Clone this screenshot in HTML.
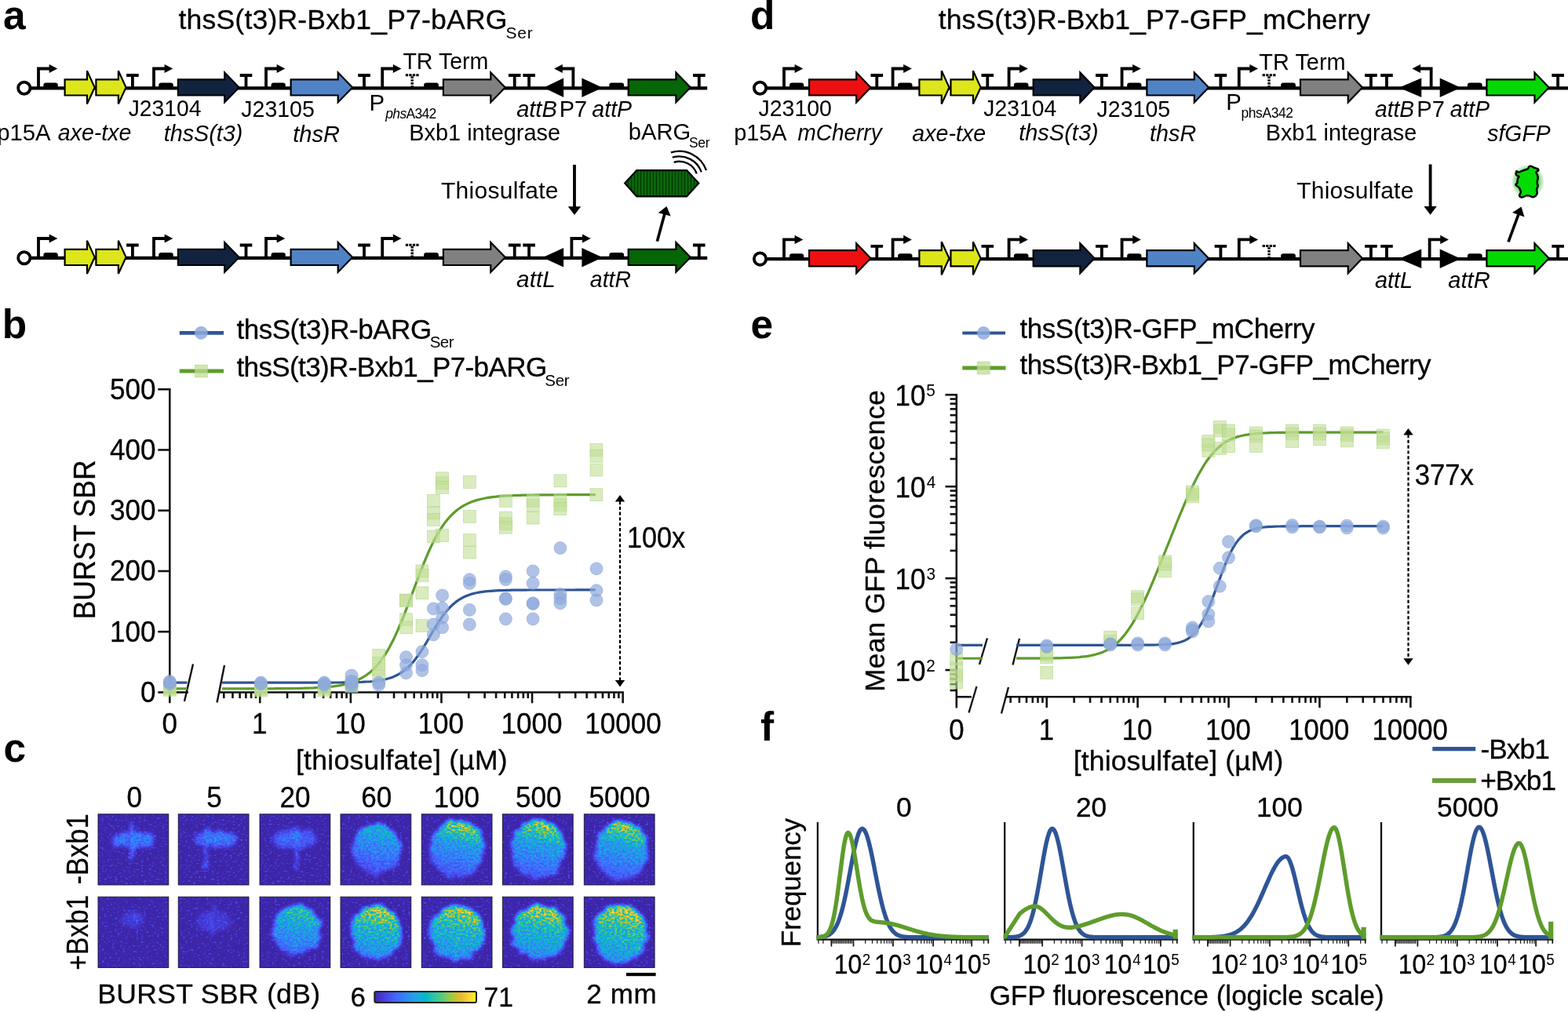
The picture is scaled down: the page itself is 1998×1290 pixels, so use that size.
<!DOCTYPE html>
<html lang="en"><head><meta charset="utf-8"><title>Figure</title>
<style>
html,body{margin:0;padding:0;background:#fff;}
body{width:1998px;height:1290px;overflow:hidden;}
svg{display:block;font-family:'Liberation Sans', sans-serif;fill:#000;}
svg text{fill:#000;}
.bd{stroke:#000;stroke-width:0.3px;stroke-linejoin:round;}
</style></head><body>
<svg width="1998" height="1290" viewBox="0 0 1998 1290">
<rect x="0" y="0" width="1998" height="1290" fill="#fff"/>
<line x1="38" y1="112.3" x2="901.2" y2="112.3" stroke="#000" stroke-width="4.2"/>
<circle cx="30.8" cy="112.2" r="7.65" fill="#fff" stroke="#000" stroke-width="3.8"/>
<path d="M49.0,112.3 V87.50 H63.5" fill="none" stroke="#000" stroke-width="3.8" stroke-linejoin="miter"/>
<path d="M62.6,81.90 L73.3,87.50 L62.6,93.10 Z" fill="#000"/>
<path d="M55.39999999999999,113.8 V108.60 Q55.39999999999999,105.40 58.599999999999994,105.40 H70.6 Q73.8,105.40 73.8,108.60 V113.8 Z" fill="#000"/>
<path d="M82.60,101.30 H110.94 V90.30 L120.64,111.40 L110.94,132.50 V121.50 H82.60 Z" fill="#dde61a" stroke="#000" stroke-width="2.2" stroke-linejoin="miter" stroke-miterlimit="2.5"/>
<path d="M122.40,101.30 H150.84 V90.30 L160.54,111.40 L150.84,132.50 V121.50 H122.40 Z" fill="#dde61a" stroke="#000" stroke-width="2.2" stroke-linejoin="miter" stroke-miterlimit="2.5"/>
<path d="M168.9,112.3 V96.00 M161.1,96.00 H176.70000000000002" fill="none" stroke="#000" stroke-width="3.8"/>
<path d="M196.0,112.3 V87.50 H210.5" fill="none" stroke="#000" stroke-width="3.8" stroke-linejoin="miter"/>
<path d="M209.6,81.90 L220.3,87.50 L209.6,93.10 Z" fill="#000"/>
<path d="M202.2,113.8 V108.60 Q202.2,105.40 205.39999999999998,105.40 H217.60000000000002 Q220.8,105.40 220.8,108.60 V113.8 Z" fill="#000"/>
<path d="M226.90,101.30 H286.20 V92.40 L304.64,111.40 L286.20,130.40 V121.50 H226.90 Z" fill="#12233f" stroke="#000" stroke-width="2.2" stroke-linejoin="miter" stroke-miterlimit="8"/>
<path d="M313.5,112.3 V96.00 M305.7,96.00 H321.3" fill="none" stroke="#000" stroke-width="3.8"/>
<path d="M339.0,112.3 V87.50 H353.5" fill="none" stroke="#000" stroke-width="3.8" stroke-linejoin="miter"/>
<path d="M352.6,81.90 L363.3,87.50 L352.6,93.10 Z" fill="#000"/>
<path d="M345.5,113.8 V108.60 Q345.5,105.40 348.7,105.40 H360.59999999999997 Q363.79999999999995,105.40 363.79999999999995,108.60 V113.8 Z" fill="#000"/>
<path d="M370.60,101.30 H430.70 V92.40 L449.14,111.40 L430.70,130.40 V121.50 H370.60 Z" fill="#5083c6" stroke="#000" stroke-width="2.2" stroke-linejoin="miter" stroke-miterlimit="8"/>
<path d="M464.0,112.3 V96.00 M456.2,96.00 H471.8" fill="none" stroke="#000" stroke-width="3.8"/>
<path d="M487.2,112.3 V87.50 H501.7" fill="none" stroke="#000" stroke-width="3.8" stroke-linejoin="miter"/>
<path d="M500.8,81.90 L511.5,87.50 L500.8,93.10 Z" fill="#000"/>
<path d="M516.8000000000001,95.70 H533.6" fill="none" stroke="#000" stroke-width="3" stroke-dasharray="3.3 1.2"/>
<path d="M525.2,97.30 V110.80" fill="none" stroke="#000" stroke-width="3.4" stroke-dasharray="2.6 1.3"/>
<path d="M540.1,113.8 V108.60 Q540.1,105.40 543.3000000000001,105.40 H555.6999999999999 Q558.9,105.40 558.9,108.60 V113.8 Z" fill="#000"/>
<path d="M564.90,101.30 H625.30 V92.40 L643.74,111.40 L625.30,130.40 V121.50 H564.90 Z" fill="#808080" stroke="#000" stroke-width="2.2" stroke-linejoin="miter" stroke-miterlimit="8"/>
<path d="M655.7,112.3 V96.00 M647.9000000000001,96.00 H663.5" fill="none" stroke="#000" stroke-width="3.8"/>
<path d="M674.1,112.3 V96.00 M666.3000000000001,96.00 H681.9" fill="none" stroke="#000" stroke-width="3.8"/>
<path d="M718.1,99.6 L692.7,111.8 L718.1,124.0 Z" fill="#000"/>
<path d="M730.4,112.3 V87.50 H715.9" fill="none" stroke="#000" stroke-width="3.8" stroke-linejoin="miter"/>
<path d="M716.8,81.90 L706.1,87.50 L716.8,93.10 Z" fill="#000"/>
<path d="M741.4,99.6 L767.8,111.8 L741.4,124.0 Z" fill="#000"/>
<path d="M776.3,113.8 V108.60 Q776.3,105.40 779.5,105.40 H791.9000000000001 Q795.1000000000001,105.40 795.1000000000001,108.60 V113.8 Z" fill="#000"/>
<path d="M800.70,101.30 H861.40 V92.40 L879.84,111.40 L861.40,130.40 V121.50 H800.70 Z" fill="#046604" stroke="#000" stroke-width="2.2" stroke-linejoin="miter" stroke-miterlimit="8"/>
<path d="M890.8,112.3 V96.00 M883.0,96.00 H898.5999999999999" fill="none" stroke="#000" stroke-width="3.8"/>
<line x1="38" y1="328.8" x2="901.2" y2="328.8" stroke="#000" stroke-width="4.2"/>
<circle cx="30.8" cy="328.7" r="7.65" fill="#fff" stroke="#000" stroke-width="3.8"/>
<path d="M49.0,328.8 V304.00 H63.5" fill="none" stroke="#000" stroke-width="3.8" stroke-linejoin="miter"/>
<path d="M62.6,298.40 L73.3,304.00 L62.6,309.60 Z" fill="#000"/>
<path d="M55.39999999999999,330.3 V325.10 Q55.39999999999999,321.90 58.599999999999994,321.90 H70.6 Q73.8,321.90 73.8,325.10 V330.3 Z" fill="#000"/>
<path d="M82.60,317.80 H110.94 V306.80 L120.64,327.90 L110.94,349.00 V338.00 H82.60 Z" fill="#dde61a" stroke="#000" stroke-width="2.2" stroke-linejoin="miter" stroke-miterlimit="2.5"/>
<path d="M122.40,317.80 H150.84 V306.80 L160.54,327.90 L150.84,349.00 V338.00 H122.40 Z" fill="#dde61a" stroke="#000" stroke-width="2.2" stroke-linejoin="miter" stroke-miterlimit="2.5"/>
<path d="M168.9,328.8 V312.50 M161.1,312.50 H176.70000000000002" fill="none" stroke="#000" stroke-width="3.8"/>
<path d="M196.0,328.8 V304.00 H210.5" fill="none" stroke="#000" stroke-width="3.8" stroke-linejoin="miter"/>
<path d="M209.6,298.40 L220.3,304.00 L209.6,309.60 Z" fill="#000"/>
<path d="M202.2,330.3 V325.10 Q202.2,321.90 205.39999999999998,321.90 H217.60000000000002 Q220.8,321.90 220.8,325.10 V330.3 Z" fill="#000"/>
<path d="M226.90,317.80 H286.20 V308.90 L304.64,327.90 L286.20,346.90 V338.00 H226.90 Z" fill="#12233f" stroke="#000" stroke-width="2.2" stroke-linejoin="miter" stroke-miterlimit="8"/>
<path d="M313.5,328.8 V312.50 M305.7,312.50 H321.3" fill="none" stroke="#000" stroke-width="3.8"/>
<path d="M339.0,328.8 V304.00 H353.5" fill="none" stroke="#000" stroke-width="3.8" stroke-linejoin="miter"/>
<path d="M352.6,298.40 L363.3,304.00 L352.6,309.60 Z" fill="#000"/>
<path d="M345.5,330.3 V325.10 Q345.5,321.90 348.7,321.90 H360.59999999999997 Q363.79999999999995,321.90 363.79999999999995,325.10 V330.3 Z" fill="#000"/>
<path d="M370.60,317.80 H430.70 V308.90 L449.14,327.90 L430.70,346.90 V338.00 H370.60 Z" fill="#5083c6" stroke="#000" stroke-width="2.2" stroke-linejoin="miter" stroke-miterlimit="8"/>
<path d="M464.0,328.8 V312.50 M456.2,312.50 H471.8" fill="none" stroke="#000" stroke-width="3.8"/>
<path d="M487.2,328.8 V304.00 H501.7" fill="none" stroke="#000" stroke-width="3.8" stroke-linejoin="miter"/>
<path d="M500.8,298.40 L511.5,304.00 L500.8,309.60 Z" fill="#000"/>
<path d="M516.8000000000001,312.20 H533.6" fill="none" stroke="#000" stroke-width="3" stroke-dasharray="3.3 1.2"/>
<path d="M525.2,313.80 V327.30" fill="none" stroke="#000" stroke-width="3.4" stroke-dasharray="2.6 1.3"/>
<path d="M540.1,330.3 V325.10 Q540.1,321.90 543.3000000000001,321.90 H555.6999999999999 Q558.9,321.90 558.9,325.10 V330.3 Z" fill="#000"/>
<path d="M564.90,317.80 H625.30 V308.90 L643.74,327.90 L625.30,346.90 V338.00 H564.90 Z" fill="#808080" stroke="#000" stroke-width="2.2" stroke-linejoin="miter" stroke-miterlimit="8"/>
<path d="M655.7,328.8 V312.50 M647.9000000000001,312.50 H663.5" fill="none" stroke="#000" stroke-width="3.8"/>
<path d="M674.1,328.8 V312.50 M666.3000000000001,312.50 H681.9" fill="none" stroke="#000" stroke-width="3.8"/>
<path d="M718.1,316.1 L691.4,328.3 L718.1,340.5 Z" fill="#000"/>
<path d="M728.4,328.8 V304.00 H742.9" fill="none" stroke="#000" stroke-width="3.8" stroke-linejoin="miter"/>
<path d="M742.0,298.40 L752.6999999999999,304.00 L742.0,309.60 Z" fill="#000"/>
<path d="M741.4,316.1 L767.8,328.3 L741.4,340.5 Z" fill="#000"/>
<path d="M776.3,330.3 V325.10 Q776.3,321.90 779.5,321.90 H791.9000000000001 Q795.1000000000001,321.90 795.1000000000001,325.10 V330.3 Z" fill="#000"/>
<path d="M800.70,317.80 H861.40 V308.90 L879.84,327.90 L861.40,346.90 V338.00 H800.70 Z" fill="#046604" stroke="#000" stroke-width="2.2" stroke-linejoin="miter" stroke-miterlimit="8"/>
<path d="M890.8,328.8 V312.50 M883.0,312.50 H898.5999999999999" fill="none" stroke="#000" stroke-width="3.8"/>
<line x1="976" y1="112.3" x2="1998" y2="112.3" stroke="#000" stroke-width="4.2"/>
<circle cx="968.5" cy="112.2" r="7.65" fill="#fff" stroke="#000" stroke-width="3.8"/>
<path d="M999.0,112.3 V87.50 H1013.5" fill="none" stroke="#000" stroke-width="3.8" stroke-linejoin="miter"/>
<path d="M1012.6,81.90 L1023.3,87.50 L1012.6,93.10 Z" fill="#000"/>
<path d="M1006.0,113.8 V108.60 Q1006.0,105.40 1009.2,105.40 H1021.0 Q1024.2,105.40 1024.2,108.60 V113.8 Z" fill="#000"/>
<path d="M1031.10,101.30 H1091.20 V92.40 L1109.44,111.40 L1091.20,130.40 V121.50 H1031.10 Z" fill="#ee1010" stroke="#000" stroke-width="2.2" stroke-linejoin="miter" stroke-miterlimit="8"/>
<path d="M1117.3,112.3 V96.00 M1109.5,96.00 H1125.1" fill="none" stroke="#000" stroke-width="3.8"/>
<path d="M1137.6,112.3 V87.50 H1152.1" fill="none" stroke="#000" stroke-width="3.8" stroke-linejoin="miter"/>
<path d="M1151.1999999999998,81.90 L1161.8999999999999,87.50 L1151.1999999999998,93.10 Z" fill="#000"/>
<path d="M1144.1060799999998,113.8 V108.60 Q1144.1060799999998,105.40 1147.3060799999998,105.40 H1159.3060799999998 Q1162.5060799999999,105.40 1162.5060799999999,108.60 V113.8 Z" fill="#000"/>
<path d="M1171.42,101.30 H1199.79 V90.30 L1209.49,111.40 L1199.79,132.50 V121.50 H1171.42 Z" fill="#dde61a" stroke="#000" stroke-width="2.2" stroke-linejoin="miter" stroke-miterlimit="2.5"/>
<path d="M1211.49,101.30 H1239.96 V90.30 L1249.66,111.40 L1239.96,132.50 V121.50 H1211.49 Z" fill="#dde61a" stroke="#000" stroke-width="2.2" stroke-linejoin="miter" stroke-miterlimit="2.5"/>
<path d="M1258.31532,112.3 V96.00 M1250.51532,96.00 H1266.1153199999999" fill="none" stroke="#000" stroke-width="3.8"/>
<path d="M1285.5996,112.3 V87.50 H1300.0996" fill="none" stroke="#000" stroke-width="3.8" stroke-linejoin="miter"/>
<path d="M1299.1996,81.90 L1309.8996,87.50 L1299.1996,93.10 Z" fill="#000"/>
<path d="M1291.905,113.8 V108.60 Q1291.905,105.40 1295.105,105.40 H1307.3049999999998 Q1310.5049999999999,105.40 1310.5049999999999,108.60 V113.8 Z" fill="#000"/>
<path d="M1316.70,101.30 H1376.35 V92.40 L1394.59,111.40 L1376.35,130.40 V121.50 H1316.70 Z" fill="#12233f" stroke="#000" stroke-width="2.2" stroke-linejoin="miter" stroke-miterlimit="8"/>
<path d="M1403.8986,112.3 V96.00 M1396.0986,96.00 H1411.6986" fill="none" stroke="#000" stroke-width="3.8"/>
<path d="M1429.572,112.3 V87.50 H1444.072" fill="none" stroke="#000" stroke-width="3.8" stroke-linejoin="miter"/>
<path d="M1443.1719999999998,81.90 L1453.8719999999998,87.50 L1443.1719999999998,93.10 Z" fill="#000"/>
<path d="M1436.1784199999997,113.8 V108.60 Q1436.1784199999997,105.40 1439.3784199999998,105.40 H1451.2784199999999 Q1454.47842,105.40 1454.47842,108.60 V113.8 Z" fill="#000"/>
<path d="M1461.38,101.30 H1521.83 V92.40 L1540.07,111.40 L1521.83,130.40 V121.50 H1461.38 Z" fill="#5083c6" stroke="#000" stroke-width="2.2" stroke-linejoin="miter" stroke-miterlimit="8"/>
<path d="M1555.4219999999998,112.3 V96.00 M1547.6219999999998,96.00 H1563.2219999999998" fill="none" stroke="#000" stroke-width="3.8"/>
<path d="M1578.77976,112.3 V87.50 H1593.27976" fill="none" stroke="#000" stroke-width="3.8" stroke-linejoin="miter"/>
<path d="M1592.3797599999998,81.90 L1603.0797599999999,87.50 L1592.3797599999998,93.10 Z" fill="#000"/>
<path d="M1608.6381599999997,95.70 H1625.43816" fill="none" stroke="#000" stroke-width="3" stroke-dasharray="3.3 1.2"/>
<path d="M1617.0381599999998,97.30 V110.80" fill="none" stroke="#000" stroke-width="3.4" stroke-dasharray="2.6 1.3"/>
<path d="M1632.1034,113.8 V108.60 Q1632.1034,105.40 1635.3034,105.40 H1647.7033999999996 Q1650.9033999999997,105.40 1650.9033999999997,108.60 V113.8 Z" fill="#000"/>
<path d="M1657.00,101.30 H1717.75 V92.40 L1735.99,111.40 L1717.75,130.40 V121.50 H1657.00 Z" fill="#808080" stroke="#000" stroke-width="2.2" stroke-linejoin="miter" stroke-miterlimit="8"/>
<path d="M1746.92556,112.3 V96.00 M1739.12556,96.00 H1754.7255599999999" fill="none" stroke="#000" stroke-width="3.8"/>
<path d="M1766.95068,112.3 V96.00 M1759.15068,96.00 H1774.7506799999999" fill="none" stroke="#000" stroke-width="3.8"/>
<path d="M1811.2498799999998,99.6 L1782.5791999999997,111.8 L1811.2498799999998,124.0 Z" fill="#000"/>
<path d="M1823.6335199999999,112.3 V87.50 H1809.1335199999999" fill="none" stroke="#000" stroke-width="3.8" stroke-linejoin="miter"/>
<path d="M1810.03352,81.90 L1799.33352,87.50 L1810.03352,93.10 Z" fill="#000"/>
<path d="M1834.7083199999997,99.6 L1861.28784,111.8 L1834.7083199999997,124.0 Z" fill="#000"/>
<path d="M1869.9095599999998,113.8 V108.60 Q1869.9095599999998,105.40 1873.1095599999999,105.40 H1885.50956 Q1888.70956,105.40 1888.70956,108.60 V113.8 Z" fill="#000"/>
<path d="M1894.40,101.30 H1955.46 V92.40 L1973.70,111.40 L1955.46,130.40 V121.50 H1894.40 Z" fill="#04d804" stroke="#000" stroke-width="2.2" stroke-linejoin="miter" stroke-miterlimit="8"/>
<path d="M1985.1242399999996,112.3 V96.00 M1977.3242399999997,96.00 H1992.9242399999996" fill="none" stroke="#000" stroke-width="3.8"/>
<line x1="976" y1="330.2" x2="1998" y2="330.2" stroke="#000" stroke-width="4.2"/>
<circle cx="968.5" cy="330.09999999999997" r="7.65" fill="#fff" stroke="#000" stroke-width="3.8"/>
<path d="M999.0,330.2 V305.40 H1013.5" fill="none" stroke="#000" stroke-width="3.8" stroke-linejoin="miter"/>
<path d="M1012.6,299.80 L1023.3,305.40 L1012.6,311.00 Z" fill="#000"/>
<path d="M1006.0,331.7 V326.50 Q1006.0,323.30 1009.2,323.30 H1021.0 Q1024.2,323.30 1024.2,326.50 V331.7 Z" fill="#000"/>
<path d="M1031.10,319.20 H1091.20 V310.30 L1109.44,329.30 L1091.20,348.30 V339.40 H1031.10 Z" fill="#ee1010" stroke="#000" stroke-width="2.2" stroke-linejoin="miter" stroke-miterlimit="8"/>
<path d="M1117.3,330.2 V313.90 M1109.5,313.90 H1125.1" fill="none" stroke="#000" stroke-width="3.8"/>
<path d="M1137.6,330.2 V305.40 H1152.1" fill="none" stroke="#000" stroke-width="3.8" stroke-linejoin="miter"/>
<path d="M1151.1999999999998,299.80 L1161.8999999999999,305.40 L1151.1999999999998,311.00 Z" fill="#000"/>
<path d="M1144.1060799999998,331.7 V326.50 Q1144.1060799999998,323.30 1147.3060799999998,323.30 H1159.3060799999998 Q1162.5060799999999,323.30 1162.5060799999999,326.50 V331.7 Z" fill="#000"/>
<path d="M1171.42,319.20 H1199.79 V308.20 L1209.49,329.30 L1199.79,350.40 V339.40 H1171.42 Z" fill="#dde61a" stroke="#000" stroke-width="2.2" stroke-linejoin="miter" stroke-miterlimit="2.5"/>
<path d="M1211.49,319.20 H1239.96 V308.20 L1249.66,329.30 L1239.96,350.40 V339.40 H1211.49 Z" fill="#dde61a" stroke="#000" stroke-width="2.2" stroke-linejoin="miter" stroke-miterlimit="2.5"/>
<path d="M1258.31532,330.2 V313.90 M1250.51532,313.90 H1266.1153199999999" fill="none" stroke="#000" stroke-width="3.8"/>
<path d="M1285.5996,330.2 V305.40 H1300.0996" fill="none" stroke="#000" stroke-width="3.8" stroke-linejoin="miter"/>
<path d="M1299.1996,299.80 L1309.8996,305.40 L1299.1996,311.00 Z" fill="#000"/>
<path d="M1291.905,331.7 V326.50 Q1291.905,323.30 1295.105,323.30 H1307.3049999999998 Q1310.5049999999999,323.30 1310.5049999999999,326.50 V331.7 Z" fill="#000"/>
<path d="M1316.70,319.20 H1376.35 V310.30 L1394.59,329.30 L1376.35,348.30 V339.40 H1316.70 Z" fill="#12233f" stroke="#000" stroke-width="2.2" stroke-linejoin="miter" stroke-miterlimit="8"/>
<path d="M1403.8986,330.2 V313.90 M1396.0986,313.90 H1411.6986" fill="none" stroke="#000" stroke-width="3.8"/>
<path d="M1429.572,330.2 V305.40 H1444.072" fill="none" stroke="#000" stroke-width="3.8" stroke-linejoin="miter"/>
<path d="M1443.1719999999998,299.80 L1453.8719999999998,305.40 L1443.1719999999998,311.00 Z" fill="#000"/>
<path d="M1436.1784199999997,331.7 V326.50 Q1436.1784199999997,323.30 1439.3784199999998,323.30 H1451.2784199999999 Q1454.47842,323.30 1454.47842,326.50 V331.7 Z" fill="#000"/>
<path d="M1461.38,319.20 H1521.83 V310.30 L1540.07,329.30 L1521.83,348.30 V339.40 H1461.38 Z" fill="#5083c6" stroke="#000" stroke-width="2.2" stroke-linejoin="miter" stroke-miterlimit="8"/>
<path d="M1555.4219999999998,330.2 V313.90 M1547.6219999999998,313.90 H1563.2219999999998" fill="none" stroke="#000" stroke-width="3.8"/>
<path d="M1578.77976,330.2 V305.40 H1593.27976" fill="none" stroke="#000" stroke-width="3.8" stroke-linejoin="miter"/>
<path d="M1592.3797599999998,299.80 L1603.0797599999999,305.40 L1592.3797599999998,311.00 Z" fill="#000"/>
<path d="M1608.6381599999997,313.60 H1625.43816" fill="none" stroke="#000" stroke-width="3" stroke-dasharray="3.3 1.2"/>
<path d="M1617.0381599999998,315.20 V328.70" fill="none" stroke="#000" stroke-width="3.4" stroke-dasharray="2.6 1.3"/>
<path d="M1632.1034,331.7 V326.50 Q1632.1034,323.30 1635.3034,323.30 H1647.7033999999996 Q1650.9033999999997,323.30 1650.9033999999997,326.50 V331.7 Z" fill="#000"/>
<path d="M1657.00,319.20 H1717.75 V310.30 L1735.99,329.30 L1717.75,348.30 V339.40 H1657.00 Z" fill="#808080" stroke="#000" stroke-width="2.2" stroke-linejoin="miter" stroke-miterlimit="8"/>
<path d="M1746.92556,330.2 V313.90 M1739.12556,313.90 H1754.7255599999999" fill="none" stroke="#000" stroke-width="3.8"/>
<path d="M1766.95068,330.2 V313.90 M1759.15068,313.90 H1774.7506799999999" fill="none" stroke="#000" stroke-width="3.8"/>
<path d="M1811.2498799999998,317.5 L1782.5791999999997,329.7 L1811.2498799999998,341.9 Z" fill="#000"/>
<path d="M1821.6199199999999,330.2 V305.40 H1836.1199199999999" fill="none" stroke="#000" stroke-width="3.8" stroke-linejoin="miter"/>
<path d="M1835.2199199999998,299.80 L1845.9199199999998,305.40 L1835.2199199999998,311.00 Z" fill="#000"/>
<path d="M1834.7083199999997,317.5 L1861.28784,329.7 L1834.7083199999997,341.9 Z" fill="#000"/>
<path d="M1869.9095599999998,331.7 V326.50 Q1869.9095599999998,323.30 1873.1095599999999,323.30 H1885.50956 Q1888.70956,323.30 1888.70956,326.50 V331.7 Z" fill="#000"/>
<path d="M1894.40,319.20 H1955.46 V310.30 L1973.70,329.30 L1955.46,348.30 V339.40 H1894.40 Z" fill="#04d804" stroke="#000" stroke-width="2.2" stroke-linejoin="miter" stroke-miterlimit="8"/>
<path d="M1985.1242399999996,330.2 V313.90 M1977.3242399999997,313.90 H1992.9242399999996" fill="none" stroke="#000" stroke-width="3.8"/>
<text x="4.09" y="37.00" font-size="51.4" font-weight="bold">a</text>
<text x="227.46" y="37.00" font-size="35.6" textLength="419.00" lengthAdjust="spacing" class="bd">thsS(t3)R-Bxb1_P7-bARG</text>
<text x="644.55" y="48.80" font-size="21" textLength="34.10" lengthAdjust="spacing">Ser</text>
<text x="163.76" y="148.30" font-size="29.3" textLength="92.67" lengthAdjust="spacingAndGlyphs">J23104</text>
<text x="307.35" y="148.50" font-size="29.3" textLength="93.44" lengthAdjust="spacingAndGlyphs">J23105</text>
<text x="-3.89" y="179.10" font-size="29.3" textLength="68.45" lengthAdjust="spacingAndGlyphs">p15A</text>
<text x="73.86" y="179.10" font-size="29.3" textLength="93.50" lengthAdjust="spacingAndGlyphs" font-style="italic">axe-txe</text>
<text x="208.69" y="179.70" font-size="29.3" textLength="100.62" lengthAdjust="spacingAndGlyphs" font-style="italic">thsS(t3)</text>
<text x="373.18" y="180.70" font-size="29.3" textLength="59.71" lengthAdjust="spacingAndGlyphs" font-style="italic">thsR</text>
<text x="470.60" y="140.50" font-size="29.3">P</text>
<text x="491.3" y="150.5" font-size="17.5" textLength="65" lengthAdjust="spacing"><tspan font-style="italic">phs</tspan>A342</text>
<text x="513.38" y="87.60" font-size="29.3" textLength="109.04" lengthAdjust="spacingAndGlyphs">TR Term</text>
<text x="521.23" y="179.30" font-size="29.3" textLength="192.86" lengthAdjust="spacingAndGlyphs">Bxb1 integrase</text>
<text x="658.15" y="149.30" font-size="29.3" textLength="51.64" lengthAdjust="spacingAndGlyphs" font-style="italic">attB</text>
<text x="712.63" y="149.30" font-size="29.3" textLength="35.32" lengthAdjust="spacingAndGlyphs">P7</text>
<text x="754.36" y="149.30" font-size="29.3" textLength="50.82" lengthAdjust="spacingAndGlyphs" font-style="italic">attP</text>
<text x="800.72" y="177.70" font-size="29.3" textLength="79.46" lengthAdjust="spacingAndGlyphs">bARG</text>
<text x="878.01" y="187.90" font-size="17.5" textLength="26.49" lengthAdjust="spacing">Ser</text>
<text x="561.93" y="253.20" font-size="30" textLength="149.61" lengthAdjust="spacing">Thiosulfate</text>
<text x="658.13" y="366.30" font-size="29.3" textLength="49.54" lengthAdjust="spacingAndGlyphs" font-style="italic">attL</text>
<text x="751.86" y="366.30" font-size="29.3" textLength="52.01" lengthAdjust="spacingAndGlyphs" font-style="italic">attR</text>
<line x1="732" y1="210" x2="732" y2="265" stroke="#000" stroke-width="3.8"/>
<path d="M723.8,263.2 L740.2,263.2 L732,274 Z" fill="#000"/>
<line x1="1822.6" y1="209.5" x2="1822.6" y2="264.8" stroke="#000" stroke-width="3.8"/>
<path d="M1814.3999999999999,263.0 L1830.8,263.0 L1822.6,273.8 Z" fill="#000"/>
<line x1="837.40" y1="307.60" x2="847.20" y2="271.49" stroke="#000" stroke-width="3.6"/>
<path d="M854.59,275.57 L849.50,263.00 L838.76,271.28 Z" fill="#000"/>
<line x1="1922.00" y1="308.30" x2="1935.45" y2="271.86" stroke="#000" stroke-width="3.6"/>
<path d="M1942.45,276.57 L1938.50,263.60 L1927.07,270.89 Z" fill="#000"/>
<defs><pattern id="stripes" x="811.6" y="0" width="4.0" height="10" patternUnits="userSpaceOnUse"><rect x="0" y="0" width="4.0" height="10" fill="#0b700b"/><rect x="0" y="0" width="1.7" height="10" fill="#033803"/></pattern></defs>
<path d="M796.2,233.6 L811.3,217.2 H875.1 L890.3,233.6 L875.1,250.3 H811.3 Z" fill="url(#stripes)" stroke="#000" stroke-width="2.2" stroke-linejoin="miter"/>
<path d="M858.73,206.83 A23.5,23.5 0 0 1 887.75,221.46" fill="none" stroke="#000" stroke-width="2.3"/>
<path d="M856.86,200.71 A29.9,29.9 0 0 1 893.78,219.32" fill="none" stroke="#000" stroke-width="2.3"/>
<path d="M854.93,194.39 A36.5,36.5 0 0 1 900.01,217.12" fill="none" stroke="#000" stroke-width="2.3"/>
<text x="955.99" y="37.00" font-size="51.4" font-weight="bold">d</text>
<text x="1195.76" y="37.00" font-size="35.6" textLength="550.11" lengthAdjust="spacing" class="bd">thsS(t3)R-Bxb1_P7-GFP_mCherry</text>
<text x="966.56" y="148.00" font-size="29.3" textLength="93.36" lengthAdjust="spacingAndGlyphs">J23100</text>
<text x="935.14" y="178.50" font-size="29.3" textLength="67.42" lengthAdjust="spacingAndGlyphs">p15A</text>
<text x="1016.54" y="178.50" font-size="29.3" textLength="107.06" lengthAdjust="spacingAndGlyphs" font-style="italic">mCherry</text>
<text x="1162.36" y="180.00" font-size="29.3" textLength="93.70" lengthAdjust="spacingAndGlyphs" font-style="italic">axe-txe</text>
<text x="1253.36" y="148.00" font-size="29.3" textLength="92.77" lengthAdjust="spacingAndGlyphs">J23104</text>
<text x="1298.18" y="178.50" font-size="29.3" textLength="101.54" lengthAdjust="spacingAndGlyphs" font-style="italic">thsS(t3)</text>
<text x="1397.55" y="149.10" font-size="29.3" textLength="93.64" lengthAdjust="spacingAndGlyphs">J23105</text>
<text x="1465.09" y="180.10" font-size="29.3" textLength="59.19" lengthAdjust="spacingAndGlyphs" font-style="italic">thsR</text>
<text x="1562.20" y="140.30" font-size="29.3">P</text>
<text x="1581.47" y="150.20" font-size="17.5" textLength="66.51" lengthAdjust="spacing">phsA342</text>
<text x="1604.37" y="89.20" font-size="29.3" textLength="110.27" lengthAdjust="spacingAndGlyphs">TR Term</text>
<text x="1612.63" y="178.50" font-size="29.3" textLength="192.65" lengthAdjust="spacingAndGlyphs">Bxb1 integrase</text>
<text x="1751.97" y="149.30" font-size="29.3" textLength="50.10" lengthAdjust="spacingAndGlyphs" font-style="italic">attB</text>
<text x="1805.32" y="149.30" font-size="29.3" textLength="35.55" lengthAdjust="spacingAndGlyphs">P7</text>
<text x="1847.76" y="149.30" font-size="29.3" textLength="50.31" lengthAdjust="spacingAndGlyphs" font-style="italic">attP</text>
<text x="1895.33" y="180.10" font-size="29.3" textLength="80.25" lengthAdjust="spacingAndGlyphs" font-style="italic">sfGFP</text>
<text x="1652.13" y="253.40" font-size="30" textLength="149.21" lengthAdjust="spacing">Thiosulfate</text>
<text x="1751.95" y="367.20" font-size="29.3" textLength="48.16" lengthAdjust="spacingAndGlyphs" font-style="italic">attL</text>
<text x="1845.35" y="367.20" font-size="29.3" textLength="53.35" lengthAdjust="spacingAndGlyphs" font-style="italic">attR</text>
<defs><radialGradient id="glow"><stop offset="0" stop-color="#35c435" stop-opacity="1"/><stop offset="0.62" stop-color="#4ccb4c" stop-opacity="0.85"/><stop offset="0.85" stop-color="#7bd87b" stop-opacity="0.45"/><stop offset="1" stop-color="#b0e8b0" stop-opacity="0"/></radialGradient></defs>
<ellipse cx="1946.8" cy="231.4" rx="21.8" ry="22.6" fill="url(#glow)"/>
<path d="M1932.56,218.26 C1933.53,218.10 1933.33,219.34 1934.88,219.53 C1936.43,219.73 1935.27,219.55 1937.21,218.84 C1939.15,218.12 1938.37,218.26 1940.70,217.38 C1943.02,216.51 1942.09,217.00 1944.19,216.22 C1946.28,215.45 1945.66,216.22 1946.98,215.06 C1948.29,213.90 1947.13,213.80 1948.14,212.73 C1949.15,211.67 1948.60,211.96 1950.00,211.86 C1951.40,211.76 1950.78,211.86 1952.33,212.44 C1953.88,213.02 1952.91,212.87 1954.65,213.60 C1956.40,214.34 1955.81,213.97 1957.56,214.65 C1959.30,215.33 1958.99,214.73 1959.88,215.64 C1960.78,216.55 1960.72,216.47 1960.23,217.38 C1959.75,218.29 1959.42,217.66 1958.43,218.37 C1957.44,219.09 1957.36,218.57 1957.27,219.53 C1957.17,220.50 1957.46,219.77 1958.14,221.28 C1958.82,222.79 1958.80,221.98 1959.30,224.07 C1959.81,226.16 1959.84,225.23 1959.65,227.56 C1959.46,229.88 1958.93,228.72 1958.72,231.05 C1958.51,233.37 1958.72,232.60 1959.01,234.53 C1959.30,236.47 1959.79,234.92 1959.59,236.86 C1959.40,238.80 1958.91,238.22 1958.43,240.35 C1957.95,242.48 1958.04,241.51 1958.14,243.26 C1958.24,245.00 1958.91,243.84 1958.72,245.58 C1958.53,247.33 1958.72,246.84 1957.56,248.49 C1956.40,250.14 1956.98,249.65 1955.23,250.52 C1953.49,251.40 1954.07,251.30 1952.33,251.10 C1950.58,250.91 1951.94,250.52 1950.00,249.94 C1948.06,249.36 1948.84,249.36 1946.51,249.36 C1944.19,249.36 1945.16,249.26 1943.02,249.94 C1940.89,250.62 1941.86,251.01 1940.12,251.40 C1938.37,251.78 1939.15,251.78 1937.79,251.10 C1936.43,250.43 1936.24,250.81 1936.05,249.36 C1935.85,247.91 1936.63,248.39 1937.21,246.74 C1937.79,245.10 1937.98,246.36 1937.79,244.42 C1937.60,242.48 1937.60,242.87 1936.63,240.93 C1935.66,238.99 1936.24,239.96 1934.88,238.60 C1933.53,237.25 1933.72,238.02 1932.56,236.86 C1931.40,235.70 1931.20,236.28 1931.40,235.12 C1931.59,233.95 1932.36,235.12 1933.14,233.37 C1933.91,231.63 1933.33,232.02 1933.72,229.88 C1934.11,227.75 1933.72,228.53 1934.30,226.98 C1934.88,225.43 1935.85,226.30 1935.47,225.23 C1935.08,224.17 1934.40,224.84 1933.14,223.78 C1931.88,222.71 1932.07,223.29 1931.69,222.03 C1931.30,220.78 1931.69,221.26 1931.98,220.00 C1932.27,218.74 1931.59,218.41 1932.56,218.26 Z" fill="#03dc03" stroke="#000" stroke-width="2.5" stroke-linejoin="round"/>
<text x="2.71" y="431.30" font-size="51.4" font-weight="bold">b</text>
<line x1="228.8" y1="424.3" x2="285" y2="424.3" stroke="#2f5597" stroke-width="4.7"/>
<circle cx="256.3" cy="424.3" r="8.1" fill="#8faadc" fill-opacity="0.85" stroke="#7f9fd8" stroke-opacity="0.7" stroke-width="0.7"/>
<line x1="228.8" y1="473" x2="285" y2="473" stroke="#5e9c2c" stroke-width="4.9"/>
<rect x="248.4" y="465.1" width="15.9" height="15.9" fill="#c0dd94" fill-opacity="0.75" stroke="#b2d684" stroke-opacity="0.75" stroke-width="0.7"/>
<text x="301.47" y="431.70" font-size="35" textLength="248.64" lengthAdjust="spacing" class="bd">thsS(t3)R-bARG</text>
<text x="547.67" y="442.60" font-size="20.5" textLength="30.87" lengthAdjust="spacing">Ser</text>
<text x="301.47" y="480.00" font-size="35" textLength="395.64" lengthAdjust="spacing" class="bd">thsS(t3)R-Bxb1_P7-bARG</text>
<text x="694.37" y="491.60" font-size="20.5" textLength="31.27" lengthAdjust="spacing">Ser</text>
<path d="M216.3,494.95 V896.3" stroke="#111" stroke-width="2.6" fill="none"/>
<path d="M201.3,882.50 H216.3" stroke="#111" stroke-width="2.6" fill="none"/>
<text x="179.08" y="894.90" font-size="36.8" textLength="19.48" lengthAdjust="spacingAndGlyphs" class="bd">0</text>
<path d="M201.3,805.25 H216.3" stroke="#111" stroke-width="2.6" fill="none"/>
<text x="140.12" y="817.65" font-size="36.8" textLength="58.45" lengthAdjust="spacingAndGlyphs" class="bd">100</text>
<path d="M201.3,728.00 H216.3" stroke="#111" stroke-width="2.6" fill="none"/>
<text x="140.12" y="740.40" font-size="36.8" textLength="58.45" lengthAdjust="spacingAndGlyphs" class="bd">200</text>
<path d="M201.3,650.75 H216.3" stroke="#111" stroke-width="2.6" fill="none"/>
<text x="140.12" y="663.15" font-size="36.8" textLength="58.45" lengthAdjust="spacingAndGlyphs" class="bd">300</text>
<path d="M201.3,573.50 H216.3" stroke="#111" stroke-width="2.6" fill="none"/>
<text x="140.12" y="585.90" font-size="36.8" textLength="58.45" lengthAdjust="spacingAndGlyphs" class="bd">400</text>
<path d="M201.3,496.25 H216.3" stroke="#111" stroke-width="2.6" fill="none"/>
<text x="140.12" y="508.65" font-size="36.8" textLength="58.45" lengthAdjust="spacingAndGlyphs" class="bd">500</text>
<path d="M216.3,882.5 H240" stroke="#111" stroke-width="2.6" fill="none"/>
<path d="M280,882.5 H794.95" stroke="#111" stroke-width="2.6" fill="none"/>
<path d="M331.25,882.5 v13.8" stroke="#111" stroke-width="2.6" fill="none"/>
<path d="M446.85,882.5 v13.8" stroke="#111" stroke-width="2.6" fill="none"/>
<path d="M562.45,882.5 v13.8" stroke="#111" stroke-width="2.6" fill="none"/>
<path d="M678.05,882.5 v13.8" stroke="#111" stroke-width="2.6" fill="none"/>
<path d="M793.65,882.5 v13.8" stroke="#111" stroke-width="2.6" fill="none"/>
<path d="M285.25,882.5 v7.6" stroke="#111" stroke-width="2.6" fill="none"/>
<path d="M296.45,882.5 v7.6" stroke="#111" stroke-width="2.6" fill="none"/>
<path d="M305.60,882.5 v7.6" stroke="#111" stroke-width="2.6" fill="none"/>
<path d="M313.34,882.5 v7.6" stroke="#111" stroke-width="2.6" fill="none"/>
<path d="M320.05,882.5 v7.6" stroke="#111" stroke-width="2.6" fill="none"/>
<path d="M325.96,882.5 v7.6" stroke="#111" stroke-width="2.6" fill="none"/>
<path d="M366.05,882.5 v7.6" stroke="#111" stroke-width="2.6" fill="none"/>
<path d="M386.41,882.5 v7.6" stroke="#111" stroke-width="2.6" fill="none"/>
<path d="M400.85,882.5 v7.6" stroke="#111" stroke-width="2.6" fill="none"/>
<path d="M412.05,882.5 v7.6" stroke="#111" stroke-width="2.6" fill="none"/>
<path d="M421.20,882.5 v7.6" stroke="#111" stroke-width="2.6" fill="none"/>
<path d="M428.94,882.5 v7.6" stroke="#111" stroke-width="2.6" fill="none"/>
<path d="M435.65,882.5 v7.6" stroke="#111" stroke-width="2.6" fill="none"/>
<path d="M441.56,882.5 v7.6" stroke="#111" stroke-width="2.6" fill="none"/>
<path d="M481.65,882.5 v7.6" stroke="#111" stroke-width="2.6" fill="none"/>
<path d="M502.01,882.5 v7.6" stroke="#111" stroke-width="2.6" fill="none"/>
<path d="M516.45,882.5 v7.6" stroke="#111" stroke-width="2.6" fill="none"/>
<path d="M527.65,882.5 v7.6" stroke="#111" stroke-width="2.6" fill="none"/>
<path d="M536.80,882.5 v7.6" stroke="#111" stroke-width="2.6" fill="none"/>
<path d="M544.54,882.5 v7.6" stroke="#111" stroke-width="2.6" fill="none"/>
<path d="M551.25,882.5 v7.6" stroke="#111" stroke-width="2.6" fill="none"/>
<path d="M557.16,882.5 v7.6" stroke="#111" stroke-width="2.6" fill="none"/>
<path d="M597.25,882.5 v7.6" stroke="#111" stroke-width="2.6" fill="none"/>
<path d="M617.61,882.5 v7.6" stroke="#111" stroke-width="2.6" fill="none"/>
<path d="M632.05,882.5 v7.6" stroke="#111" stroke-width="2.6" fill="none"/>
<path d="M643.25,882.5 v7.6" stroke="#111" stroke-width="2.6" fill="none"/>
<path d="M652.40,882.5 v7.6" stroke="#111" stroke-width="2.6" fill="none"/>
<path d="M660.14,882.5 v7.6" stroke="#111" stroke-width="2.6" fill="none"/>
<path d="M666.85,882.5 v7.6" stroke="#111" stroke-width="2.6" fill="none"/>
<path d="M672.76,882.5 v7.6" stroke="#111" stroke-width="2.6" fill="none"/>
<path d="M712.85,882.5 v7.6" stroke="#111" stroke-width="2.6" fill="none"/>
<path d="M733.21,882.5 v7.6" stroke="#111" stroke-width="2.6" fill="none"/>
<path d="M747.65,882.5 v7.6" stroke="#111" stroke-width="2.6" fill="none"/>
<path d="M758.85,882.5 v7.6" stroke="#111" stroke-width="2.6" fill="none"/>
<path d="M768.00,882.5 v7.6" stroke="#111" stroke-width="2.6" fill="none"/>
<path d="M775.74,882.5 v7.6" stroke="#111" stroke-width="2.6" fill="none"/>
<path d="M782.45,882.5 v7.6" stroke="#111" stroke-width="2.6" fill="none"/>
<path d="M788.36,882.5 v7.6" stroke="#111" stroke-width="2.6" fill="none"/>
<line x1="235" y1="894" x2="246" y2="846.5" stroke="#111" stroke-width="2.4"/>
<line x1="276.5" y1="895.5" x2="286" y2="848" stroke="#111" stroke-width="2.4"/>
<text x="206.56" y="935.20" font-size="36.8" textLength="19.48" lengthAdjust="spacingAndGlyphs" class="bd">0</text>
<text x="321.03" y="935.20" font-size="36.8" textLength="19.48" lengthAdjust="spacingAndGlyphs" class="bd">1</text>
<text x="426.72" y="935.20" font-size="36.8" textLength="38.97" lengthAdjust="spacingAndGlyphs" class="bd">10</text>
<text x="532.57" y="935.20" font-size="36.8" textLength="58.45" lengthAdjust="spacingAndGlyphs" class="bd">100</text>
<text x="638.43" y="935.20" font-size="36.8" textLength="77.94" lengthAdjust="spacingAndGlyphs" class="bd">1000</text>
<text x="745.29" y="935.20" font-size="36.8" textLength="97.42" lengthAdjust="spacingAndGlyphs" class="bd">10000</text>
<text x="376.97" y="981.30" font-size="35.5" textLength="269.73" lengthAdjust="spacing" class="bd">[thiosulfate] (µM)</text>
<text transform="translate(120.60 786.50) rotate(-90)" x="-2.91" y="0" font-size="38.4" textLength="203.06" lengthAdjust="spacingAndGlyphs" class="bd">BURST SBR</text>
<path d="M216.3,877.87 H238.5" stroke="#5e9c2c" stroke-width="3.2" fill="none"/>
<polyline points="283.0,877.9 286.4,877.9 289.8,877.9 293.3,877.9 296.7,877.9 300.1,877.9 303.5,877.8 307.0,877.8 310.4,877.8 313.8,877.8 317.2,877.8 320.7,877.8 324.1,877.8 327.5,877.8 330.9,877.8 334.4,877.8 337.8,877.8 341.2,877.8 344.6,877.8 348.0,877.8 351.5,877.7 354.9,877.7 358.3,877.7 361.7,877.7 365.2,877.6 368.6,877.6 372.0,877.6 375.4,877.5 378.9,877.5 382.3,877.4 385.7,877.3 389.1,877.2 392.5,877.1 396.0,877.0 399.4,876.9 402.8,876.7 406.2,876.5 409.7,876.3 413.1,876.1 416.5,875.8 419.9,875.5 423.4,875.1 426.8,874.7 430.2,874.2 433.6,873.6 437.1,872.9 440.5,872.1 443.9,871.2 447.3,870.2 450.7,869.0 454.2,867.6 457.6,866.0 461.0,864.2 464.4,862.2 467.9,859.8 471.3,857.2 474.7,854.1 478.1,850.7 481.6,846.9 485.0,842.6 488.4,837.9 491.8,832.6 495.3,826.8 498.7,820.5 502.1,813.7 505.5,806.3 508.9,798.5 512.4,790.3 515.8,781.7 519.2,772.7 522.6,763.6 526.1,754.4 529.5,745.2 532.9,736.1 536.3,727.2 539.8,718.6 543.2,710.3 546.6,702.5 550.0,695.1 553.4,688.2 556.9,681.9 560.3,676.1 563.7,670.8 567.1,666.1 570.6,661.8 574.0,657.9 577.4,654.5 580.8,651.5 584.3,648.8 587.7,646.4 591.1,644.4 594.5,642.6 598.0,641.0 601.4,639.6 604.8,638.4 608.2,637.4 611.6,636.5 615.1,635.7 618.5,635.0 621.9,634.4 625.3,633.9 628.8,633.4 632.2,633.1 635.6,632.7 639.0,632.4 642.5,632.2 645.9,632.0 649.3,631.8 652.7,631.6 656.1,631.5 659.6,631.4 663.0,631.3 666.4,631.2 669.8,631.1 673.3,631.1 676.7,631.0 680.1,631.0 683.5,630.9 687.0,630.9 690.4,630.9 693.8,630.8 697.2,630.8 700.7,630.8 704.1,630.8 707.5,630.8 710.9,630.7 714.3,630.7 717.8,630.7 721.2,630.7 724.6,630.7 728.0,630.7 731.5,630.7 734.9,630.7 738.3,630.7 741.7,630.7 745.2,630.7 748.6,630.7 752.0,630.7 755.4,630.7 758.9,630.7" stroke="#5e9c2c" stroke-width="3.2" fill="none" stroke-linejoin="round"/>
<path d="M216.3,870.14 H238.5" stroke="#2f5597" stroke-width="3.2" fill="none"/>
<polyline points="283.0,870.1 286.4,870.1 289.8,870.1 293.3,870.1 296.7,870.1 300.1,870.1 303.5,870.1 307.0,870.1 310.4,870.1 313.8,870.1 317.2,870.1 320.7,870.1 324.1,870.1 327.5,870.1 330.9,870.1 334.4,870.1 337.8,870.1 341.2,870.1 344.6,870.1 348.0,870.1 351.5,870.1 354.9,870.1 358.3,870.1 361.7,870.1 365.2,870.1 368.6,870.1 372.0,870.1 375.4,870.1 378.9,870.1 382.3,870.1 385.7,870.1 389.1,870.1 392.5,870.1 396.0,870.1 399.4,870.1 402.8,870.1 406.2,870.1 409.7,870.1 413.1,870.1 416.5,870.1 419.9,870.1 423.4,870.1 426.8,870.0 430.2,870.0 433.6,870.0 437.1,869.9 440.5,869.9 443.9,869.9 447.3,869.8 450.7,869.7 454.2,869.6 457.6,869.5 461.0,869.4 464.4,869.2 467.9,869.0 471.3,868.8 474.7,868.5 478.1,868.1 481.6,867.6 485.0,867.1 488.4,866.5 491.8,865.7 495.3,864.8 498.7,863.7 502.1,862.4 505.5,860.8 508.9,858.9 512.4,856.8 515.8,854.2 519.2,851.3 522.6,848.0 526.1,844.2 529.5,840.0 532.9,835.3 536.3,830.3 539.8,824.9 543.2,819.2 546.6,813.4 550.0,807.6 553.4,801.8 556.9,796.2 560.3,790.9 563.7,785.9 567.1,781.3 570.6,777.2 574.0,773.5 577.4,770.2 580.8,767.4 584.3,764.9 587.7,762.8 591.1,761.0 594.5,759.5 598.0,758.2 601.4,757.1 604.8,756.2 608.2,755.5 611.6,754.9 615.1,754.4 618.5,753.9 621.9,753.6 625.3,753.3 628.8,753.1 632.2,752.9 635.6,752.7 639.0,752.6 642.5,752.5 645.9,752.4 649.3,752.3 652.7,752.2 656.1,752.2 659.6,752.1 663.0,752.1 666.4,752.1 669.8,752.1 673.3,752.0 676.7,752.0 680.1,752.0 683.5,752.0 687.0,752.0 690.4,752.0 693.8,752.0 697.2,752.0 700.7,752.0 704.1,752.0 707.5,752.0 710.9,752.0 714.3,752.0 717.8,752.0 721.2,752.0 724.6,752.0 728.0,752.0 731.5,752.0 734.9,751.9 738.3,751.9 741.7,751.9 745.2,751.9 748.6,751.9 752.0,751.9 755.4,751.9 758.9,751.9" stroke="#2f5597" stroke-width="3.2" fill="none" stroke-linejoin="round"/>
<rect x="208.4" y="868.4" width="15.9" height="15.9" fill="#c0dd94" fill-opacity="0.6" stroke="#b2d684" stroke-opacity="0.75" stroke-width="0.7"/>
<rect x="208.4" y="871.5" width="15.9" height="15.9" fill="#c0dd94" fill-opacity="0.6" stroke="#b2d684" stroke-opacity="0.75" stroke-width="0.7"/>
<rect x="208.4" y="869.9" width="15.9" height="15.9" fill="#c0dd94" fill-opacity="0.6" stroke="#b2d684" stroke-opacity="0.75" stroke-width="0.7"/>
<rect x="324.4" y="868.4" width="15.9" height="15.9" fill="#c0dd94" fill-opacity="0.6" stroke="#b2d684" stroke-opacity="0.75" stroke-width="0.7"/>
<rect x="324.4" y="870.7" width="15.9" height="15.9" fill="#c0dd94" fill-opacity="0.6" stroke="#b2d684" stroke-opacity="0.75" stroke-width="0.7"/>
<rect x="324.4" y="872.2" width="15.9" height="15.9" fill="#c0dd94" fill-opacity="0.6" stroke="#b2d684" stroke-opacity="0.75" stroke-width="0.7"/>
<rect x="405.2" y="867.6" width="15.9" height="15.9" fill="#c0dd94" fill-opacity="0.6" stroke="#b2d684" stroke-opacity="0.75" stroke-width="0.7"/>
<rect x="405.2" y="869.9" width="15.9" height="15.9" fill="#c0dd94" fill-opacity="0.6" stroke="#b2d684" stroke-opacity="0.75" stroke-width="0.7"/>
<rect x="405.2" y="871.5" width="15.9" height="15.9" fill="#c0dd94" fill-opacity="0.6" stroke="#b2d684" stroke-opacity="0.75" stroke-width="0.7"/>
<rect x="440.0" y="862.2" width="15.9" height="15.9" fill="#c0dd94" fill-opacity="0.6" stroke="#b2d684" stroke-opacity="0.75" stroke-width="0.7"/>
<rect x="440.0" y="866.8" width="15.9" height="15.9" fill="#c0dd94" fill-opacity="0.6" stroke="#b2d684" stroke-opacity="0.75" stroke-width="0.7"/>
<rect x="440.0" y="865.3" width="15.9" height="15.9" fill="#c0dd94" fill-opacity="0.6" stroke="#b2d684" stroke-opacity="0.75" stroke-width="0.7"/>
<rect x="474.8" y="827.4" width="15.9" height="15.9" fill="#c0dd94" fill-opacity="0.6" stroke="#b2d684" stroke-opacity="0.75" stroke-width="0.7"/>
<rect x="474.8" y="837.5" width="15.9" height="15.9" fill="#c0dd94" fill-opacity="0.6" stroke="#b2d684" stroke-opacity="0.75" stroke-width="0.7"/>
<rect x="474.8" y="845.2" width="15.9" height="15.9" fill="#c0dd94" fill-opacity="0.6" stroke="#b2d684" stroke-opacity="0.75" stroke-width="0.7"/>
<rect x="474.8" y="854.5" width="15.9" height="15.9" fill="#c0dd94" fill-opacity="0.6" stroke="#b2d684" stroke-opacity="0.75" stroke-width="0.7"/>
<rect x="509.6" y="757.1" width="15.9" height="15.9" fill="#c0dd94" fill-opacity="0.6" stroke="#b2d684" stroke-opacity="0.75" stroke-width="0.7"/>
<rect x="509.6" y="757.9" width="15.9" height="15.9" fill="#c0dd94" fill-opacity="0.6" stroke="#b2d684" stroke-opacity="0.75" stroke-width="0.7"/>
<rect x="509.6" y="781.8" width="15.9" height="15.9" fill="#c0dd94" fill-opacity="0.6" stroke="#b2d684" stroke-opacity="0.75" stroke-width="0.7"/>
<rect x="509.6" y="791.9" width="15.9" height="15.9" fill="#c0dd94" fill-opacity="0.6" stroke="#b2d684" stroke-opacity="0.75" stroke-width="0.7"/>
<rect x="530.0" y="720.0" width="15.9" height="15.9" fill="#c0dd94" fill-opacity="0.6" stroke="#b2d684" stroke-opacity="0.75" stroke-width="0.7"/>
<rect x="530.0" y="725.5" width="15.9" height="15.9" fill="#c0dd94" fill-opacity="0.6" stroke="#b2d684" stroke-opacity="0.75" stroke-width="0.7"/>
<rect x="530.0" y="747.9" width="15.9" height="15.9" fill="#c0dd94" fill-opacity="0.6" stroke="#b2d684" stroke-opacity="0.75" stroke-width="0.7"/>
<rect x="530.0" y="789.6" width="15.9" height="15.9" fill="#c0dd94" fill-opacity="0.6" stroke="#b2d684" stroke-opacity="0.75" stroke-width="0.7"/>
<rect x="544.4" y="630.4" width="15.9" height="15.9" fill="#c0dd94" fill-opacity="0.6" stroke="#b2d684" stroke-opacity="0.75" stroke-width="0.7"/>
<rect x="544.4" y="645.9" width="15.9" height="15.9" fill="#c0dd94" fill-opacity="0.6" stroke="#b2d684" stroke-opacity="0.75" stroke-width="0.7"/>
<rect x="544.4" y="654.4" width="15.9" height="15.9" fill="#c0dd94" fill-opacity="0.6" stroke="#b2d684" stroke-opacity="0.75" stroke-width="0.7"/>
<rect x="544.4" y="676.0" width="15.9" height="15.9" fill="#c0dd94" fill-opacity="0.6" stroke="#b2d684" stroke-opacity="0.75" stroke-width="0.7"/>
<rect x="555.6" y="601.9" width="15.9" height="15.9" fill="#c0dd94" fill-opacity="0.6" stroke="#b2d684" stroke-opacity="0.75" stroke-width="0.7"/>
<rect x="555.6" y="608.0" width="15.9" height="15.9" fill="#c0dd94" fill-opacity="0.6" stroke="#b2d684" stroke-opacity="0.75" stroke-width="0.7"/>
<rect x="555.6" y="613.4" width="15.9" height="15.9" fill="#c0dd94" fill-opacity="0.6" stroke="#b2d684" stroke-opacity="0.75" stroke-width="0.7"/>
<rect x="555.6" y="674.5" width="15.9" height="15.9" fill="#c0dd94" fill-opacity="0.6" stroke="#b2d684" stroke-opacity="0.75" stroke-width="0.7"/>
<rect x="590.4" y="606.5" width="15.9" height="15.9" fill="#c0dd94" fill-opacity="0.6" stroke="#b2d684" stroke-opacity="0.75" stroke-width="0.7"/>
<rect x="590.4" y="650.5" width="15.9" height="15.9" fill="#c0dd94" fill-opacity="0.6" stroke="#b2d684" stroke-opacity="0.75" stroke-width="0.7"/>
<rect x="590.4" y="680.7" width="15.9" height="15.9" fill="#c0dd94" fill-opacity="0.6" stroke="#b2d684" stroke-opacity="0.75" stroke-width="0.7"/>
<rect x="590.4" y="696.1" width="15.9" height="15.9" fill="#c0dd94" fill-opacity="0.6" stroke="#b2d684" stroke-opacity="0.75" stroke-width="0.7"/>
<rect x="636.4" y="630.4" width="15.9" height="15.9" fill="#c0dd94" fill-opacity="0.6" stroke="#b2d684" stroke-opacity="0.75" stroke-width="0.7"/>
<rect x="636.4" y="652.1" width="15.9" height="15.9" fill="#c0dd94" fill-opacity="0.6" stroke="#b2d684" stroke-opacity="0.75" stroke-width="0.7"/>
<rect x="636.4" y="659.8" width="15.9" height="15.9" fill="#c0dd94" fill-opacity="0.6" stroke="#b2d684" stroke-opacity="0.75" stroke-width="0.7"/>
<rect x="636.4" y="664.4" width="15.9" height="15.9" fill="#c0dd94" fill-opacity="0.6" stroke="#b2d684" stroke-opacity="0.75" stroke-width="0.7"/>
<rect x="671.2" y="630.4" width="15.9" height="15.9" fill="#c0dd94" fill-opacity="0.6" stroke="#b2d684" stroke-opacity="0.75" stroke-width="0.7"/>
<rect x="671.2" y="636.6" width="15.9" height="15.9" fill="#c0dd94" fill-opacity="0.6" stroke="#b2d684" stroke-opacity="0.75" stroke-width="0.7"/>
<rect x="671.2" y="652.1" width="15.9" height="15.9" fill="#c0dd94" fill-opacity="0.6" stroke="#b2d684" stroke-opacity="0.75" stroke-width="0.7"/>
<rect x="706.0" y="604.9" width="15.9" height="15.9" fill="#c0dd94" fill-opacity="0.6" stroke="#b2d684" stroke-opacity="0.75" stroke-width="0.7"/>
<rect x="706.0" y="629.7" width="15.9" height="15.9" fill="#c0dd94" fill-opacity="0.6" stroke="#b2d684" stroke-opacity="0.75" stroke-width="0.7"/>
<rect x="706.0" y="635.8" width="15.9" height="15.9" fill="#c0dd94" fill-opacity="0.6" stroke="#b2d684" stroke-opacity="0.75" stroke-width="0.7"/>
<rect x="706.0" y="640.5" width="15.9" height="15.9" fill="#c0dd94" fill-opacity="0.6" stroke="#b2d684" stroke-opacity="0.75" stroke-width="0.7"/>
<rect x="752.0" y="565.5" width="15.9" height="15.9" fill="#c0dd94" fill-opacity="0.6" stroke="#b2d684" stroke-opacity="0.75" stroke-width="0.7"/>
<rect x="752.0" y="573.3" width="15.9" height="15.9" fill="#c0dd94" fill-opacity="0.6" stroke="#b2d684" stroke-opacity="0.75" stroke-width="0.7"/>
<rect x="752.0" y="591.0" width="15.9" height="15.9" fill="#c0dd94" fill-opacity="0.6" stroke="#b2d684" stroke-opacity="0.75" stroke-width="0.7"/>
<rect x="752.0" y="622.7" width="15.9" height="15.9" fill="#c0dd94" fill-opacity="0.6" stroke="#b2d684" stroke-opacity="0.75" stroke-width="0.7"/>
<circle cx="216.3" cy="870.1" r="8.0" fill="#8faadc" fill-opacity="0.7" stroke="#7f9fd8" stroke-opacity="0.7" stroke-width="0.7"/>
<circle cx="216.3" cy="871.7" r="8.0" fill="#8faadc" fill-opacity="0.7" stroke="#7f9fd8" stroke-opacity="0.7" stroke-width="0.7"/>
<circle cx="216.3" cy="868.6" r="8.0" fill="#8faadc" fill-opacity="0.7" stroke="#7f9fd8" stroke-opacity="0.7" stroke-width="0.7"/>
<circle cx="332.4" cy="870.1" r="8.0" fill="#8faadc" fill-opacity="0.7" stroke="#7f9fd8" stroke-opacity="0.7" stroke-width="0.7"/>
<circle cx="332.4" cy="871.7" r="8.0" fill="#8faadc" fill-opacity="0.7" stroke="#7f9fd8" stroke-opacity="0.7" stroke-width="0.7"/>
<circle cx="413.2" cy="871.7" r="8.0" fill="#8faadc" fill-opacity="0.7" stroke="#7f9fd8" stroke-opacity="0.7" stroke-width="0.7"/>
<circle cx="413.2" cy="873.2" r="8.0" fill="#8faadc" fill-opacity="0.7" stroke="#7f9fd8" stroke-opacity="0.7" stroke-width="0.7"/>
<circle cx="413.2" cy="870.1" r="8.0" fill="#8faadc" fill-opacity="0.7" stroke="#7f9fd8" stroke-opacity="0.7" stroke-width="0.7"/>
<circle cx="448.0" cy="860.9" r="8.0" fill="#8faadc" fill-opacity="0.7" stroke="#7f9fd8" stroke-opacity="0.7" stroke-width="0.7"/>
<circle cx="448.0" cy="871.7" r="8.0" fill="#8faadc" fill-opacity="0.7" stroke="#7f9fd8" stroke-opacity="0.7" stroke-width="0.7"/>
<circle cx="448.0" cy="874.8" r="8.0" fill="#8faadc" fill-opacity="0.7" stroke="#7f9fd8" stroke-opacity="0.7" stroke-width="0.7"/>
<circle cx="448.0" cy="868.6" r="8.0" fill="#8faadc" fill-opacity="0.7" stroke="#7f9fd8" stroke-opacity="0.7" stroke-width="0.7"/>
<circle cx="482.7" cy="870.1" r="8.0" fill="#8faadc" fill-opacity="0.7" stroke="#7f9fd8" stroke-opacity="0.7" stroke-width="0.7"/>
<circle cx="482.7" cy="873.2" r="8.0" fill="#8faadc" fill-opacity="0.7" stroke="#7f9fd8" stroke-opacity="0.7" stroke-width="0.7"/>
<circle cx="517.5" cy="837.7" r="8.0" fill="#8faadc" fill-opacity="0.7" stroke="#7f9fd8" stroke-opacity="0.7" stroke-width="0.7"/>
<circle cx="517.5" cy="847.7" r="8.0" fill="#8faadc" fill-opacity="0.7" stroke="#7f9fd8" stroke-opacity="0.7" stroke-width="0.7"/>
<circle cx="517.5" cy="857.8" r="8.0" fill="#8faadc" fill-opacity="0.7" stroke="#7f9fd8" stroke-opacity="0.7" stroke-width="0.7"/>
<circle cx="537.9" cy="830.7" r="8.0" fill="#8faadc" fill-opacity="0.7" stroke="#7f9fd8" stroke-opacity="0.7" stroke-width="0.7"/>
<circle cx="537.9" cy="847.7" r="8.0" fill="#8faadc" fill-opacity="0.7" stroke="#7f9fd8" stroke-opacity="0.7" stroke-width="0.7"/>
<circle cx="537.9" cy="854.7" r="8.0" fill="#8faadc" fill-opacity="0.7" stroke="#7f9fd8" stroke-opacity="0.7" stroke-width="0.7"/>
<circle cx="552.3" cy="775.9" r="8.0" fill="#8faadc" fill-opacity="0.7" stroke="#7f9fd8" stroke-opacity="0.7" stroke-width="0.7"/>
<circle cx="552.3" cy="796.0" r="8.0" fill="#8faadc" fill-opacity="0.7" stroke="#7f9fd8" stroke-opacity="0.7" stroke-width="0.7"/>
<circle cx="552.3" cy="809.1" r="8.0" fill="#8faadc" fill-opacity="0.7" stroke="#7f9fd8" stroke-opacity="0.7" stroke-width="0.7"/>
<circle cx="563.6" cy="758.9" r="8.0" fill="#8faadc" fill-opacity="0.7" stroke="#7f9fd8" stroke-opacity="0.7" stroke-width="0.7"/>
<circle cx="563.6" cy="775.1" r="8.0" fill="#8faadc" fill-opacity="0.7" stroke="#7f9fd8" stroke-opacity="0.7" stroke-width="0.7"/>
<circle cx="563.6" cy="787.5" r="8.0" fill="#8faadc" fill-opacity="0.7" stroke="#7f9fd8" stroke-opacity="0.7" stroke-width="0.7"/>
<circle cx="563.6" cy="799.8" r="8.0" fill="#8faadc" fill-opacity="0.7" stroke="#7f9fd8" stroke-opacity="0.7" stroke-width="0.7"/>
<circle cx="598.3" cy="738.8" r="8.0" fill="#8faadc" fill-opacity="0.7" stroke="#7f9fd8" stroke-opacity="0.7" stroke-width="0.7"/>
<circle cx="598.3" cy="743.5" r="8.0" fill="#8faadc" fill-opacity="0.7" stroke="#7f9fd8" stroke-opacity="0.7" stroke-width="0.7"/>
<circle cx="598.3" cy="777.4" r="8.0" fill="#8faadc" fill-opacity="0.7" stroke="#7f9fd8" stroke-opacity="0.7" stroke-width="0.7"/>
<circle cx="598.3" cy="796.0" r="8.0" fill="#8faadc" fill-opacity="0.7" stroke="#7f9fd8" stroke-opacity="0.7" stroke-width="0.7"/>
<circle cx="644.4" cy="735.0" r="8.0" fill="#8faadc" fill-opacity="0.7" stroke="#7f9fd8" stroke-opacity="0.7" stroke-width="0.7"/>
<circle cx="644.4" cy="738.8" r="8.0" fill="#8faadc" fill-opacity="0.7" stroke="#7f9fd8" stroke-opacity="0.7" stroke-width="0.7"/>
<circle cx="644.4" cy="762.8" r="8.0" fill="#8faadc" fill-opacity="0.7" stroke="#7f9fd8" stroke-opacity="0.7" stroke-width="0.7"/>
<circle cx="644.4" cy="763.5" r="8.0" fill="#8faadc" fill-opacity="0.7" stroke="#7f9fd8" stroke-opacity="0.7" stroke-width="0.7"/>
<circle cx="644.4" cy="789.0" r="8.0" fill="#8faadc" fill-opacity="0.7" stroke="#7f9fd8" stroke-opacity="0.7" stroke-width="0.7"/>
<circle cx="679.1" cy="728.0" r="8.0" fill="#8faadc" fill-opacity="0.7" stroke="#7f9fd8" stroke-opacity="0.7" stroke-width="0.7"/>
<circle cx="679.1" cy="743.5" r="8.0" fill="#8faadc" fill-opacity="0.7" stroke="#7f9fd8" stroke-opacity="0.7" stroke-width="0.7"/>
<circle cx="679.1" cy="768.9" r="8.0" fill="#8faadc" fill-opacity="0.7" stroke="#7f9fd8" stroke-opacity="0.7" stroke-width="0.7"/>
<circle cx="679.1" cy="769.7" r="8.0" fill="#8faadc" fill-opacity="0.7" stroke="#7f9fd8" stroke-opacity="0.7" stroke-width="0.7"/>
<circle cx="679.1" cy="789.0" r="8.0" fill="#8faadc" fill-opacity="0.7" stroke="#7f9fd8" stroke-opacity="0.7" stroke-width="0.7"/>
<circle cx="713.9" cy="698.6" r="8.0" fill="#8faadc" fill-opacity="0.7" stroke="#7f9fd8" stroke-opacity="0.7" stroke-width="0.7"/>
<circle cx="713.9" cy="757.4" r="8.0" fill="#8faadc" fill-opacity="0.7" stroke="#7f9fd8" stroke-opacity="0.7" stroke-width="0.7"/>
<circle cx="713.9" cy="762.8" r="8.0" fill="#8faadc" fill-opacity="0.7" stroke="#7f9fd8" stroke-opacity="0.7" stroke-width="0.7"/>
<circle cx="713.9" cy="768.9" r="8.0" fill="#8faadc" fill-opacity="0.7" stroke="#7f9fd8" stroke-opacity="0.7" stroke-width="0.7"/>
<circle cx="760.0" cy="724.9" r="8.0" fill="#8faadc" fill-opacity="0.7" stroke="#7f9fd8" stroke-opacity="0.7" stroke-width="0.7"/>
<circle cx="760.0" cy="752.7" r="8.0" fill="#8faadc" fill-opacity="0.7" stroke="#7f9fd8" stroke-opacity="0.7" stroke-width="0.7"/>
<circle cx="760.0" cy="765.1" r="8.0" fill="#8faadc" fill-opacity="0.7" stroke="#7f9fd8" stroke-opacity="0.7" stroke-width="0.7"/>
<line x1="790.0" y1="639" x2="790.0" y2="867.5" stroke="#000" stroke-width="2.2" stroke-dasharray="4.2 2.6"/>
<path d="M783.8,639.5 L790.0,631 L796.2,639.5 Z" fill="#000"/>
<path d="M783.8,867.0 L790.0,875.5 L796.2,867.0 Z" fill="#000"/>
<text x="798.89" y="697.60" font-size="36.8" textLength="74.28" lengthAdjust="spacingAndGlyphs" class="bd">100x</text>
<text x="956.59" y="431.30" font-size="51.4" font-weight="bold">e</text>
<line x1="1226.3" y1="424.5" x2="1281" y2="424.5" stroke="#2f5597" stroke-width="4.2"/>
<circle cx="1253.3" cy="424.5" r="8.1" fill="#8faadc" fill-opacity="0.85" stroke="#7f9fd8" stroke-opacity="0.7" stroke-width="0.7"/>
<line x1="1226.3" y1="469" x2="1281.5" y2="469" stroke="#5e9c2c" stroke-width="5.2"/>
<rect x="1245.3" y="461.1" width="15.9" height="15.9" fill="#c0dd94" fill-opacity="0.75" stroke="#b2d684" stroke-opacity="0.75" stroke-width="0.7"/>
<text x="1299.47" y="431.30" font-size="35" textLength="376.10" lengthAdjust="spacing" class="bd">thsS(t3)R-GFP_mCherry</text>
<text x="1299.47" y="477.30" font-size="35" textLength="524.10" lengthAdjust="spacing" class="bd">thsS(t3)R-Bxb1_P7-GFP_mCherry</text>
<path d="M1218.8,501.95 V902.5" stroke="#111" stroke-width="2.6" fill="none"/>
<path d="M1204.5,854.10 H1218.8" stroke="#111" stroke-width="2.6" fill="none"/>
<text x="1140.60" y="867.60" font-size="36.8" textLength="38.97" lengthAdjust="spacingAndGlyphs" class="bd">10</text>
<text x="1180.16" y="856.20" font-size="22.3" textLength="11.53" lengthAdjust="spacingAndGlyphs">2</text>
<path d="M1204.5,737.15 H1218.8" stroke="#111" stroke-width="2.6" fill="none"/>
<text x="1140.60" y="750.65" font-size="36.8" textLength="38.97" lengthAdjust="spacingAndGlyphs" class="bd">10</text>
<text x="1180.41" y="739.25" font-size="22.3" textLength="11.53" lengthAdjust="spacingAndGlyphs">3</text>
<path d="M1204.5,620.20 H1218.8" stroke="#111" stroke-width="2.6" fill="none"/>
<text x="1140.60" y="633.70" font-size="36.8" textLength="38.97" lengthAdjust="spacingAndGlyphs" class="bd">10</text>
<text x="1180.72" y="622.30" font-size="22.3" textLength="11.53" lengthAdjust="spacingAndGlyphs">4</text>
<path d="M1204.5,503.25 H1218.8" stroke="#111" stroke-width="2.6" fill="none"/>
<text x="1140.60" y="516.75" font-size="36.8" textLength="38.97" lengthAdjust="spacingAndGlyphs" class="bd">10</text>
<text x="1180.37" y="505.35" font-size="22.3" textLength="11.53" lengthAdjust="spacingAndGlyphs">5</text>
<path d="M1210.6,880.05 H1218.8" stroke="#111" stroke-width="2.6" fill="none"/>
<path d="M1210.6,872.22 H1218.8" stroke="#111" stroke-width="2.6" fill="none"/>
<path d="M1210.6,865.43 H1218.8" stroke="#111" stroke-width="2.6" fill="none"/>
<path d="M1210.6,859.45 H1218.8" stroke="#111" stroke-width="2.6" fill="none"/>
<path d="M1210.6,818.89 H1218.8" stroke="#111" stroke-width="2.6" fill="none"/>
<path d="M1210.6,798.30 H1218.8" stroke="#111" stroke-width="2.6" fill="none"/>
<path d="M1210.6,783.69 H1218.8" stroke="#111" stroke-width="2.6" fill="none"/>
<path d="M1210.6,772.36 H1218.8" stroke="#111" stroke-width="2.6" fill="none"/>
<path d="M1210.6,763.10 H1218.8" stroke="#111" stroke-width="2.6" fill="none"/>
<path d="M1210.6,755.27 H1218.8" stroke="#111" stroke-width="2.6" fill="none"/>
<path d="M1210.6,748.48 H1218.8" stroke="#111" stroke-width="2.6" fill="none"/>
<path d="M1210.6,742.50 H1218.8" stroke="#111" stroke-width="2.6" fill="none"/>
<path d="M1210.6,701.94 H1218.8" stroke="#111" stroke-width="2.6" fill="none"/>
<path d="M1210.6,681.35 H1218.8" stroke="#111" stroke-width="2.6" fill="none"/>
<path d="M1210.6,666.74 H1218.8" stroke="#111" stroke-width="2.6" fill="none"/>
<path d="M1210.6,655.41 H1218.8" stroke="#111" stroke-width="2.6" fill="none"/>
<path d="M1210.6,646.15 H1218.8" stroke="#111" stroke-width="2.6" fill="none"/>
<path d="M1210.6,638.32 H1218.8" stroke="#111" stroke-width="2.6" fill="none"/>
<path d="M1210.6,631.53 H1218.8" stroke="#111" stroke-width="2.6" fill="none"/>
<path d="M1210.6,625.55 H1218.8" stroke="#111" stroke-width="2.6" fill="none"/>
<path d="M1210.6,584.99 H1218.8" stroke="#111" stroke-width="2.6" fill="none"/>
<path d="M1210.6,564.40 H1218.8" stroke="#111" stroke-width="2.6" fill="none"/>
<path d="M1210.6,549.79 H1218.8" stroke="#111" stroke-width="2.6" fill="none"/>
<path d="M1210.6,538.46 H1218.8" stroke="#111" stroke-width="2.6" fill="none"/>
<path d="M1210.6,529.20 H1218.8" stroke="#111" stroke-width="2.6" fill="none"/>
<path d="M1210.6,521.37 H1218.8" stroke="#111" stroke-width="2.6" fill="none"/>
<path d="M1210.6,514.58 H1218.8" stroke="#111" stroke-width="2.6" fill="none"/>
<path d="M1210.6,508.60 H1218.8" stroke="#111" stroke-width="2.6" fill="none"/>
<path d="M1218.8,888.3 H1238" stroke="#111" stroke-width="2.6" fill="none"/>
<path d="M1281,888.3 H1798.65" stroke="#111" stroke-width="2.6" fill="none"/>
<path d="M1333.75,888.3 v13.8" stroke="#111" stroke-width="2.6" fill="none"/>
<path d="M1449.65,888.3 v13.8" stroke="#111" stroke-width="2.6" fill="none"/>
<path d="M1565.55,888.3 v13.8" stroke="#111" stroke-width="2.6" fill="none"/>
<path d="M1681.45,888.3 v13.8" stroke="#111" stroke-width="2.6" fill="none"/>
<path d="M1797.35,888.3 v13.8" stroke="#111" stroke-width="2.6" fill="none"/>
<path d="M1287.63,888.3 v7.6" stroke="#111" stroke-width="2.6" fill="none"/>
<path d="M1298.86,888.3 v7.6" stroke="#111" stroke-width="2.6" fill="none"/>
<path d="M1308.04,888.3 v7.6" stroke="#111" stroke-width="2.6" fill="none"/>
<path d="M1315.80,888.3 v7.6" stroke="#111" stroke-width="2.6" fill="none"/>
<path d="M1322.52,888.3 v7.6" stroke="#111" stroke-width="2.6" fill="none"/>
<path d="M1328.45,888.3 v7.6" stroke="#111" stroke-width="2.6" fill="none"/>
<path d="M1368.64,888.3 v7.6" stroke="#111" stroke-width="2.6" fill="none"/>
<path d="M1389.05,888.3 v7.6" stroke="#111" stroke-width="2.6" fill="none"/>
<path d="M1403.53,888.3 v7.6" stroke="#111" stroke-width="2.6" fill="none"/>
<path d="M1414.76,888.3 v7.6" stroke="#111" stroke-width="2.6" fill="none"/>
<path d="M1423.94,888.3 v7.6" stroke="#111" stroke-width="2.6" fill="none"/>
<path d="M1431.70,888.3 v7.6" stroke="#111" stroke-width="2.6" fill="none"/>
<path d="M1438.42,888.3 v7.6" stroke="#111" stroke-width="2.6" fill="none"/>
<path d="M1444.35,888.3 v7.6" stroke="#111" stroke-width="2.6" fill="none"/>
<path d="M1484.54,888.3 v7.6" stroke="#111" stroke-width="2.6" fill="none"/>
<path d="M1504.95,888.3 v7.6" stroke="#111" stroke-width="2.6" fill="none"/>
<path d="M1519.43,888.3 v7.6" stroke="#111" stroke-width="2.6" fill="none"/>
<path d="M1530.66,888.3 v7.6" stroke="#111" stroke-width="2.6" fill="none"/>
<path d="M1539.84,888.3 v7.6" stroke="#111" stroke-width="2.6" fill="none"/>
<path d="M1547.60,888.3 v7.6" stroke="#111" stroke-width="2.6" fill="none"/>
<path d="M1554.32,888.3 v7.6" stroke="#111" stroke-width="2.6" fill="none"/>
<path d="M1560.25,888.3 v7.6" stroke="#111" stroke-width="2.6" fill="none"/>
<path d="M1600.44,888.3 v7.6" stroke="#111" stroke-width="2.6" fill="none"/>
<path d="M1620.85,888.3 v7.6" stroke="#111" stroke-width="2.6" fill="none"/>
<path d="M1635.33,888.3 v7.6" stroke="#111" stroke-width="2.6" fill="none"/>
<path d="M1646.56,888.3 v7.6" stroke="#111" stroke-width="2.6" fill="none"/>
<path d="M1655.74,888.3 v7.6" stroke="#111" stroke-width="2.6" fill="none"/>
<path d="M1663.50,888.3 v7.6" stroke="#111" stroke-width="2.6" fill="none"/>
<path d="M1670.22,888.3 v7.6" stroke="#111" stroke-width="2.6" fill="none"/>
<path d="M1676.15,888.3 v7.6" stroke="#111" stroke-width="2.6" fill="none"/>
<path d="M1716.34,888.3 v7.6" stroke="#111" stroke-width="2.6" fill="none"/>
<path d="M1736.75,888.3 v7.6" stroke="#111" stroke-width="2.6" fill="none"/>
<path d="M1751.23,888.3 v7.6" stroke="#111" stroke-width="2.6" fill="none"/>
<path d="M1762.46,888.3 v7.6" stroke="#111" stroke-width="2.6" fill="none"/>
<path d="M1771.64,888.3 v7.6" stroke="#111" stroke-width="2.6" fill="none"/>
<path d="M1779.40,888.3 v7.6" stroke="#111" stroke-width="2.6" fill="none"/>
<path d="M1786.12,888.3 v7.6" stroke="#111" stroke-width="2.6" fill="none"/>
<path d="M1792.05,888.3 v7.6" stroke="#111" stroke-width="2.6" fill="none"/>
<line x1="1234.5" y1="908.5" x2="1244.5" y2="875" stroke="#111" stroke-width="2.4"/>
<line x1="1276" y1="909.5" x2="1285" y2="876" stroke="#111" stroke-width="2.4"/>
<line x1="1248" y1="847" x2="1258" y2="813.5" stroke="#111" stroke-width="2.4"/>
<line x1="1290.5" y1="847.5" x2="1299" y2="814" stroke="#111" stroke-width="2.4"/>
<text x="1209.16" y="942.50" font-size="36.8" textLength="19.28" lengthAdjust="spacingAndGlyphs" class="bd">0</text>
<text x="1323.64" y="942.50" font-size="36.8" textLength="19.28" lengthAdjust="spacingAndGlyphs" class="bd">1</text>
<text x="1429.73" y="942.50" font-size="36.8" textLength="38.56" lengthAdjust="spacingAndGlyphs" class="bd">10</text>
<text x="1535.99" y="942.50" font-size="36.8" textLength="57.84" lengthAdjust="spacingAndGlyphs" class="bd">100</text>
<text x="1642.25" y="942.50" font-size="36.8" textLength="77.12" lengthAdjust="spacingAndGlyphs" class="bd">1000</text>
<text x="1748.51" y="942.50" font-size="36.8" textLength="96.40" lengthAdjust="spacingAndGlyphs" class="bd">10000</text>
<text x="1367.77" y="982.00" font-size="35.5" textLength="267.53" lengthAdjust="spacing" class="bd">[thiosulfate] (µM)</text>
<text transform="translate(1127.00 878.80) rotate(-90)" x="-2.87" y="0" font-size="35" textLength="384.43" lengthAdjust="spacing" class="bd">Mean GFP fluorescence</text>
<path d="M1218.8,839.24 H1252" stroke="#5e9c2c" stroke-width="3.2" fill="none"/>
<polyline points="1295.0,839.2 1298.4,839.2 1301.7,839.2 1305.1,839.2 1308.5,839.2 1311.8,839.2 1315.2,839.2 1318.5,839.2 1321.9,839.2 1325.3,839.1 1328.6,839.1 1332.0,839.1 1335.4,839.1 1338.7,839.0 1342.1,839.0 1345.4,838.9 1348.8,838.9 1352.2,838.8 1355.5,838.7 1358.9,838.6 1362.3,838.4 1365.6,838.3 1369.0,838.1 1372.3,837.9 1375.7,837.6 1379.1,837.2 1382.4,836.8 1385.8,836.4 1389.2,835.8 1392.5,835.1 1395.9,834.3 1399.3,833.3 1402.6,832.2 1406.0,830.9 1409.3,829.3 1412.7,827.5 1416.1,825.4 1419.4,822.9 1422.8,820.2 1426.2,817.0 1429.5,813.4 1432.9,809.4 1436.2,805.0 1439.6,800.2 1443.0,794.9 1446.3,789.1 1449.7,783.0 1453.1,776.5 1456.4,769.7 1459.8,762.5 1463.2,755.1 1466.5,747.4 1469.9,739.5 1473.2,731.4 1476.6,723.2 1480.0,714.8 1483.3,706.4 1486.7,698.0 1490.1,689.6 1493.4,681.1 1496.8,672.8 1500.1,664.5 1503.5,656.3 1506.9,648.3 1510.2,640.4 1513.6,632.8 1517.0,625.4 1520.3,618.4 1523.7,611.6 1527.0,605.3 1530.4,599.3 1533.8,593.7 1537.1,588.5 1540.5,583.8 1543.9,579.5 1547.2,575.7 1550.6,572.2 1554.0,569.2 1557.3,566.5 1560.7,564.2 1564.0,562.2 1567.4,560.5 1570.8,559.0 1574.1,557.7 1577.5,556.6 1580.9,555.7 1584.2,555.0 1587.6,554.3 1590.9,553.8 1594.3,553.3 1597.7,553.0 1601.0,552.6 1604.4,552.4 1607.8,552.2 1611.1,552.0 1614.5,551.8 1617.9,551.7 1621.2,551.6 1624.6,551.5 1627.9,551.4 1631.3,551.4 1634.7,551.3 1638.0,551.3 1641.4,551.2 1644.8,551.2 1648.1,551.2 1651.5,551.2 1654.8,551.2 1658.2,551.1 1661.6,551.1 1664.9,551.1 1668.3,551.1 1671.7,551.1 1675.0,551.1 1678.4,551.1 1681.7,551.1 1685.1,551.1 1688.5,551.1 1691.8,551.1 1695.2,551.1 1698.6,551.1 1701.9,551.1 1705.3,551.1 1708.7,551.1 1712.0,551.1 1715.4,551.1 1718.7,551.1 1722.1,551.1 1725.5,551.1 1728.8,551.1 1732.2,551.1 1735.6,551.1 1738.9,551.1 1742.3,551.1 1745.6,551.1 1749.0,551.1 1752.4,551.1 1755.7,551.1 1759.1,551.1 1762.5,551.1" stroke="#5e9c2c" stroke-width="3.2" fill="none" stroke-linejoin="round"/>
<path d="M1218.8,822.31 H1252" stroke="#2f5597" stroke-width="3.2" fill="none"/>
<polyline points="1295.0,822.3 1298.4,822.3 1301.7,822.3 1305.1,822.3 1308.5,822.3 1311.8,822.3 1315.2,822.3 1318.5,822.3 1321.9,822.3 1325.3,822.3 1328.6,822.3 1332.0,822.3 1335.4,822.3 1338.7,822.3 1342.1,822.3 1345.4,822.3 1348.8,822.3 1352.2,822.3 1355.5,822.3 1358.9,822.3 1362.3,822.3 1365.6,822.3 1369.0,822.3 1372.3,822.3 1375.7,822.3 1379.1,822.3 1382.4,822.3 1385.8,822.3 1389.2,822.3 1392.5,822.3 1395.9,822.3 1399.3,822.3 1402.6,822.3 1406.0,822.3 1409.3,822.3 1412.7,822.3 1416.1,822.3 1419.4,822.3 1422.8,822.3 1426.2,822.3 1429.5,822.3 1432.9,822.3 1436.2,822.3 1439.6,822.3 1443.0,822.3 1446.3,822.3 1449.7,822.3 1453.1,822.3 1456.4,822.2 1459.8,822.2 1463.2,822.2 1466.5,822.2 1469.9,822.1 1473.2,822.0 1476.6,821.9 1480.0,821.8 1483.3,821.7 1486.7,821.4 1490.1,821.1 1493.4,820.8 1496.8,820.3 1500.1,819.6 1503.5,818.7 1506.9,817.6 1510.2,816.2 1513.6,814.3 1517.0,811.9 1520.3,808.9 1523.7,805.2 1527.0,800.7 1530.4,795.4 1533.8,789.2 1537.1,782.1 1540.5,774.3 1543.9,765.8 1547.2,756.9 1550.6,747.7 1554.0,738.5 1557.3,729.5 1560.7,720.9 1564.0,712.9 1567.4,705.6 1570.8,699.1 1574.1,693.6 1577.5,688.9 1580.9,685.0 1584.2,681.8 1587.6,679.3 1590.9,677.3 1594.3,675.7 1597.7,674.5 1601.0,673.6 1604.4,672.9 1607.8,672.4 1611.1,672.0 1614.5,671.7 1617.9,671.4 1621.2,671.3 1624.6,671.1 1627.9,671.0 1631.3,671.0 1634.7,670.9 1638.0,670.9 1641.4,670.8 1644.8,670.8 1648.1,670.8 1651.5,670.8 1654.8,670.8 1658.2,670.7 1661.6,670.7 1664.9,670.7 1668.3,670.7 1671.7,670.7 1675.0,670.7 1678.4,670.7 1681.7,670.7 1685.1,670.7 1688.5,670.7 1691.8,670.7 1695.2,670.7 1698.6,670.7 1701.9,670.7 1705.3,670.7 1708.7,670.7 1712.0,670.7 1715.4,670.7 1718.7,670.7 1722.1,670.7 1725.5,670.7 1728.8,670.7 1732.2,670.7 1735.6,670.7 1738.9,670.7 1742.3,670.7 1745.6,670.7 1749.0,670.7 1752.4,670.7 1755.7,670.7 1759.1,670.7 1762.5,670.7" stroke="#2f5597" stroke-width="3.2" fill="none" stroke-linejoin="round"/>
<rect x="1210.8" y="832.0" width="15.9" height="15.9" fill="#c0dd94" fill-opacity="0.6" stroke="#b2d684" stroke-opacity="0.75" stroke-width="0.7"/>
<rect x="1210.8" y="844.5" width="15.9" height="15.9" fill="#c0dd94" fill-opacity="0.6" stroke="#b2d684" stroke-opacity="0.75" stroke-width="0.7"/>
<rect x="1210.8" y="853.0" width="15.9" height="15.9" fill="#c0dd94" fill-opacity="0.6" stroke="#b2d684" stroke-opacity="0.75" stroke-width="0.7"/>
<rect x="1210.8" y="862.0" width="15.9" height="15.9" fill="#c0dd94" fill-opacity="0.6" stroke="#b2d684" stroke-opacity="0.75" stroke-width="0.7"/>
<rect x="1325.8" y="827.0" width="15.9" height="15.9" fill="#c0dd94" fill-opacity="0.6" stroke="#b2d684" stroke-opacity="0.75" stroke-width="0.7"/>
<rect x="1325.8" y="830.0" width="15.9" height="15.9" fill="#c0dd94" fill-opacity="0.6" stroke="#b2d684" stroke-opacity="0.75" stroke-width="0.7"/>
<rect x="1325.8" y="849.5" width="15.9" height="15.9" fill="#c0dd94" fill-opacity="0.6" stroke="#b2d684" stroke-opacity="0.75" stroke-width="0.7"/>
<rect x="1406.8" y="804.5" width="15.9" height="15.9" fill="#c0dd94" fill-opacity="0.6" stroke="#b2d684" stroke-opacity="0.75" stroke-width="0.7"/>
<rect x="1406.8" y="809.8" width="15.9" height="15.9" fill="#c0dd94" fill-opacity="0.6" stroke="#b2d684" stroke-opacity="0.75" stroke-width="0.7"/>
<rect x="1441.7" y="752.8" width="15.9" height="15.9" fill="#c0dd94" fill-opacity="0.6" stroke="#b2d684" stroke-opacity="0.75" stroke-width="0.7"/>
<rect x="1441.7" y="773.8" width="15.9" height="15.9" fill="#c0dd94" fill-opacity="0.6" stroke="#b2d684" stroke-opacity="0.75" stroke-width="0.7"/>
<rect x="1441.7" y="756.0" width="15.9" height="15.9" fill="#c0dd94" fill-opacity="0.6" stroke="#b2d684" stroke-opacity="0.75" stroke-width="0.7"/>
<rect x="1476.6" y="708.0" width="15.9" height="15.9" fill="#c0dd94" fill-opacity="0.6" stroke="#b2d684" stroke-opacity="0.75" stroke-width="0.7"/>
<rect x="1476.6" y="720.0" width="15.9" height="15.9" fill="#c0dd94" fill-opacity="0.6" stroke="#b2d684" stroke-opacity="0.75" stroke-width="0.7"/>
<rect x="1476.6" y="711.0" width="15.9" height="15.9" fill="#c0dd94" fill-opacity="0.6" stroke="#b2d684" stroke-opacity="0.75" stroke-width="0.7"/>
<rect x="1511.5" y="619.0" width="15.9" height="15.9" fill="#c0dd94" fill-opacity="0.6" stroke="#b2d684" stroke-opacity="0.75" stroke-width="0.7"/>
<rect x="1511.5" y="625.0" width="15.9" height="15.9" fill="#c0dd94" fill-opacity="0.6" stroke="#b2d684" stroke-opacity="0.75" stroke-width="0.7"/>
<rect x="1511.5" y="622.0" width="15.9" height="15.9" fill="#c0dd94" fill-opacity="0.6" stroke="#b2d684" stroke-opacity="0.75" stroke-width="0.7"/>
<rect x="1531.9" y="554.6" width="15.9" height="15.9" fill="#c0dd94" fill-opacity="0.6" stroke="#b2d684" stroke-opacity="0.75" stroke-width="0.7"/>
<rect x="1531.9" y="566.5" width="15.9" height="15.9" fill="#c0dd94" fill-opacity="0.6" stroke="#b2d684" stroke-opacity="0.75" stroke-width="0.7"/>
<rect x="1531.9" y="559.0" width="15.9" height="15.9" fill="#c0dd94" fill-opacity="0.6" stroke="#b2d684" stroke-opacity="0.75" stroke-width="0.7"/>
<rect x="1546.4" y="536.6" width="15.9" height="15.9" fill="#c0dd94" fill-opacity="0.6" stroke="#b2d684" stroke-opacity="0.75" stroke-width="0.7"/>
<rect x="1546.4" y="541.0" width="15.9" height="15.9" fill="#c0dd94" fill-opacity="0.6" stroke="#b2d684" stroke-opacity="0.75" stroke-width="0.7"/>
<rect x="1546.4" y="563.6" width="15.9" height="15.9" fill="#c0dd94" fill-opacity="0.6" stroke="#b2d684" stroke-opacity="0.75" stroke-width="0.7"/>
<rect x="1557.6" y="541.0" width="15.9" height="15.9" fill="#c0dd94" fill-opacity="0.6" stroke="#b2d684" stroke-opacity="0.75" stroke-width="0.7"/>
<rect x="1557.6" y="546.0" width="15.9" height="15.9" fill="#c0dd94" fill-opacity="0.6" stroke="#b2d684" stroke-opacity="0.75" stroke-width="0.7"/>
<rect x="1557.6" y="561.0" width="15.9" height="15.9" fill="#c0dd94" fill-opacity="0.6" stroke="#b2d684" stroke-opacity="0.75" stroke-width="0.7"/>
<rect x="1592.5" y="544.0" width="15.9" height="15.9" fill="#c0dd94" fill-opacity="0.6" stroke="#b2d684" stroke-opacity="0.75" stroke-width="0.7"/>
<rect x="1592.5" y="548.0" width="15.9" height="15.9" fill="#c0dd94" fill-opacity="0.6" stroke="#b2d684" stroke-opacity="0.75" stroke-width="0.7"/>
<rect x="1592.5" y="560.6" width="15.9" height="15.9" fill="#c0dd94" fill-opacity="0.6" stroke="#b2d684" stroke-opacity="0.75" stroke-width="0.7"/>
<rect x="1638.6" y="541.0" width="15.9" height="15.9" fill="#c0dd94" fill-opacity="0.6" stroke="#b2d684" stroke-opacity="0.75" stroke-width="0.7"/>
<rect x="1638.6" y="545.0" width="15.9" height="15.9" fill="#c0dd94" fill-opacity="0.6" stroke="#b2d684" stroke-opacity="0.75" stroke-width="0.7"/>
<rect x="1638.6" y="554.6" width="15.9" height="15.9" fill="#c0dd94" fill-opacity="0.6" stroke="#b2d684" stroke-opacity="0.75" stroke-width="0.7"/>
<rect x="1673.5" y="541.0" width="15.9" height="15.9" fill="#c0dd94" fill-opacity="0.6" stroke="#b2d684" stroke-opacity="0.75" stroke-width="0.7"/>
<rect x="1673.5" y="545.0" width="15.9" height="15.9" fill="#c0dd94" fill-opacity="0.6" stroke="#b2d684" stroke-opacity="0.75" stroke-width="0.7"/>
<rect x="1673.5" y="552.0" width="15.9" height="15.9" fill="#c0dd94" fill-opacity="0.6" stroke="#b2d684" stroke-opacity="0.75" stroke-width="0.7"/>
<rect x="1708.4" y="544.0" width="15.9" height="15.9" fill="#c0dd94" fill-opacity="0.6" stroke="#b2d684" stroke-opacity="0.75" stroke-width="0.7"/>
<rect x="1708.4" y="547.0" width="15.9" height="15.9" fill="#c0dd94" fill-opacity="0.6" stroke="#b2d684" stroke-opacity="0.75" stroke-width="0.7"/>
<rect x="1708.4" y="554.0" width="15.9" height="15.9" fill="#c0dd94" fill-opacity="0.6" stroke="#b2d684" stroke-opacity="0.75" stroke-width="0.7"/>
<rect x="1754.5" y="547.0" width="15.9" height="15.9" fill="#c0dd94" fill-opacity="0.6" stroke="#b2d684" stroke-opacity="0.75" stroke-width="0.7"/>
<rect x="1754.5" y="551.0" width="15.9" height="15.9" fill="#c0dd94" fill-opacity="0.6" stroke="#b2d684" stroke-opacity="0.75" stroke-width="0.7"/>
<rect x="1754.5" y="556.0" width="15.9" height="15.9" fill="#c0dd94" fill-opacity="0.6" stroke="#b2d684" stroke-opacity="0.75" stroke-width="0.7"/>
<circle cx="1218.8" cy="827.5" r="8.0" fill="#8faadc" fill-opacity="0.7" stroke="#7f9fd8" stroke-opacity="0.7" stroke-width="0.7"/>
<circle cx="1333.8" cy="824.5" r="8.0" fill="#8faadc" fill-opacity="0.7" stroke="#7f9fd8" stroke-opacity="0.7" stroke-width="0.7"/>
<circle cx="1333.8" cy="823.0" r="8.0" fill="#8faadc" fill-opacity="0.7" stroke="#7f9fd8" stroke-opacity="0.7" stroke-width="0.7"/>
<circle cx="1414.8" cy="820.7" r="8.0" fill="#8faadc" fill-opacity="0.7" stroke="#7f9fd8" stroke-opacity="0.7" stroke-width="0.7"/>
<circle cx="1414.8" cy="822.0" r="8.0" fill="#8faadc" fill-opacity="0.7" stroke="#7f9fd8" stroke-opacity="0.7" stroke-width="0.7"/>
<circle cx="1449.7" cy="820.0" r="8.0" fill="#8faadc" fill-opacity="0.7" stroke="#7f9fd8" stroke-opacity="0.7" stroke-width="0.7"/>
<circle cx="1449.7" cy="822.0" r="8.0" fill="#8faadc" fill-opacity="0.7" stroke="#7f9fd8" stroke-opacity="0.7" stroke-width="0.7"/>
<circle cx="1484.5" cy="820.0" r="8.0" fill="#8faadc" fill-opacity="0.7" stroke="#7f9fd8" stroke-opacity="0.7" stroke-width="0.7"/>
<circle cx="1484.5" cy="822.0" r="8.0" fill="#8faadc" fill-opacity="0.7" stroke="#7f9fd8" stroke-opacity="0.7" stroke-width="0.7"/>
<circle cx="1519.4" cy="802.7" r="8.0" fill="#8faadc" fill-opacity="0.7" stroke="#7f9fd8" stroke-opacity="0.7" stroke-width="0.7"/>
<circle cx="1519.4" cy="800.0" r="8.0" fill="#8faadc" fill-opacity="0.7" stroke="#7f9fd8" stroke-opacity="0.7" stroke-width="0.7"/>
<circle cx="1519.4" cy="805.0" r="8.0" fill="#8faadc" fill-opacity="0.7" stroke="#7f9fd8" stroke-opacity="0.7" stroke-width="0.7"/>
<circle cx="1539.8" cy="766.8" r="8.0" fill="#8faadc" fill-opacity="0.7" stroke="#7f9fd8" stroke-opacity="0.7" stroke-width="0.7"/>
<circle cx="1539.8" cy="783.0" r="8.0" fill="#8faadc" fill-opacity="0.7" stroke="#7f9fd8" stroke-opacity="0.7" stroke-width="0.7"/>
<circle cx="1539.8" cy="792.0" r="8.0" fill="#8faadc" fill-opacity="0.7" stroke="#7f9fd8" stroke-opacity="0.7" stroke-width="0.7"/>
<circle cx="1554.3" cy="724.3" r="8.0" fill="#8faadc" fill-opacity="0.7" stroke="#7f9fd8" stroke-opacity="0.7" stroke-width="0.7"/>
<circle cx="1554.3" cy="747.3" r="8.0" fill="#8faadc" fill-opacity="0.7" stroke="#7f9fd8" stroke-opacity="0.7" stroke-width="0.7"/>
<circle cx="1565.5" cy="690.5" r="8.0" fill="#8faadc" fill-opacity="0.7" stroke="#7f9fd8" stroke-opacity="0.7" stroke-width="0.7"/>
<circle cx="1565.5" cy="710.8" r="8.0" fill="#8faadc" fill-opacity="0.7" stroke="#7f9fd8" stroke-opacity="0.7" stroke-width="0.7"/>
<circle cx="1600.4" cy="669.7" r="8.0" fill="#8faadc" fill-opacity="0.7" stroke="#7f9fd8" stroke-opacity="0.7" stroke-width="0.7"/>
<circle cx="1600.4" cy="671.0" r="8.0" fill="#8faadc" fill-opacity="0.7" stroke="#7f9fd8" stroke-opacity="0.7" stroke-width="0.7"/>
<circle cx="1646.6" cy="669.5" r="8.0" fill="#8faadc" fill-opacity="0.7" stroke="#7f9fd8" stroke-opacity="0.7" stroke-width="0.7"/>
<circle cx="1646.6" cy="672.0" r="8.0" fill="#8faadc" fill-opacity="0.7" stroke="#7f9fd8" stroke-opacity="0.7" stroke-width="0.7"/>
<circle cx="1681.5" cy="671.0" r="8.0" fill="#8faadc" fill-opacity="0.7" stroke="#7f9fd8" stroke-opacity="0.7" stroke-width="0.7"/>
<circle cx="1681.5" cy="672.0" r="8.0" fill="#8faadc" fill-opacity="0.7" stroke="#7f9fd8" stroke-opacity="0.7" stroke-width="0.7"/>
<circle cx="1716.3" cy="670.0" r="8.0" fill="#8faadc" fill-opacity="0.7" stroke="#7f9fd8" stroke-opacity="0.7" stroke-width="0.7"/>
<circle cx="1716.3" cy="673.0" r="8.0" fill="#8faadc" fill-opacity="0.7" stroke="#7f9fd8" stroke-opacity="0.7" stroke-width="0.7"/>
<circle cx="1762.5" cy="671.0" r="8.0" fill="#8faadc" fill-opacity="0.7" stroke="#7f9fd8" stroke-opacity="0.7" stroke-width="0.7"/>
<circle cx="1762.5" cy="673.0" r="8.0" fill="#8faadc" fill-opacity="0.7" stroke="#7f9fd8" stroke-opacity="0.7" stroke-width="0.7"/>
<line x1="1794.5" y1="554" x2="1794.5" y2="839.8" stroke="#000" stroke-width="2.2" stroke-dasharray="4.2 2.6"/>
<path d="M1788.3,554.5 L1794.5,546 L1800.7,554.5 Z" fill="#000"/>
<path d="M1788.3,839.3 L1794.5,847.8 L1800.7,839.3 Z" fill="#000"/>
<text x="1802.68" y="618.10" font-size="36.8" textLength="75.19" lengthAdjust="spacingAndGlyphs" class="bd">377x</text>
<text x="969.02" y="943.80" font-size="51.4" font-weight="bold">f</text>
<line x1="1825.3" y1="954.6" x2="1880.2" y2="954.6" stroke="#2f5597" stroke-width="5.4"/>
<line x1="1825.0" y1="995" x2="1880.9" y2="995" stroke="#689d38" stroke-width="5.8"/>
<text x="1886.43" y="966.90" font-size="35.3" textLength="88.49" lengthAdjust="spacing" class="bd">-Bxb1</text>
<text x="1886.28" y="1007.30" font-size="35.3" textLength="96.75" lengthAdjust="spacing" class="bd">+Bxb1</text>
<text transform="translate(1020.30 1204.30) rotate(-90)" x="-2.87" y="0" font-size="35" textLength="164.24" lengthAdjust="spacing" class="bd">Frequency</text>
<text x="1260.64" y="1281.00" font-size="35" textLength="502.93" lengthAdjust="spacing" class="bd">GFP fluorescence (logicle scale)</text>
<path d="M1041.9,1048 V1197.6 H1260.3" stroke="#111" stroke-width="2.3" fill="none"/>
<text x="1141.99" y="1041.00" font-size="35.8" textLength="19.61" lengthAdjust="spacingAndGlyphs" class="bd">0</text>
<path d="M1102.7,1197.6 v5.2 M1111.5,1197.6 v5.2 M1117.8,1197.6 v5.2 M1122.7,1197.6 v5.2 M1126.7,1197.6 v5.2 M1130.1,1197.6 v5.2 M1133.0,1197.6 v5.2 M1135.6,1197.6 v5.2 M1153.3,1197.6 v5.2 M1162.3,1197.6 v5.2 M1168.7,1197.6 v5.2 M1173.7,1197.6 v5.2 M1177.7,1197.6 v5.2 M1181.2,1197.6 v5.2 M1184.1,1197.6 v5.2 M1186.8,1197.6 v5.2 M1203.9,1197.6 v5.2 M1212.5,1197.6 v5.2 M1218.7,1197.6 v5.2 M1223.4,1197.6 v5.2 M1227.3,1197.6 v5.2 M1230.6,1197.6 v5.2 M1233.4,1197.6 v5.2 M1236.0,1197.6 v5.2 M1253.6,1197.6 v5.2 M1059.4,1197.6 v5.2 M1061.2,1197.6 v5.2 M1063.1,1197.6 v5.2 M1065.0,1197.6 v5.2 M1066.8,1197.6 v5.2 M1068.7,1197.6 v5.2 M1070.5,1197.6 v5.2 M1072.4,1197.6 v5.2 M1074.2,1197.6 v5.2 M1076.1,1197.6 v5.2 M1077.9,1197.6 v5.2 M1079.8,1197.6 v5.2 M1081.6,1197.6 v5.2 M1083.5,1197.6 v5.2 M1085.3,1197.6 v5.2 M1042.9,1197.6 v5.2 M1048.9,1197.6 v5.2" stroke="#111" stroke-width="1.2" fill="none"/>
<path d="M1087.5,1197.6 v9 M1137.9,1197.6 v9 M1189.1,1197.6 v9 M1238.2,1197.6 v9 M1059.4,1197.6 v9 M1259.3,1197.6 v5.2" stroke="#111" stroke-width="1.7" fill="none"/>
<text x="1062.77" y="1240.80" font-size="34.5" textLength="35.48" lengthAdjust="spacingAndGlyphs" class="bd">10</text>
<text x="1098.65" y="1229.60" font-size="20.5" textLength="10.49" lengthAdjust="spacingAndGlyphs">2</text>
<text x="1114.07" y="1240.80" font-size="34.5" textLength="35.48" lengthAdjust="spacingAndGlyphs" class="bd">10</text>
<text x="1150.18" y="1229.60" font-size="20.5" textLength="10.49" lengthAdjust="spacingAndGlyphs">3</text>
<text x="1166.07" y="1240.80" font-size="34.5" textLength="35.48" lengthAdjust="spacingAndGlyphs" class="bd">10</text>
<text x="1202.47" y="1229.60" font-size="20.5" textLength="10.49" lengthAdjust="spacingAndGlyphs">4</text>
<text x="1215.37" y="1240.80" font-size="34.5" textLength="35.48" lengthAdjust="spacingAndGlyphs" class="bd">10</text>
<text x="1251.44" y="1229.60" font-size="20.5" textLength="10.49" lengthAdjust="spacingAndGlyphs">5</text>
<path d="M1280.2,1048 V1197.6 H1500.8" stroke="#111" stroke-width="2.3" fill="none"/>
<text x="1370.89" y="1041.00" font-size="35.8" textLength="39.22" lengthAdjust="spacingAndGlyphs" class="bd">20</text>
<path d="M1343.4,1197.6 v5.2 M1352.2,1197.6 v5.2 M1358.5,1197.6 v5.2 M1363.4,1197.6 v5.2 M1367.4,1197.6 v5.2 M1370.8,1197.6 v5.2 M1373.7,1197.6 v5.2 M1376.3,1197.6 v5.2 M1394.0,1197.6 v5.2 M1403.0,1197.6 v5.2 M1409.4,1197.6 v5.2 M1414.4,1197.6 v5.2 M1418.4,1197.6 v5.2 M1421.9,1197.6 v5.2 M1424.8,1197.6 v5.2 M1427.5,1197.6 v5.2 M1444.6,1197.6 v5.2 M1453.2,1197.6 v5.2 M1459.4,1197.6 v5.2 M1464.1,1197.6 v5.2 M1468.0,1197.6 v5.2 M1471.3,1197.6 v5.2 M1474.1,1197.6 v5.2 M1476.7,1197.6 v5.2 M1494.3,1197.6 v5.2 M1298.9,1197.6 v5.2 M1300.8,1197.6 v5.2 M1302.6,1197.6 v5.2 M1304.5,1197.6 v5.2 M1306.3,1197.6 v5.2 M1308.2,1197.6 v5.2 M1310.0,1197.6 v5.2 M1311.9,1197.6 v5.2 M1313.7,1197.6 v5.2 M1315.5,1197.6 v5.2 M1317.4,1197.6 v5.2 M1319.2,1197.6 v5.2 M1321.1,1197.6 v5.2 M1323.0,1197.6 v5.2 M1324.8,1197.6 v5.2 M1326.7,1197.6 v5.2 M1281.2,1197.6 v5.2 M1287.9,1197.6 v5.2" stroke="#111" stroke-width="1.2" fill="none"/>
<path d="M1328.2,1197.6 v9 M1378.6,1197.6 v9 M1429.8,1197.6 v9 M1478.9,1197.6 v9 M1298.9,1197.6 v9 M1499.8,1197.6 v5.2" stroke="#111" stroke-width="1.7" fill="none"/>
<text x="1303.47" y="1240.80" font-size="34.5" textLength="35.48" lengthAdjust="spacingAndGlyphs" class="bd">10</text>
<text x="1339.35" y="1229.60" font-size="20.5" textLength="10.49" lengthAdjust="spacingAndGlyphs">2</text>
<text x="1354.77" y="1240.80" font-size="34.5" textLength="35.48" lengthAdjust="spacingAndGlyphs" class="bd">10</text>
<text x="1390.88" y="1229.60" font-size="20.5" textLength="10.49" lengthAdjust="spacingAndGlyphs">3</text>
<text x="1406.77" y="1240.80" font-size="34.5" textLength="35.48" lengthAdjust="spacingAndGlyphs" class="bd">10</text>
<text x="1443.17" y="1229.60" font-size="20.5" textLength="10.49" lengthAdjust="spacingAndGlyphs">4</text>
<text x="1456.07" y="1240.80" font-size="34.5" textLength="35.48" lengthAdjust="spacingAndGlyphs" class="bd">10</text>
<text x="1492.14" y="1229.60" font-size="20.5" textLength="10.49" lengthAdjust="spacingAndGlyphs">5</text>
<path d="M1520.8,1048 V1197.6 H1740.6999999999998" stroke="#111" stroke-width="2.3" fill="none"/>
<text x="1600.93" y="1041.00" font-size="35.8" textLength="58.83" lengthAdjust="spacingAndGlyphs" class="bd">100</text>
<path d="M1582.8,1197.6 v5.2 M1591.6,1197.6 v5.2 M1597.9,1197.6 v5.2 M1602.8,1197.6 v5.2 M1606.8,1197.6 v5.2 M1610.2,1197.6 v5.2 M1613.1,1197.6 v5.2 M1615.7,1197.6 v5.2 M1633.4,1197.6 v5.2 M1642.4,1197.6 v5.2 M1648.8,1197.6 v5.2 M1653.8,1197.6 v5.2 M1657.8,1197.6 v5.2 M1661.3,1197.6 v5.2 M1664.2,1197.6 v5.2 M1666.9,1197.6 v5.2 M1684.0,1197.6 v5.2 M1692.6,1197.6 v5.2 M1698.8,1197.6 v5.2 M1703.5,1197.6 v5.2 M1707.4,1197.6 v5.2 M1710.7,1197.6 v5.2 M1713.5,1197.6 v5.2 M1716.1,1197.6 v5.2 M1733.7,1197.6 v5.2 M1538.9,1197.6 v5.2 M1540.8,1197.6 v5.2 M1542.6,1197.6 v5.2 M1544.5,1197.6 v5.2 M1546.3,1197.6 v5.2 M1548.1,1197.6 v5.2 M1550.0,1197.6 v5.2 M1551.8,1197.6 v5.2 M1553.7,1197.6 v5.2 M1555.5,1197.6 v5.2 M1557.4,1197.6 v5.2 M1559.2,1197.6 v5.2 M1561.1,1197.6 v5.2 M1563.0,1197.6 v5.2 M1564.8,1197.6 v5.2 M1521.8,1197.6 v5.2 M1528.2,1197.6 v5.2" stroke="#111" stroke-width="1.2" fill="none"/>
<path d="M1567.6,1197.6 v9 M1618.0,1197.6 v9 M1669.2,1197.6 v9 M1718.3,1197.6 v9 M1538.9,1197.6 v9 M1739.7,1197.6 v5.2" stroke="#111" stroke-width="1.7" fill="none"/>
<text x="1542.87" y="1240.80" font-size="34.5" textLength="35.48" lengthAdjust="spacingAndGlyphs" class="bd">10</text>
<text x="1578.75" y="1229.60" font-size="20.5" textLength="10.49" lengthAdjust="spacingAndGlyphs">2</text>
<text x="1594.17" y="1240.80" font-size="34.5" textLength="35.48" lengthAdjust="spacingAndGlyphs" class="bd">10</text>
<text x="1630.28" y="1229.60" font-size="20.5" textLength="10.49" lengthAdjust="spacingAndGlyphs">3</text>
<text x="1646.17" y="1240.80" font-size="34.5" textLength="35.48" lengthAdjust="spacingAndGlyphs" class="bd">10</text>
<text x="1682.57" y="1229.60" font-size="20.5" textLength="10.49" lengthAdjust="spacingAndGlyphs">4</text>
<text x="1695.47" y="1240.80" font-size="34.5" textLength="35.48" lengthAdjust="spacingAndGlyphs" class="bd">10</text>
<text x="1731.54" y="1229.60" font-size="20.5" textLength="10.49" lengthAdjust="spacingAndGlyphs">5</text>
<path d="M1760.0,1048 V1197.6 H1979.3" stroke="#111" stroke-width="2.3" fill="none"/>
<text x="1831.06" y="1041.00" font-size="35.8" textLength="78.45" lengthAdjust="spacingAndGlyphs" class="bd">5000</text>
<path d="M1821.6,1197.6 v5.2 M1830.4,1197.6 v5.2 M1836.7,1197.6 v5.2 M1841.6,1197.6 v5.2 M1845.6,1197.6 v5.2 M1849.0,1197.6 v5.2 M1851.9,1197.6 v5.2 M1854.5,1197.6 v5.2 M1872.2,1197.6 v5.2 M1881.2,1197.6 v5.2 M1887.6,1197.6 v5.2 M1892.6,1197.6 v5.2 M1896.6,1197.6 v5.2 M1900.1,1197.6 v5.2 M1903.0,1197.6 v5.2 M1905.7,1197.6 v5.2 M1922.8,1197.6 v5.2 M1931.4,1197.6 v5.2 M1937.6,1197.6 v5.2 M1942.3,1197.6 v5.2 M1946.2,1197.6 v5.2 M1949.5,1197.6 v5.2 M1952.3,1197.6 v5.2 M1954.9,1197.6 v5.2 M1972.5,1197.6 v5.2 M1777.9,1197.6 v5.2 M1779.8,1197.6 v5.2 M1781.6,1197.6 v5.2 M1783.5,1197.6 v5.2 M1785.3,1197.6 v5.2 M1787.2,1197.6 v5.2 M1789.0,1197.6 v5.2 M1790.8,1197.6 v5.2 M1792.7,1197.6 v5.2 M1794.5,1197.6 v5.2 M1796.4,1197.6 v5.2 M1798.2,1197.6 v5.2 M1800.1,1197.6 v5.2 M1802.0,1197.6 v5.2 M1803.8,1197.6 v5.2 M1761.0,1197.6 v5.2 M1767.2,1197.6 v5.2" stroke="#111" stroke-width="1.2" fill="none"/>
<path d="M1806.4,1197.6 v9 M1856.8,1197.6 v9 M1908.0,1197.6 v9 M1957.1,1197.6 v9 M1777.9,1197.6 v9 M1978.3,1197.6 v5.2" stroke="#111" stroke-width="1.7" fill="none"/>
<text x="1781.67" y="1240.80" font-size="34.5" textLength="35.48" lengthAdjust="spacingAndGlyphs" class="bd">10</text>
<text x="1817.55" y="1229.60" font-size="20.5" textLength="10.49" lengthAdjust="spacingAndGlyphs">2</text>
<text x="1832.97" y="1240.80" font-size="34.5" textLength="35.48" lengthAdjust="spacingAndGlyphs" class="bd">10</text>
<text x="1869.08" y="1229.60" font-size="20.5" textLength="10.49" lengthAdjust="spacingAndGlyphs">3</text>
<text x="1884.97" y="1240.80" font-size="34.5" textLength="35.48" lengthAdjust="spacingAndGlyphs" class="bd">10</text>
<text x="1921.37" y="1229.60" font-size="20.5" textLength="10.49" lengthAdjust="spacingAndGlyphs">4</text>
<text x="1934.27" y="1240.80" font-size="34.5" textLength="35.48" lengthAdjust="spacingAndGlyphs" class="bd">10</text>
<text x="1970.34" y="1229.60" font-size="20.5" textLength="10.49" lengthAdjust="spacingAndGlyphs">5</text>
<polyline points="1040.4,1194.7 1041.4,1194.7 1042.4,1194.6 1043.4,1194.6 1044.4,1194.5 1045.4,1194.4 1046.4,1194.3 1047.4,1194.2 1048.4,1194.1 1049.4,1193.9 1050.4,1193.7 1051.4,1193.5 1052.4,1193.2 1053.4,1192.9 1054.4,1192.5 1055.4,1192.0 1056.4,1191.5 1057.4,1190.8 1058.4,1190.1 1059.4,1189.2 1060.4,1188.3 1061.4,1187.1 1062.4,1185.9 1063.4,1184.4 1064.4,1182.8 1065.4,1181.0 1066.4,1179.0 1067.4,1176.8 1068.4,1174.3 1069.4,1171.6 1070.4,1168.6 1071.4,1165.4 1072.4,1162.0 1073.4,1158.2 1074.4,1154.3 1075.4,1150.1 1076.4,1145.6 1077.4,1140.9 1078.4,1136.1 1079.4,1131.0 1080.4,1125.8 1081.4,1120.5 1082.4,1115.1 1083.4,1109.7 1084.4,1104.3 1085.4,1099.0 1086.4,1093.7 1087.4,1088.6 1088.4,1083.7 1089.4,1079.1 1090.4,1074.8 1091.4,1070.8 1092.4,1067.3 1093.4,1064.2 1094.4,1061.5 1095.4,1059.4 1096.4,1057.8 1097.4,1056.8 1098.4,1056.3 1099.4,1056.4 1100.4,1057.1 1101.4,1058.2 1102.4,1059.8 1103.4,1061.9 1104.4,1064.5 1105.4,1067.5 1106.4,1070.9 1107.4,1074.7 1108.4,1078.8 1109.4,1083.1 1110.4,1087.8 1111.4,1092.6 1112.4,1097.5 1113.4,1102.6 1114.4,1107.7 1115.4,1112.9 1116.4,1118.0 1117.4,1123.1 1118.4,1128.1 1119.4,1133.0 1120.4,1137.7 1121.4,1142.3 1122.4,1146.7 1123.4,1150.9 1124.4,1154.8 1125.4,1158.6 1126.4,1162.1 1127.4,1165.4 1128.4,1168.5 1129.4,1171.3 1130.4,1173.9 1131.4,1176.3 1132.4,1178.5 1133.4,1180.4 1134.4,1182.2 1135.4,1183.8 1136.4,1185.3 1137.4,1186.5 1138.4,1187.7 1139.4,1188.7 1140.4,1189.5 1141.4,1190.3 1142.4,1191.0 1143.4,1191.6 1144.4,1192.1 1145.4,1192.5 1146.4,1192.9 1147.4,1193.2 1148.4,1193.5 1149.4,1193.7 1150.4,1193.9 1151.4,1194.1 1152.4,1194.2 1153.4,1194.3 1154.4,1194.4 1155.4,1194.5 1156.4,1194.5 1157.4,1194.6 1158.4,1194.6 1159.4,1194.7 1160.4,1194.7 1161.4,1194.7 1162.4,1194.7 1163.4,1194.7 1164.4,1194.8 1165.4,1194.8 1166.4,1194.8 1167.4,1194.8 1168.4,1194.8 1169.4,1194.8 1170.4,1194.8 1171.4,1194.8 1172.4,1194.8 1173.4,1194.8 1174.4,1194.8 1175.4,1194.8 1176.4,1194.8 1177.4,1194.8 1178.4,1194.8 1179.4,1194.8 1180.4,1194.8 1181.4,1194.8 1182.4,1194.8 1183.4,1194.8 1184.4,1194.8 1185.4,1194.8 1186.4,1194.8 1187.4,1194.8 1188.4,1194.8 1189.4,1194.8 1190.4,1194.8 1191.4,1194.8 1192.4,1194.8 1193.4,1194.8 1194.4,1194.8 1195.4,1194.8 1196.4,1194.8 1197.4,1194.8 1198.4,1194.8 1199.4,1194.8 1200.4,1194.8 1201.4,1194.8 1202.4,1194.8 1203.4,1194.8 1204.4,1194.8 1205.4,1194.8 1206.4,1194.8 1207.4,1194.8 1208.4,1194.8 1209.4,1194.8 1210.4,1194.8 1211.4,1194.8 1212.4,1194.8 1213.4,1194.8 1214.4,1194.8 1215.4,1194.8 1216.4,1194.8 1217.4,1194.8 1218.4,1194.8 1219.4,1194.8 1220.4,1194.8 1221.4,1194.8 1222.4,1194.8 1223.4,1194.8 1224.4,1194.8 1225.4,1194.8 1226.4,1194.8 1227.4,1194.8 1228.4,1194.8 1229.4,1194.8 1230.4,1194.8 1231.4,1194.8 1232.4,1194.8 1233.4,1194.8 1234.4,1194.8 1235.4,1194.8 1236.4,1194.8 1237.4,1194.8 1238.4,1194.8 1239.4,1194.8 1240.4,1194.8 1241.4,1194.8 1242.4,1194.8 1243.4,1194.8 1244.4,1194.8 1245.4,1194.8 1246.4,1194.8 1247.4,1194.8 1248.4,1194.8 1249.4,1194.8 1250.4,1194.8 1251.4,1194.8 1252.4,1194.8 1253.4,1194.8 1254.4,1194.8 1255.4,1194.8 1256.4,1194.8 1257.4,1194.8 1258.4,1194.8 1259.7,1194.8" stroke="#2f5597" stroke-width="5.4" fill="none" stroke-linejoin="round"/>
<polyline points="1040.4,1194.7 1041.4,1194.7 1042.4,1194.7 1043.4,1194.6 1044.4,1194.5 1045.4,1194.5 1046.4,1194.3 1047.4,1194.2 1048.4,1193.9 1049.4,1193.6 1050.4,1193.2 1051.4,1192.7 1052.4,1192.1 1053.4,1191.2 1054.4,1190.2 1055.4,1188.9 1056.4,1187.2 1057.4,1185.3 1058.4,1182.9 1059.4,1180.1 1060.4,1176.8 1061.4,1172.9 1062.4,1168.5 1063.4,1163.6 1064.4,1158.0 1065.4,1151.9 1066.4,1145.2 1067.4,1138.1 1068.4,1130.5 1069.4,1122.7 1070.4,1114.7 1071.4,1106.8 1072.4,1098.9 1073.4,1091.4 1074.4,1084.4 1075.4,1078.1 1076.4,1072.6 1077.4,1068.1 1078.4,1064.7 1079.4,1062.5 1080.4,1061.5 1081.4,1061.7 1082.4,1062.8 1083.4,1064.8 1084.4,1067.7 1085.4,1071.4 1086.4,1075.8 1087.4,1080.8 1088.4,1086.3 1089.4,1092.2 1090.4,1098.3 1091.4,1104.6 1092.4,1111.0 1093.4,1117.2 1094.4,1123.4 1095.4,1129.3 1096.4,1134.9 1097.4,1140.1 1098.4,1145.0 1099.4,1149.4 1100.4,1153.4 1101.4,1157.0 1102.4,1160.2 1103.4,1162.9 1104.4,1165.3 1105.4,1167.3 1106.4,1169.0 1107.4,1170.4 1108.4,1171.5 1109.4,1172.5 1110.4,1173.2 1111.4,1173.7 1112.4,1174.2 1113.4,1174.5 1114.4,1174.7 1115.4,1174.9 1116.4,1175.1 1117.4,1175.2 1118.4,1175.3 1119.4,1175.4 1120.4,1175.5 1121.4,1175.6 1122.4,1175.7 1123.4,1175.8 1124.4,1175.9 1125.4,1176.0 1126.4,1176.1 1127.4,1176.2 1128.4,1176.3 1129.4,1176.4 1130.4,1176.6 1131.4,1176.7 1132.4,1176.9 1133.4,1177.1 1134.4,1177.3 1135.4,1177.5 1136.4,1177.7 1137.4,1177.9 1138.4,1178.1 1139.4,1178.4 1140.4,1178.6 1141.4,1178.9 1142.4,1179.2 1143.4,1179.4 1144.4,1179.7 1145.4,1180.0 1146.4,1180.3 1147.4,1180.6 1148.4,1180.9 1149.4,1181.2 1150.4,1181.5 1151.4,1181.8 1152.4,1182.2 1153.4,1182.5 1154.4,1182.8 1155.4,1183.1 1156.4,1183.4 1157.4,1183.8 1158.4,1184.1 1159.4,1184.4 1160.4,1184.7 1161.4,1185.0 1162.4,1185.3 1163.4,1185.6 1164.4,1185.9 1165.4,1186.3 1166.4,1186.5 1167.4,1186.8 1168.4,1187.1 1169.4,1187.4 1170.4,1187.7 1171.4,1188.0 1172.4,1188.2 1173.4,1188.5 1174.4,1188.8 1175.4,1189.0 1176.4,1189.3 1177.4,1189.5 1178.4,1189.7 1179.4,1190.0 1180.4,1190.2 1181.4,1190.4 1182.4,1190.6 1183.4,1190.8 1184.4,1191.0 1185.4,1191.2 1186.4,1191.4 1187.4,1191.5 1188.4,1191.7 1189.4,1191.9 1190.4,1192.0 1191.4,1192.2 1192.4,1192.3 1193.4,1192.4 1194.4,1192.6 1195.4,1192.7 1196.4,1192.8 1197.4,1192.9 1198.4,1193.0 1199.4,1193.1 1200.4,1193.2 1201.4,1193.3 1202.4,1193.4 1203.4,1193.5 1204.4,1193.6 1205.4,1193.7 1206.4,1193.7 1207.4,1193.8 1208.4,1193.9 1209.4,1193.9 1210.4,1194.0 1211.4,1194.0 1212.4,1194.1 1213.4,1194.1 1214.4,1194.2 1215.4,1194.2 1216.4,1194.3 1217.4,1194.3 1218.4,1194.4 1219.4,1194.4 1220.4,1194.4 1221.4,1194.4 1222.4,1194.5 1223.4,1194.5 1224.4,1194.5 1225.4,1194.5 1226.4,1194.6 1227.4,1194.6 1228.4,1194.6 1229.4,1194.6 1230.4,1194.6 1231.4,1194.6 1232.4,1194.7 1233.4,1194.7 1234.4,1194.7 1235.4,1194.7 1236.4,1194.7 1237.4,1194.7 1238.4,1194.7 1239.4,1194.7 1240.4,1194.7 1241.4,1194.7 1242.4,1194.7 1243.4,1194.7 1244.4,1194.8 1245.4,1194.8 1246.4,1194.8 1247.4,1194.8 1248.4,1194.8 1249.4,1194.8 1250.4,1194.8 1251.4,1194.8 1252.4,1194.8 1253.4,1194.8 1254.4,1194.8 1255.4,1194.8 1256.4,1194.8 1257.4,1194.8 1258.4,1194.8 1259.7,1194.8" stroke="#5e9c2c" stroke-width="5.4" fill="none" stroke-linejoin="round"/>
<polyline points="1278.7,1194.8 1279.7,1194.8 1280.7,1194.8 1281.7,1194.8 1282.7,1194.8 1283.7,1194.8 1284.7,1194.7 1285.7,1194.7 1286.7,1194.7 1287.7,1194.7 1288.7,1194.6 1289.7,1194.6 1290.7,1194.5 1291.7,1194.4 1292.7,1194.4 1293.7,1194.2 1294.7,1194.1 1295.7,1193.9 1296.7,1193.7 1297.7,1193.4 1298.7,1193.1 1299.7,1192.7 1300.7,1192.2 1301.7,1191.7 1302.7,1191.0 1303.7,1190.2 1304.7,1189.3 1305.7,1188.3 1306.7,1187.1 1307.7,1185.6 1308.7,1184.0 1309.7,1182.2 1310.7,1180.2 1311.7,1177.8 1312.7,1175.3 1313.7,1172.4 1314.7,1169.2 1315.7,1165.8 1316.7,1162.0 1317.7,1157.9 1318.7,1153.5 1319.7,1148.9 1320.7,1143.9 1321.7,1138.7 1322.7,1133.3 1323.7,1127.7 1324.7,1122.0 1325.7,1116.1 1326.7,1110.2 1327.7,1104.3 1328.7,1098.5 1329.7,1092.8 1330.7,1087.3 1331.7,1082.0 1332.7,1077.1 1333.7,1072.6 1334.7,1068.5 1335.7,1065.0 1336.7,1062.0 1337.7,1059.6 1338.7,1057.8 1339.7,1056.7 1340.7,1056.3 1341.7,1056.6 1342.7,1057.4 1343.7,1058.9 1344.7,1061.0 1345.7,1063.7 1346.7,1066.9 1347.7,1070.6 1348.7,1074.7 1349.7,1079.2 1350.7,1084.1 1351.7,1089.2 1352.7,1094.6 1353.7,1100.1 1354.7,1105.7 1355.7,1111.4 1356.7,1117.0 1357.7,1122.6 1358.7,1128.1 1359.7,1133.5 1360.7,1138.7 1361.7,1143.7 1362.7,1148.5 1363.7,1153.0 1364.7,1157.2 1365.7,1161.2 1366.7,1164.8 1367.7,1168.2 1368.7,1171.4 1369.7,1174.2 1370.7,1176.8 1371.7,1179.1 1372.7,1181.2 1373.7,1183.1 1374.7,1184.7 1375.7,1186.2 1376.7,1187.5 1377.7,1188.6 1378.7,1189.6 1379.7,1190.4 1380.7,1191.1 1381.7,1191.8 1382.7,1192.3 1383.7,1192.7 1384.7,1193.1 1385.7,1193.4 1386.7,1193.7 1387.7,1193.9 1388.7,1194.1 1389.7,1194.2 1390.7,1194.3 1391.7,1194.4 1392.7,1194.5 1393.7,1194.6 1394.7,1194.6 1395.7,1194.7 1396.7,1194.7 1397.7,1194.7 1398.7,1194.7 1399.7,1194.7 1400.7,1194.8 1401.7,1194.8 1402.7,1194.8 1403.7,1194.8 1404.7,1194.8 1405.7,1194.8 1406.7,1194.8 1407.7,1194.8 1408.7,1194.8 1409.7,1194.8 1410.7,1194.8 1411.7,1194.8 1412.7,1194.8 1413.7,1194.8 1414.7,1194.8 1415.7,1194.8 1416.7,1194.8 1417.7,1194.8 1418.7,1194.8 1419.7,1194.8 1420.7,1194.8 1421.7,1194.8 1422.7,1194.8 1423.7,1194.8 1424.7,1194.8 1425.7,1194.8 1426.7,1194.8 1427.7,1194.8 1428.7,1194.8 1429.7,1194.8 1430.7,1194.8 1431.7,1194.8 1432.7,1194.8 1433.7,1194.8 1434.7,1194.8 1435.7,1194.8 1436.7,1194.8 1437.7,1194.8 1438.7,1194.8 1439.7,1194.8 1440.7,1194.8 1441.7,1194.8 1442.7,1194.8 1443.7,1194.8 1444.7,1194.8 1445.7,1194.8 1446.7,1194.8 1447.7,1194.8 1448.7,1194.8 1449.7,1194.8 1450.7,1194.8 1451.7,1194.8 1452.7,1194.8 1453.7,1194.8 1454.7,1194.8 1455.7,1194.8 1456.7,1194.8 1457.7,1194.8 1458.7,1194.8 1459.7,1194.8 1460.7,1194.8 1461.7,1194.8 1462.7,1194.8 1463.7,1194.8 1464.7,1194.8 1465.7,1194.8 1466.7,1194.8 1467.7,1194.8 1468.7,1194.8 1469.7,1194.8 1470.7,1194.8 1471.7,1194.8 1472.7,1194.8 1473.7,1194.8 1474.7,1194.8 1475.7,1194.8 1476.7,1194.8 1477.7,1194.8 1478.7,1194.8 1479.7,1194.8 1480.7,1194.8 1481.7,1194.8 1482.7,1194.8 1483.7,1194.8 1484.7,1194.8 1485.7,1194.8 1486.7,1194.8 1487.7,1194.8 1488.7,1194.8 1489.7,1194.8 1490.7,1194.8 1491.7,1194.8 1492.7,1194.8 1493.7,1194.8 1494.7,1194.8 1495.7,1194.8 1496.7,1194.8 1497.7,1194.8 1498.7,1194.8 1499.7,1194.8 1500.2,1194.8" stroke="#2f5597" stroke-width="5.4" fill="none" stroke-linejoin="round"/>
<polyline points="1278.7,1194.3 1279.7,1194.3 1280.7,1193.5 1281.7,1192.0 1282.7,1190.4 1283.7,1188.9 1284.7,1187.3 1285.7,1185.8 1286.7,1184.2 1287.7,1182.7 1288.7,1181.1 1289.7,1179.6 1290.7,1178.0 1291.7,1176.5 1292.7,1174.9 1293.7,1173.4 1294.7,1171.8 1295.7,1170.3 1296.7,1168.7 1297.7,1167.2 1298.7,1165.6 1299.7,1164.4 1300.7,1163.6 1301.7,1162.8 1302.7,1162.0 1303.7,1161.3 1304.7,1160.6 1305.7,1159.9 1306.7,1159.3 1307.7,1158.7 1308.7,1158.1 1309.7,1157.6 1310.7,1157.1 1311.7,1156.7 1312.7,1156.4 1313.7,1156.0 1314.7,1155.8 1315.7,1155.5 1316.7,1155.4 1317.7,1155.3 1318.7,1155.2 1319.7,1155.3 1320.7,1155.5 1321.7,1155.7 1322.7,1156.1 1323.7,1156.5 1324.7,1157.0 1325.7,1157.7 1326.7,1158.3 1327.7,1159.1 1328.7,1159.9 1329.7,1160.8 1330.7,1161.7 1331.7,1162.6 1332.7,1163.6 1333.7,1164.6 1334.7,1165.7 1335.7,1166.7 1336.7,1167.7 1337.7,1168.8 1338.7,1169.8 1339.7,1170.8 1340.7,1171.8 1341.7,1172.7 1342.7,1173.6 1343.7,1174.5 1344.7,1175.3 1345.7,1176.1 1346.7,1176.9 1347.7,1177.6 1348.7,1178.2 1349.7,1178.8 1350.7,1179.4 1351.7,1179.9 1352.7,1180.3 1353.7,1180.7 1354.7,1181.1 1355.7,1181.4 1356.7,1181.6 1357.7,1181.8 1358.7,1182.0 1359.7,1182.1 1360.7,1182.2 1361.7,1182.3 1362.7,1182.3 1363.7,1182.3 1364.7,1182.2 1365.7,1182.2 1366.7,1182.1 1367.7,1181.9 1368.7,1181.8 1369.7,1181.6 1370.7,1181.5 1371.7,1181.2 1372.7,1181.0 1373.7,1180.8 1374.7,1180.6 1375.7,1180.3 1376.7,1180.0 1377.7,1179.8 1378.7,1179.5 1379.7,1179.2 1380.7,1178.9 1381.7,1178.6 1382.7,1178.3 1383.7,1177.9 1384.7,1177.6 1385.7,1177.3 1386.7,1176.9 1387.7,1176.6 1388.7,1176.3 1389.7,1175.9 1390.7,1175.6 1391.7,1175.2 1392.7,1174.9 1393.7,1174.5 1394.7,1174.1 1395.7,1173.8 1396.7,1173.4 1397.7,1173.1 1398.7,1172.7 1399.7,1172.3 1400.7,1172.0 1401.7,1171.6 1402.7,1171.3 1403.7,1170.9 1404.7,1170.6 1405.7,1170.2 1406.7,1169.9 1407.7,1169.6 1408.7,1169.3 1409.7,1168.9 1410.7,1168.6 1411.7,1168.3 1412.7,1168.1 1413.7,1167.8 1414.7,1167.5 1415.7,1167.3 1416.7,1167.0 1417.7,1166.8 1418.7,1166.6 1419.7,1166.4 1420.7,1166.2 1421.7,1166.0 1422.7,1165.9 1423.7,1165.8 1424.7,1165.7 1425.7,1165.6 1426.7,1165.5 1427.7,1165.5 1428.7,1165.4 1429.7,1165.4 1430.7,1165.4 1431.7,1165.5 1432.7,1165.5 1433.7,1165.6 1434.7,1165.7 1435.7,1165.9 1436.7,1166.0 1437.7,1166.2 1438.7,1166.4 1439.7,1166.7 1440.7,1166.9 1441.7,1167.2 1442.7,1167.5 1443.7,1167.9 1444.7,1168.2 1445.7,1168.6 1446.7,1169.0 1447.7,1169.5 1448.7,1169.9 1449.7,1170.4 1450.7,1170.8 1451.7,1171.3 1452.7,1171.8 1453.7,1172.4 1454.7,1172.9 1455.7,1173.4 1456.7,1174.0 1457.7,1174.6 1458.7,1175.1 1459.7,1175.7 1460.7,1176.3 1461.7,1176.8 1462.7,1177.4 1463.7,1178.0 1464.7,1178.6 1465.7,1179.1 1466.7,1179.7 1467.7,1180.3 1468.7,1180.8 1469.7,1181.4 1470.7,1181.9 1471.7,1182.5 1472.7,1183.0 1473.7,1183.5 1474.7,1184.0 1475.7,1184.5 1476.7,1185.0 1477.7,1185.5 1478.7,1185.9 1479.7,1186.4 1480.7,1186.8 1481.7,1187.2 1482.7,1187.6 1483.7,1188.0 1484.7,1188.4 1485.7,1188.7 1486.7,1189.1 1487.7,1189.4 1488.7,1189.7 1489.7,1190.0 1490.7,1190.3 1491.7,1190.6 1492.7,1190.9 1493.7,1191.1 1494.7,1191.4 1495.7,1191.6 1496.7,1191.8 1497.7,1192.0 1498.7,1192.2 1499.7,1192.4 1500.2,1192.5" stroke="#5e9c2c" stroke-width="5.4" fill="none" stroke-linejoin="round"/>
<rect x="1494.6" y="1184.8" width="6.2" height="12.0" fill="#5e9c2c"/>
<polyline points="1519.3,1194.8 1520.3,1194.8 1521.3,1194.8 1522.3,1194.8 1523.3,1194.8 1524.3,1194.8 1525.3,1194.8 1526.3,1194.8 1527.3,1194.8 1528.3,1194.8 1529.3,1194.8 1530.3,1194.8 1531.3,1194.8 1532.3,1194.8 1533.3,1194.7 1534.3,1194.7 1535.3,1194.7 1536.3,1194.7 1537.3,1194.7 1538.3,1194.7 1539.3,1194.7 1540.3,1194.7 1541.3,1194.6 1542.3,1194.6 1543.3,1194.6 1544.3,1194.6 1545.3,1194.5 1546.3,1194.5 1547.3,1194.5 1548.3,1194.4 1549.3,1194.4 1550.3,1194.3 1551.3,1194.2 1552.3,1194.2 1553.3,1194.1 1554.3,1194.0 1555.3,1193.9 1556.3,1193.8 1557.3,1193.7 1558.3,1193.6 1559.3,1193.4 1560.3,1193.3 1561.3,1193.1 1562.3,1192.9 1563.3,1192.7 1564.3,1192.5 1565.3,1192.2 1566.3,1191.9 1567.3,1191.6 1568.3,1191.3 1569.3,1191.0 1570.3,1190.6 1571.3,1190.2 1572.3,1189.7 1573.3,1189.3 1574.3,1188.8 1575.3,1188.2 1576.3,1187.6 1577.3,1187.0 1578.3,1186.3 1579.3,1185.6 1580.3,1184.8 1581.3,1184.0 1582.3,1183.1 1583.3,1182.2 1584.3,1181.2 1585.3,1180.1 1586.3,1179.0 1587.3,1177.9 1588.3,1176.6 1589.3,1175.4 1590.3,1174.0 1591.3,1172.6 1592.3,1171.1 1593.3,1169.6 1594.3,1168.0 1595.3,1166.3 1596.3,1164.6 1597.3,1162.8 1598.3,1161.0 1599.3,1159.1 1600.3,1157.1 1601.3,1155.1 1602.3,1153.1 1603.3,1151.0 1604.3,1148.8 1605.3,1146.7 1606.3,1144.4 1607.3,1142.2 1608.3,1139.9 1609.3,1137.6 1610.3,1135.3 1611.3,1133.0 1612.3,1130.7 1613.3,1128.4 1614.3,1126.1 1615.3,1123.8 1616.3,1121.6 1617.3,1119.3 1618.3,1117.2 1619.3,1115.0 1620.3,1112.9 1621.3,1110.9 1622.3,1109.0 1623.3,1107.1 1624.3,1105.3 1625.3,1103.6 1626.3,1102.0 1627.3,1100.4 1628.3,1099.0 1629.3,1097.7 1630.3,1096.6 1631.3,1095.5 1632.3,1094.6 1633.3,1093.8 1634.3,1093.1 1635.3,1092.6 1636.3,1092.2 1637.3,1091.9 1638.3,1091.8 1639.3,1091.9 1640.3,1092.5 1641.3,1093.6 1642.3,1095.1 1643.3,1097.1 1644.3,1099.5 1645.3,1102.2 1646.3,1105.3 1647.3,1108.8 1648.3,1112.5 1649.3,1116.4 1650.3,1120.4 1651.3,1124.6 1652.3,1128.9 1653.3,1133.2 1654.3,1137.5 1655.3,1141.7 1656.3,1145.9 1657.3,1150.0 1658.3,1153.9 1659.3,1157.6 1660.3,1161.2 1661.3,1164.6 1662.3,1167.7 1663.3,1170.7 1664.3,1173.4 1665.3,1175.9 1666.3,1178.2 1667.3,1180.3 1668.3,1182.2 1669.3,1183.8 1670.3,1185.4 1671.3,1186.7 1672.3,1187.9 1673.3,1188.9 1674.3,1189.8 1675.3,1190.6 1676.3,1191.3 1677.3,1191.9 1678.3,1192.4 1679.3,1192.8 1680.3,1193.2 1681.3,1193.5 1682.3,1193.7 1683.3,1193.9 1684.3,1194.1 1685.3,1194.2 1686.3,1194.3 1687.3,1194.4 1688.3,1194.5 1689.3,1194.6 1690.3,1194.6 1691.3,1194.7 1692.3,1194.7 1693.3,1194.7 1694.3,1194.7 1695.3,1194.8 1696.3,1194.8 1697.3,1194.8 1698.3,1194.8 1699.3,1194.8 1700.3,1194.8 1701.3,1194.8 1702.3,1194.8 1703.3,1194.8 1704.3,1194.8 1705.3,1194.8 1706.3,1194.8 1707.3,1194.8 1708.3,1194.8 1709.3,1194.8 1710.3,1194.8 1711.3,1194.8 1712.3,1194.8 1713.3,1194.8 1714.3,1194.8 1715.3,1194.8 1716.3,1194.8 1717.3,1194.8 1718.3,1194.8 1719.3,1194.8 1720.3,1194.8 1721.3,1194.8 1722.3,1194.8 1723.3,1194.8 1724.3,1194.8 1725.3,1194.8 1726.3,1194.8 1727.3,1194.8 1728.3,1194.8 1729.3,1194.8 1730.3,1194.8 1731.3,1194.8 1732.3,1194.8 1733.3,1194.8 1734.3,1194.8 1735.3,1194.8 1736.3,1194.8 1737.3,1194.8 1738.3,1194.8 1739.3,1194.8 1740.1,1194.8" stroke="#2f5597" stroke-width="5.4" fill="none" stroke-linejoin="round"/>
<polyline points="1519.3,1194.8 1520.3,1194.8 1521.3,1194.8 1522.3,1194.8 1523.3,1194.8 1524.3,1194.8 1525.3,1194.8 1526.3,1194.8 1527.3,1194.8 1528.3,1194.8 1529.3,1194.8 1530.3,1194.8 1531.3,1194.8 1532.3,1194.8 1533.3,1194.8 1534.3,1194.8 1535.3,1194.8 1536.3,1194.8 1537.3,1194.8 1538.3,1194.8 1539.3,1194.8 1540.3,1194.8 1541.3,1194.8 1542.3,1194.8 1543.3,1194.8 1544.3,1194.8 1545.3,1194.8 1546.3,1194.8 1547.3,1194.8 1548.3,1194.8 1549.3,1194.8 1550.3,1194.8 1551.3,1194.8 1552.3,1194.8 1553.3,1194.8 1554.3,1194.8 1555.3,1194.8 1556.3,1194.8 1557.3,1194.8 1558.3,1194.8 1559.3,1194.8 1560.3,1194.8 1561.3,1194.8 1562.3,1194.8 1563.3,1194.8 1564.3,1194.8 1565.3,1194.8 1566.3,1194.8 1567.3,1194.8 1568.3,1194.8 1569.3,1194.8 1570.3,1194.8 1571.3,1194.8 1572.3,1194.8 1573.3,1194.8 1574.3,1194.8 1575.3,1194.8 1576.3,1194.8 1577.3,1194.8 1578.3,1194.8 1579.3,1194.8 1580.3,1194.8 1581.3,1194.8 1582.3,1194.8 1583.3,1194.8 1584.3,1194.8 1585.3,1194.8 1586.3,1194.8 1587.3,1194.8 1588.3,1194.8 1589.3,1194.8 1590.3,1194.8 1591.3,1194.8 1592.3,1194.8 1593.3,1194.8 1594.3,1194.8 1595.3,1194.8 1596.3,1194.8 1597.3,1194.8 1598.3,1194.8 1599.3,1194.8 1600.3,1194.8 1601.3,1194.8 1602.3,1194.8 1603.3,1194.8 1604.3,1194.8 1605.3,1194.8 1606.3,1194.8 1607.3,1194.8 1608.3,1194.8 1609.3,1194.8 1610.3,1194.8 1611.3,1194.8 1612.3,1194.8 1613.3,1194.8 1614.3,1194.8 1615.3,1194.8 1616.3,1194.8 1617.3,1194.8 1618.3,1194.8 1619.3,1194.8 1620.3,1194.8 1621.3,1194.8 1622.3,1194.8 1623.3,1194.8 1624.3,1194.8 1625.3,1194.8 1626.3,1194.8 1627.3,1194.8 1628.3,1194.8 1629.3,1194.8 1630.3,1194.8 1631.3,1194.8 1632.3,1194.8 1633.3,1194.8 1634.3,1194.7 1635.3,1194.7 1636.3,1194.7 1637.3,1194.7 1638.3,1194.7 1639.3,1194.6 1640.3,1194.6 1641.3,1194.6 1642.3,1194.5 1643.3,1194.4 1644.3,1194.3 1645.3,1194.2 1646.3,1194.1 1647.3,1193.9 1648.3,1193.8 1649.3,1193.6 1650.3,1193.3 1651.3,1193.0 1652.3,1192.7 1653.3,1192.2 1654.3,1191.8 1655.3,1191.2 1656.3,1190.6 1657.3,1189.9 1658.3,1189.1 1659.3,1188.1 1660.3,1187.1 1661.3,1185.9 1662.3,1184.5 1663.3,1183.0 1664.3,1181.3 1665.3,1179.5 1666.3,1177.4 1667.3,1175.2 1668.3,1172.7 1669.3,1170.0 1670.3,1167.1 1671.3,1164.0 1672.3,1160.6 1673.3,1157.0 1674.3,1153.2 1675.3,1149.1 1676.3,1144.9 1677.3,1140.5 1678.3,1135.8 1679.3,1131.1 1680.3,1126.2 1681.3,1121.1 1682.3,1116.1 1683.3,1110.9 1684.3,1105.8 1685.3,1100.7 1686.3,1095.6 1687.3,1090.7 1688.3,1085.9 1689.3,1081.3 1690.3,1077.0 1691.3,1073.0 1692.3,1069.2 1693.3,1065.9 1694.3,1062.9 1695.3,1060.4 1696.3,1058.3 1697.3,1056.7 1698.3,1055.5 1699.3,1054.9 1700.3,1054.8 1701.3,1055.5 1702.3,1056.9 1703.3,1059.1 1704.3,1062.0 1705.3,1065.6 1706.3,1069.9 1707.3,1074.7 1708.3,1079.9 1709.3,1085.6 1710.3,1091.5 1711.3,1097.8 1712.3,1104.1 1713.3,1110.5 1714.3,1116.9 1715.3,1123.3 1716.3,1129.5 1717.3,1135.5 1718.3,1141.2 1719.3,1146.7 1720.3,1151.9 1721.3,1156.7 1722.3,1161.2 1723.3,1165.3 1724.3,1169.1 1725.3,1172.5 1726.3,1175.6 1727.3,1178.3 1728.3,1180.7 1729.3,1182.9 1730.3,1184.8 1731.3,1186.4 1732.3,1187.8 1733.3,1189.0 1734.3,1190.0 1735.3,1190.9 1736.3,1191.6 1737.3,1192.2 1738.3,1192.7 1739.3,1193.1 1740.1,1193.4" stroke="#5e9c2c" stroke-width="5.4" fill="none" stroke-linejoin="round"/>
<rect x="1734.5" y="1181.8" width="6.2" height="15.0" fill="#5e9c2c"/>
<polyline points="1758.5,1194.8 1759.5,1194.8 1760.5,1194.8 1761.5,1194.8 1762.5,1194.8 1763.5,1194.8 1764.5,1194.8 1765.5,1194.8 1766.5,1194.8 1767.5,1194.8 1768.5,1194.8 1769.5,1194.8 1770.5,1194.8 1771.5,1194.8 1772.5,1194.8 1773.5,1194.8 1774.5,1194.8 1775.5,1194.8 1776.5,1194.8 1777.5,1194.8 1778.5,1194.8 1779.5,1194.8 1780.5,1194.8 1781.5,1194.8 1782.5,1194.8 1783.5,1194.8 1784.5,1194.8 1785.5,1194.8 1786.5,1194.8 1787.5,1194.8 1788.5,1194.8 1789.5,1194.8 1790.5,1194.8 1791.5,1194.8 1792.5,1194.8 1793.5,1194.8 1794.5,1194.8 1795.5,1194.8 1796.5,1194.8 1797.5,1194.8 1798.5,1194.8 1799.5,1194.8 1800.5,1194.8 1801.5,1194.8 1802.5,1194.8 1803.5,1194.8 1804.5,1194.8 1805.5,1194.8 1806.5,1194.8 1807.5,1194.8 1808.5,1194.8 1809.5,1194.8 1810.5,1194.8 1811.5,1194.8 1812.5,1194.8 1813.5,1194.8 1814.5,1194.8 1815.5,1194.8 1816.5,1194.8 1817.5,1194.8 1818.5,1194.8 1819.5,1194.8 1820.5,1194.8 1821.5,1194.8 1822.5,1194.8 1823.5,1194.8 1824.5,1194.8 1825.5,1194.7 1826.5,1194.7 1827.5,1194.7 1828.5,1194.7 1829.5,1194.6 1830.5,1194.6 1831.5,1194.5 1832.5,1194.5 1833.5,1194.4 1834.5,1194.3 1835.5,1194.2 1836.5,1194.0 1837.5,1193.8 1838.5,1193.6 1839.5,1193.3 1840.5,1193.0 1841.5,1192.6 1842.5,1192.1 1843.5,1191.6 1844.5,1190.9 1845.5,1190.2 1846.5,1189.3 1847.5,1188.3 1848.5,1187.2 1849.5,1185.8 1850.5,1184.4 1851.5,1182.7 1852.5,1180.8 1853.5,1178.6 1854.5,1176.3 1855.5,1173.7 1856.5,1170.8 1857.5,1167.7 1858.5,1164.2 1859.5,1160.5 1860.5,1156.6 1861.5,1152.3 1862.5,1147.8 1863.5,1143.0 1864.5,1138.1 1865.5,1132.9 1866.5,1127.5 1867.5,1122.0 1868.5,1116.4 1869.5,1110.7 1870.5,1105.0 1871.5,1099.4 1872.5,1093.9 1873.5,1088.5 1874.5,1083.3 1875.5,1078.4 1876.5,1073.8 1877.5,1069.6 1878.5,1065.8 1879.5,1062.5 1880.5,1059.7 1881.5,1057.5 1882.5,1055.8 1883.5,1054.7 1884.5,1054.3 1885.5,1054.5 1886.5,1055.2 1887.5,1056.4 1888.5,1058.2 1889.5,1060.5 1890.5,1063.2 1891.5,1066.4 1892.5,1070.0 1893.5,1074.0 1894.5,1078.3 1895.5,1082.9 1896.5,1087.8 1897.5,1092.8 1898.5,1097.9 1899.5,1103.2 1900.5,1108.5 1901.5,1113.8 1902.5,1119.1 1903.5,1124.4 1904.5,1129.5 1905.5,1134.4 1906.5,1139.3 1907.5,1143.9 1908.5,1148.3 1909.5,1152.5 1910.5,1156.5 1911.5,1160.3 1912.5,1163.7 1913.5,1167.0 1914.5,1170.0 1915.5,1172.8 1916.5,1175.3 1917.5,1177.6 1918.5,1179.7 1919.5,1181.6 1920.5,1183.3 1921.5,1184.8 1922.5,1186.2 1923.5,1187.4 1924.5,1188.4 1925.5,1189.4 1926.5,1190.2 1927.5,1190.9 1928.5,1191.5 1929.5,1192.0 1930.5,1192.5 1931.5,1192.9 1932.5,1193.2 1933.5,1193.5 1934.5,1193.7 1935.5,1193.9 1936.5,1194.1 1937.5,1194.2 1938.5,1194.3 1939.5,1194.4 1940.5,1194.5 1941.5,1194.5 1942.5,1194.6 1943.5,1194.6 1944.5,1194.7 1945.5,1194.7 1946.5,1194.7 1947.5,1194.7 1948.5,1194.8 1949.5,1194.8 1950.5,1194.8 1951.5,1194.8 1952.5,1194.8 1953.5,1194.8 1954.5,1194.8 1955.5,1194.8 1956.5,1194.8 1957.5,1194.8 1958.5,1194.8 1959.5,1194.8 1960.5,1194.8 1961.5,1194.8 1962.5,1194.8 1963.5,1194.8 1964.5,1194.8 1965.5,1194.8 1966.5,1194.8 1967.5,1194.8 1968.5,1194.8 1969.5,1194.8 1970.5,1194.8 1971.5,1194.8 1972.5,1194.8 1973.5,1194.8 1974.5,1194.8 1975.5,1194.8 1976.5,1194.8 1977.5,1194.8 1978.7,1194.8" stroke="#2f5597" stroke-width="5.4" fill="none" stroke-linejoin="round"/>
<polyline points="1758.5,1194.8 1759.5,1194.8 1760.5,1194.8 1761.5,1194.8 1762.5,1194.8 1763.5,1194.8 1764.5,1194.8 1765.5,1194.8 1766.5,1194.8 1767.5,1194.8 1768.5,1194.8 1769.5,1194.8 1770.5,1194.8 1771.5,1194.8 1772.5,1194.8 1773.5,1194.8 1774.5,1194.8 1775.5,1194.8 1776.5,1194.8 1777.5,1194.8 1778.5,1194.8 1779.5,1194.8 1780.5,1194.8 1781.5,1194.8 1782.5,1194.8 1783.5,1194.8 1784.5,1194.8 1785.5,1194.8 1786.5,1194.8 1787.5,1194.8 1788.5,1194.8 1789.5,1194.8 1790.5,1194.8 1791.5,1194.8 1792.5,1194.8 1793.5,1194.8 1794.5,1194.8 1795.5,1194.8 1796.5,1194.8 1797.5,1194.8 1798.5,1194.8 1799.5,1194.8 1800.5,1194.8 1801.5,1194.8 1802.5,1194.8 1803.5,1194.8 1804.5,1194.8 1805.5,1194.8 1806.5,1194.8 1807.5,1194.8 1808.5,1194.8 1809.5,1194.8 1810.5,1194.8 1811.5,1194.8 1812.5,1194.8 1813.5,1194.8 1814.5,1194.8 1815.5,1194.8 1816.5,1194.8 1817.5,1194.8 1818.5,1194.8 1819.5,1194.8 1820.5,1194.8 1821.5,1194.8 1822.5,1194.8 1823.5,1194.8 1824.5,1194.8 1825.5,1194.8 1826.5,1194.8 1827.5,1194.8 1828.5,1194.8 1829.5,1194.8 1830.5,1194.8 1831.5,1194.8 1832.5,1194.8 1833.5,1194.8 1834.5,1194.8 1835.5,1194.8 1836.5,1194.8 1837.5,1194.8 1838.5,1194.8 1839.5,1194.8 1840.5,1194.8 1841.5,1194.8 1842.5,1194.8 1843.5,1194.8 1844.5,1194.8 1845.5,1194.8 1846.5,1194.8 1847.5,1194.8 1848.5,1194.8 1849.5,1194.8 1850.5,1194.8 1851.5,1194.8 1852.5,1194.8 1853.5,1194.8 1854.5,1194.8 1855.5,1194.8 1856.5,1194.8 1857.5,1194.8 1858.5,1194.8 1859.5,1194.8 1860.5,1194.8 1861.5,1194.8 1862.5,1194.8 1863.5,1194.8 1864.5,1194.8 1865.5,1194.8 1866.5,1194.8 1867.5,1194.8 1868.5,1194.8 1869.5,1194.8 1870.5,1194.8 1871.5,1194.8 1872.5,1194.7 1873.5,1194.7 1874.5,1194.7 1875.5,1194.7 1876.5,1194.7 1877.5,1194.6 1878.5,1194.6 1879.5,1194.5 1880.5,1194.5 1881.5,1194.4 1882.5,1194.3 1883.5,1194.2 1884.5,1194.1 1885.5,1193.9 1886.5,1193.7 1887.5,1193.5 1888.5,1193.2 1889.5,1192.9 1890.5,1192.5 1891.5,1192.1 1892.5,1191.6 1893.5,1191.0 1894.5,1190.3 1895.5,1189.5 1896.5,1188.6 1897.5,1187.6 1898.5,1186.5 1899.5,1185.3 1900.5,1183.8 1901.5,1182.3 1902.5,1180.5 1903.5,1178.6 1904.5,1176.4 1905.5,1174.1 1906.5,1171.6 1907.5,1168.8 1908.5,1165.9 1909.5,1162.8 1910.5,1159.4 1911.5,1155.8 1912.5,1152.1 1913.5,1148.2 1914.5,1144.1 1915.5,1139.9 1916.5,1135.5 1917.5,1131.1 1918.5,1126.6 1919.5,1122.0 1920.5,1117.5 1921.5,1113.0 1922.5,1108.5 1923.5,1104.2 1924.5,1100.1 1925.5,1096.1 1926.5,1092.4 1927.5,1088.9 1928.5,1085.8 1929.5,1082.9 1930.5,1080.5 1931.5,1078.5 1932.5,1076.9 1933.5,1075.7 1934.5,1075.0 1935.5,1074.8 1936.5,1075.1 1937.5,1076.0 1938.5,1077.5 1939.5,1079.6 1940.5,1082.2 1941.5,1085.3 1942.5,1088.9 1943.5,1092.9 1944.5,1097.2 1945.5,1101.8 1946.5,1106.7 1947.5,1111.7 1948.5,1116.8 1949.5,1122.0 1950.5,1127.2 1951.5,1132.3 1952.5,1137.4 1953.5,1142.3 1954.5,1147.0 1955.5,1151.5 1956.5,1155.8 1957.5,1159.9 1958.5,1163.7 1959.5,1167.2 1960.5,1170.4 1961.5,1173.4 1962.5,1176.1 1963.5,1178.6 1964.5,1180.8 1965.5,1182.7 1966.5,1184.5 1967.5,1186.0 1968.5,1187.3 1969.5,1188.5 1970.5,1189.5 1971.5,1190.4 1972.5,1191.1 1973.5,1191.8 1974.5,1192.3 1975.5,1192.8 1976.5,1193.2 1977.5,1193.5 1978.7,1193.8" stroke="#5e9c2c" stroke-width="5.4" fill="none" stroke-linejoin="round"/>
<rect x="1973.1" y="1174.8" width="6.2" height="22.0" fill="#5e9c2c"/>
<text x="4.59" y="971.00" font-size="51.4" font-weight="bold">c</text>
<text x="161.56" y="1029.00" font-size="36.8" textLength="19.48" lengthAdjust="spacingAndGlyphs" class="bd">0</text>
<text x="263.29" y="1029.00" font-size="36.8" textLength="19.48" lengthAdjust="spacingAndGlyphs" class="bd">5</text>
<text x="356.62" y="1029.00" font-size="36.8" textLength="38.97" lengthAdjust="spacingAndGlyphs" class="bd">20</text>
<text x="460.31" y="1029.00" font-size="36.8" textLength="38.97" lengthAdjust="spacingAndGlyphs" class="bd">60</text>
<text x="552.62" y="1029.00" font-size="36.8" textLength="58.45" lengthAdjust="spacingAndGlyphs" class="bd">100</text>
<text x="657.06" y="1029.00" font-size="36.8" textLength="58.45" lengthAdjust="spacingAndGlyphs" class="bd">500</text>
<text x="750.51" y="1029.00" font-size="36.8" textLength="77.94" lengthAdjust="spacingAndGlyphs" class="bd">5000</text>
<text transform="translate(111.50 1126.00) rotate(-90)" x="-1.53" y="0" font-size="38.3" textLength="90.22" lengthAdjust="spacingAndGlyphs" class="bd">-Bxb1</text>
<text transform="translate(111.50 1235.00) rotate(-90)" x="-1.63" y="0" font-size="38.3" textLength="95.77" lengthAdjust="spacingAndGlyphs" class="bd">+Bxb1</text>
<text x="124.29" y="1279.40" font-size="35.5" textLength="283.71" lengthAdjust="spacing" class="bd">BURST SBR (dB)</text>
<text x="446.43" y="1282.70" font-size="35.3" textLength="19.34" lengthAdjust="spacingAndGlyphs" class="bd">6</text>
<text x="616.57" y="1282.70" font-size="35.3" textLength="37.58" lengthAdjust="spacingAndGlyphs" class="bd">71</text>
<text x="747.24" y="1279.00" font-size="35" textLength="89.47" lengthAdjust="spacing" class="bd">2 mm</text>
<rect x="798" y="1240" width="37.6" height="4.2" fill="#000"/>
<defs><linearGradient id="parula" x1="0" x2="1" y1="0" y2="0"><stop offset="0.000" stop-color="#3e26a8"/><stop offset="0.071" stop-color="#4538d7"/><stop offset="0.143" stop-color="#484ff2"/><stop offset="0.214" stop-color="#4367fd"/><stop offset="0.286" stop-color="#2f80fa"/><stop offset="0.357" stop-color="#2797eb"/><stop offset="0.429" stop-color="#1caadf"/><stop offset="0.500" stop-color="#00b9c7"/><stop offset="0.571" stop-color="#29c3aa"/><stop offset="0.643" stop-color="#48cb86"/><stop offset="0.714" stop-color="#81cc59"/><stop offset="0.786" stop-color="#bbc42f"/><stop offset="0.857" stop-color="#eaba30"/><stop offset="0.929" stop-color="#fed43e"/><stop offset="1.000" stop-color="#f9fb15"/></linearGradient></defs>
<rect x="477.3" y="1264.0" width="129.7" height="13.9" rx="1.8" fill="url(#parula)" stroke="#222" stroke-width="2"/>
<defs>
<filter id="hm0" x="0" y="0" width="1" height="1" color-interpolation-filters="sRGB"><feTurbulence type="fractalNoise" baseFrequency="0.09 0.11" numOctaves="2" seed="53" result="d"/><feDisplacementMap in="SourceGraphic" in2="d" scale="11" xChannelSelector="R" yChannelSelector="G" result="sd"/><feGaussianBlur in="sd" stdDeviation="2.0" result="s"/><feTurbulence type="fractalNoise" baseFrequency="0.3 0.4" numOctaves="2" seed="3" result="t"/><feColorMatrix in="t" type="matrix" values="3 0 0 0 -1  3 0 0 0 -1  3 0 0 0 -1  0 0 0 0 1" result="n1"/><feColorMatrix in="t" type="matrix" values="0 4.5 0 0 -2.65  0 4.5 0 0 -2.65  0 4.5 0 0 -2.65  0 0 0 0 1" result="n2"/><feComposite in="s" in2="n1" operator="arithmetic" k1="0.6" k2="0.66" k3="0" k4="0" result="m"/><feComposite in="m" in2="n2" operator="arithmetic" k1="0" k2="1" k3="0.16" k4="0.0" result="i"/><feComponentTransfer in="i"><feFuncR type="table" tableValues="0.243 0.261 0.274 0.282 0.271 0.243 0.192 0.167 0.144 0.116 0.054 0.026 0.131 0.217 0.308 0.453 0.601 0.746 0.866 0.947 0.996"/><feFuncG type="table" tableValues="0.149 0.195 0.247 0.306 0.367 0.429 0.493 0.552 0.608 0.656 0.697 0.732 0.757 0.779 0.797 0.799 0.787 0.766 0.740 0.767 0.834"/><feFuncB type="table" tableValues="0.659 0.779 0.875 0.944 0.975 0.989 0.981 0.948 0.912 0.881 0.827 0.762 0.688 0.601 0.505 0.390 0.281 0.185 0.187 0.208 0.240"/><feFuncA type="linear" slope="0" intercept="1"/></feComponentTransfer></filter>
<clipPath id="hc0"><rect x="125.0" y="1037.8" width="89.8" height="90.2"/></clipPath>
<filter id="hm1" x="0" y="0" width="1" height="1" color-interpolation-filters="sRGB"><feTurbulence type="fractalNoise" baseFrequency="0.09 0.11" numOctaves="2" seed="60" result="d"/><feDisplacementMap in="SourceGraphic" in2="d" scale="11" xChannelSelector="R" yChannelSelector="G" result="sd"/><feGaussianBlur in="sd" stdDeviation="2.0" result="s"/><feTurbulence type="fractalNoise" baseFrequency="0.3 0.4" numOctaves="2" seed="10" result="t"/><feColorMatrix in="t" type="matrix" values="3 0 0 0 -1  3 0 0 0 -1  3 0 0 0 -1  0 0 0 0 1" result="n1"/><feColorMatrix in="t" type="matrix" values="0 4.5 0 0 -2.65  0 4.5 0 0 -2.65  0 4.5 0 0 -2.65  0 0 0 0 1" result="n2"/><feComposite in="s" in2="n1" operator="arithmetic" k1="0.6" k2="0.66" k3="0" k4="0" result="m"/><feComposite in="m" in2="n2" operator="arithmetic" k1="0" k2="1" k3="0.16" k4="0.0" result="i"/><feComponentTransfer in="i"><feFuncR type="table" tableValues="0.243 0.261 0.274 0.282 0.271 0.243 0.192 0.167 0.144 0.116 0.054 0.026 0.131 0.217 0.308 0.453 0.601 0.746 0.866 0.947 0.996"/><feFuncG type="table" tableValues="0.149 0.195 0.247 0.306 0.367 0.429 0.493 0.552 0.608 0.656 0.697 0.732 0.757 0.779 0.797 0.799 0.787 0.766 0.740 0.767 0.834"/><feFuncB type="table" tableValues="0.659 0.779 0.875 0.944 0.975 0.989 0.981 0.948 0.912 0.881 0.827 0.762 0.688 0.601 0.505 0.390 0.281 0.185 0.187 0.208 0.240"/><feFuncA type="linear" slope="0" intercept="1"/></feComponentTransfer></filter>
<clipPath id="hc1"><rect x="227.2" y="1037.8" width="89.8" height="90.2"/></clipPath>
<filter id="hm2" x="0" y="0" width="1" height="1" color-interpolation-filters="sRGB"><feTurbulence type="fractalNoise" baseFrequency="0.09 0.11" numOctaves="2" seed="67" result="d"/><feDisplacementMap in="SourceGraphic" in2="d" scale="11" xChannelSelector="R" yChannelSelector="G" result="sd"/><feGaussianBlur in="sd" stdDeviation="2.0" result="s"/><feTurbulence type="fractalNoise" baseFrequency="0.3 0.4" numOctaves="2" seed="17" result="t"/><feColorMatrix in="t" type="matrix" values="3 0 0 0 -1  3 0 0 0 -1  3 0 0 0 -1  0 0 0 0 1" result="n1"/><feColorMatrix in="t" type="matrix" values="0 4.5 0 0 -2.65  0 4.5 0 0 -2.65  0 4.5 0 0 -2.65  0 0 0 0 1" result="n2"/><feComposite in="s" in2="n1" operator="arithmetic" k1="0.6" k2="0.66" k3="0" k4="0" result="m"/><feComposite in="m" in2="n2" operator="arithmetic" k1="0" k2="1" k3="0.16" k4="0.0" result="i"/><feComponentTransfer in="i"><feFuncR type="table" tableValues="0.243 0.261 0.274 0.282 0.271 0.243 0.192 0.167 0.144 0.116 0.054 0.026 0.131 0.217 0.308 0.453 0.601 0.746 0.866 0.947 0.996"/><feFuncG type="table" tableValues="0.149 0.195 0.247 0.306 0.367 0.429 0.493 0.552 0.608 0.656 0.697 0.732 0.757 0.779 0.797 0.799 0.787 0.766 0.740 0.767 0.834"/><feFuncB type="table" tableValues="0.659 0.779 0.875 0.944 0.975 0.989 0.981 0.948 0.912 0.881 0.827 0.762 0.688 0.601 0.505 0.390 0.281 0.185 0.187 0.208 0.240"/><feFuncA type="linear" slope="0" intercept="1"/></feComponentTransfer></filter>
<clipPath id="hc2"><rect x="331.0" y="1037.8" width="89.8" height="90.2"/></clipPath>
<filter id="hm3" x="0" y="0" width="1" height="1" color-interpolation-filters="sRGB"><feTurbulence type="fractalNoise" baseFrequency="0.09 0.11" numOctaves="2" seed="74" result="d"/><feDisplacementMap in="SourceGraphic" in2="d" scale="11" xChannelSelector="R" yChannelSelector="G" result="sd"/><feGaussianBlur in="sd" stdDeviation="2.0" result="s"/><feTurbulence type="fractalNoise" baseFrequency="0.3 0.4" numOctaves="2" seed="24" result="t"/><feColorMatrix in="t" type="matrix" values="3 0 0 0 -1  3 0 0 0 -1  3 0 0 0 -1  0 0 0 0 1" result="n1"/><feColorMatrix in="t" type="matrix" values="0 4.5 0 0 -2.65  0 4.5 0 0 -2.65  0 4.5 0 0 -2.65  0 0 0 0 1" result="n2"/><feComposite in="s" in2="n1" operator="arithmetic" k1="0.6" k2="0.66" k3="0" k4="0" result="m"/><feComposite in="m" in2="n2" operator="arithmetic" k1="0" k2="1" k3="0.16" k4="0.0" result="i"/><feComponentTransfer in="i"><feFuncR type="table" tableValues="0.243 0.261 0.274 0.282 0.271 0.243 0.192 0.167 0.144 0.116 0.054 0.026 0.131 0.217 0.308 0.453 0.601 0.746 0.866 0.947 0.996"/><feFuncG type="table" tableValues="0.149 0.195 0.247 0.306 0.367 0.429 0.493 0.552 0.608 0.656 0.697 0.732 0.757 0.779 0.797 0.799 0.787 0.766 0.740 0.767 0.834"/><feFuncB type="table" tableValues="0.659 0.779 0.875 0.944 0.975 0.989 0.981 0.948 0.912 0.881 0.827 0.762 0.688 0.601 0.505 0.390 0.281 0.185 0.187 0.208 0.240"/><feFuncA type="linear" slope="0" intercept="1"/></feComponentTransfer></filter>
<clipPath id="hc3"><rect x="434.0" y="1037.8" width="89.8" height="90.2"/></clipPath>
<filter id="hm4" x="0" y="0" width="1" height="1" color-interpolation-filters="sRGB"><feTurbulence type="fractalNoise" baseFrequency="0.09 0.11" numOctaves="2" seed="81" result="d"/><feDisplacementMap in="SourceGraphic" in2="d" scale="11" xChannelSelector="R" yChannelSelector="G" result="sd"/><feGaussianBlur in="sd" stdDeviation="2.0" result="s"/><feTurbulence type="fractalNoise" baseFrequency="0.3 0.4" numOctaves="2" seed="31" result="t"/><feColorMatrix in="t" type="matrix" values="3 0 0 0 -1  3 0 0 0 -1  3 0 0 0 -1  0 0 0 0 1" result="n1"/><feColorMatrix in="t" type="matrix" values="0 4.5 0 0 -2.65  0 4.5 0 0 -2.65  0 4.5 0 0 -2.65  0 0 0 0 1" result="n2"/><feComposite in="s" in2="n1" operator="arithmetic" k1="0.6" k2="0.66" k3="0" k4="0" result="m"/><feComposite in="m" in2="n2" operator="arithmetic" k1="0" k2="1" k3="0.16" k4="0.0" result="i"/><feComponentTransfer in="i"><feFuncR type="table" tableValues="0.243 0.261 0.274 0.282 0.271 0.243 0.192 0.167 0.144 0.116 0.054 0.026 0.131 0.217 0.308 0.453 0.601 0.746 0.866 0.947 0.996"/><feFuncG type="table" tableValues="0.149 0.195 0.247 0.306 0.367 0.429 0.493 0.552 0.608 0.656 0.697 0.732 0.757 0.779 0.797 0.799 0.787 0.766 0.740 0.767 0.834"/><feFuncB type="table" tableValues="0.659 0.779 0.875 0.944 0.975 0.989 0.981 0.948 0.912 0.881 0.827 0.762 0.688 0.601 0.505 0.390 0.281 0.185 0.187 0.208 0.240"/><feFuncA type="linear" slope="0" intercept="1"/></feComponentTransfer></filter>
<clipPath id="hc4"><rect x="537.2" y="1037.8" width="89.8" height="90.2"/></clipPath>
<filter id="hm5" x="0" y="0" width="1" height="1" color-interpolation-filters="sRGB"><feTurbulence type="fractalNoise" baseFrequency="0.09 0.11" numOctaves="2" seed="88" result="d"/><feDisplacementMap in="SourceGraphic" in2="d" scale="11" xChannelSelector="R" yChannelSelector="G" result="sd"/><feGaussianBlur in="sd" stdDeviation="2.0" result="s"/><feTurbulence type="fractalNoise" baseFrequency="0.3 0.4" numOctaves="2" seed="38" result="t"/><feColorMatrix in="t" type="matrix" values="3 0 0 0 -1  3 0 0 0 -1  3 0 0 0 -1  0 0 0 0 1" result="n1"/><feColorMatrix in="t" type="matrix" values="0 4.5 0 0 -2.65  0 4.5 0 0 -2.65  0 4.5 0 0 -2.65  0 0 0 0 1" result="n2"/><feComposite in="s" in2="n1" operator="arithmetic" k1="0.6" k2="0.66" k3="0" k4="0" result="m"/><feComposite in="m" in2="n2" operator="arithmetic" k1="0" k2="1" k3="0.16" k4="0.0" result="i"/><feComponentTransfer in="i"><feFuncR type="table" tableValues="0.243 0.261 0.274 0.282 0.271 0.243 0.192 0.167 0.144 0.116 0.054 0.026 0.131 0.217 0.308 0.453 0.601 0.746 0.866 0.947 0.996"/><feFuncG type="table" tableValues="0.149 0.195 0.247 0.306 0.367 0.429 0.493 0.552 0.608 0.656 0.697 0.732 0.757 0.779 0.797 0.799 0.787 0.766 0.740 0.767 0.834"/><feFuncB type="table" tableValues="0.659 0.779 0.875 0.944 0.975 0.989 0.981 0.948 0.912 0.881 0.827 0.762 0.688 0.601 0.505 0.390 0.281 0.185 0.187 0.208 0.240"/><feFuncA type="linear" slope="0" intercept="1"/></feComponentTransfer></filter>
<clipPath id="hc5"><rect x="640.4" y="1037.8" width="89.8" height="90.2"/></clipPath>
<filter id="hm6" x="0" y="0" width="1" height="1" color-interpolation-filters="sRGB"><feTurbulence type="fractalNoise" baseFrequency="0.09 0.11" numOctaves="2" seed="95" result="d"/><feDisplacementMap in="SourceGraphic" in2="d" scale="11" xChannelSelector="R" yChannelSelector="G" result="sd"/><feGaussianBlur in="sd" stdDeviation="2.0" result="s"/><feTurbulence type="fractalNoise" baseFrequency="0.3 0.4" numOctaves="2" seed="45" result="t"/><feColorMatrix in="t" type="matrix" values="3 0 0 0 -1  3 0 0 0 -1  3 0 0 0 -1  0 0 0 0 1" result="n1"/><feColorMatrix in="t" type="matrix" values="0 4.5 0 0 -2.65  0 4.5 0 0 -2.65  0 4.5 0 0 -2.65  0 0 0 0 1" result="n2"/><feComposite in="s" in2="n1" operator="arithmetic" k1="0.6" k2="0.66" k3="0" k4="0" result="m"/><feComposite in="m" in2="n2" operator="arithmetic" k1="0" k2="1" k3="0.16" k4="0.0" result="i"/><feComponentTransfer in="i"><feFuncR type="table" tableValues="0.243 0.261 0.274 0.282 0.271 0.243 0.192 0.167 0.144 0.116 0.054 0.026 0.131 0.217 0.308 0.453 0.601 0.746 0.866 0.947 0.996"/><feFuncG type="table" tableValues="0.149 0.195 0.247 0.306 0.367 0.429 0.493 0.552 0.608 0.656 0.697 0.732 0.757 0.779 0.797 0.799 0.787 0.766 0.740 0.767 0.834"/><feFuncB type="table" tableValues="0.659 0.779 0.875 0.944 0.975 0.989 0.981 0.948 0.912 0.881 0.827 0.762 0.688 0.601 0.505 0.390 0.281 0.185 0.187 0.208 0.240"/><feFuncA type="linear" slope="0" intercept="1"/></feComponentTransfer></filter>
<clipPath id="hc6"><rect x="744.3" y="1037.8" width="89.8" height="90.2"/></clipPath>
<filter id="hm7" x="0" y="0" width="1" height="1" color-interpolation-filters="sRGB"><feTurbulence type="fractalNoise" baseFrequency="0.09 0.11" numOctaves="2" seed="102" result="d"/><feDisplacementMap in="SourceGraphic" in2="d" scale="11" xChannelSelector="R" yChannelSelector="G" result="sd"/><feGaussianBlur in="sd" stdDeviation="2.0" result="s"/><feTurbulence type="fractalNoise" baseFrequency="0.3 0.4" numOctaves="2" seed="52" result="t"/><feColorMatrix in="t" type="matrix" values="3 0 0 0 -1  3 0 0 0 -1  3 0 0 0 -1  0 0 0 0 1" result="n1"/><feColorMatrix in="t" type="matrix" values="0 4.5 0 0 -2.65  0 4.5 0 0 -2.65  0 4.5 0 0 -2.65  0 0 0 0 1" result="n2"/><feComposite in="s" in2="n1" operator="arithmetic" k1="0.6" k2="0.66" k3="0" k4="0" result="m"/><feComposite in="m" in2="n2" operator="arithmetic" k1="0" k2="1" k3="0.16" k4="0.0" result="i"/><feComponentTransfer in="i"><feFuncR type="table" tableValues="0.243 0.261 0.274 0.282 0.271 0.243 0.192 0.167 0.144 0.116 0.054 0.026 0.131 0.217 0.308 0.453 0.601 0.746 0.866 0.947 0.996"/><feFuncG type="table" tableValues="0.149 0.195 0.247 0.306 0.367 0.429 0.493 0.552 0.608 0.656 0.697 0.732 0.757 0.779 0.797 0.799 0.787 0.766 0.740 0.767 0.834"/><feFuncB type="table" tableValues="0.659 0.779 0.875 0.944 0.975 0.989 0.981 0.948 0.912 0.881 0.827 0.762 0.688 0.601 0.505 0.390 0.281 0.185 0.187 0.208 0.240"/><feFuncA type="linear" slope="0" intercept="1"/></feComponentTransfer></filter>
<clipPath id="hc7"><rect x="125.0" y="1143.2" width="89.8" height="90.2"/></clipPath>
<filter id="hm8" x="0" y="0" width="1" height="1" color-interpolation-filters="sRGB"><feTurbulence type="fractalNoise" baseFrequency="0.09 0.11" numOctaves="2" seed="109" result="d"/><feDisplacementMap in="SourceGraphic" in2="d" scale="11" xChannelSelector="R" yChannelSelector="G" result="sd"/><feGaussianBlur in="sd" stdDeviation="2.0" result="s"/><feTurbulence type="fractalNoise" baseFrequency="0.3 0.4" numOctaves="2" seed="59" result="t"/><feColorMatrix in="t" type="matrix" values="3 0 0 0 -1  3 0 0 0 -1  3 0 0 0 -1  0 0 0 0 1" result="n1"/><feColorMatrix in="t" type="matrix" values="0 4.5 0 0 -2.65  0 4.5 0 0 -2.65  0 4.5 0 0 -2.65  0 0 0 0 1" result="n2"/><feComposite in="s" in2="n1" operator="arithmetic" k1="0.6" k2="0.66" k3="0" k4="0" result="m"/><feComposite in="m" in2="n2" operator="arithmetic" k1="0" k2="1" k3="0.16" k4="0.0" result="i"/><feComponentTransfer in="i"><feFuncR type="table" tableValues="0.243 0.261 0.274 0.282 0.271 0.243 0.192 0.167 0.144 0.116 0.054 0.026 0.131 0.217 0.308 0.453 0.601 0.746 0.866 0.947 0.996"/><feFuncG type="table" tableValues="0.149 0.195 0.247 0.306 0.367 0.429 0.493 0.552 0.608 0.656 0.697 0.732 0.757 0.779 0.797 0.799 0.787 0.766 0.740 0.767 0.834"/><feFuncB type="table" tableValues="0.659 0.779 0.875 0.944 0.975 0.989 0.981 0.948 0.912 0.881 0.827 0.762 0.688 0.601 0.505 0.390 0.281 0.185 0.187 0.208 0.240"/><feFuncA type="linear" slope="0" intercept="1"/></feComponentTransfer></filter>
<clipPath id="hc8"><rect x="227.2" y="1143.2" width="89.8" height="90.2"/></clipPath>
<filter id="hm9" x="0" y="0" width="1" height="1" color-interpolation-filters="sRGB"><feTurbulence type="fractalNoise" baseFrequency="0.09 0.11" numOctaves="2" seed="116" result="d"/><feDisplacementMap in="SourceGraphic" in2="d" scale="11" xChannelSelector="R" yChannelSelector="G" result="sd"/><feGaussianBlur in="sd" stdDeviation="2.0" result="s"/><feTurbulence type="fractalNoise" baseFrequency="0.3 0.4" numOctaves="2" seed="66" result="t"/><feColorMatrix in="t" type="matrix" values="3 0 0 0 -1  3 0 0 0 -1  3 0 0 0 -1  0 0 0 0 1" result="n1"/><feColorMatrix in="t" type="matrix" values="0 4.5 0 0 -2.65  0 4.5 0 0 -2.65  0 4.5 0 0 -2.65  0 0 0 0 1" result="n2"/><feComposite in="s" in2="n1" operator="arithmetic" k1="0.6" k2="0.66" k3="0" k4="0" result="m"/><feComposite in="m" in2="n2" operator="arithmetic" k1="0" k2="1" k3="0.16" k4="0.0" result="i"/><feComponentTransfer in="i"><feFuncR type="table" tableValues="0.243 0.261 0.274 0.282 0.271 0.243 0.192 0.167 0.144 0.116 0.054 0.026 0.131 0.217 0.308 0.453 0.601 0.746 0.866 0.947 0.996"/><feFuncG type="table" tableValues="0.149 0.195 0.247 0.306 0.367 0.429 0.493 0.552 0.608 0.656 0.697 0.732 0.757 0.779 0.797 0.799 0.787 0.766 0.740 0.767 0.834"/><feFuncB type="table" tableValues="0.659 0.779 0.875 0.944 0.975 0.989 0.981 0.948 0.912 0.881 0.827 0.762 0.688 0.601 0.505 0.390 0.281 0.185 0.187 0.208 0.240"/><feFuncA type="linear" slope="0" intercept="1"/></feComponentTransfer></filter>
<clipPath id="hc9"><rect x="331.0" y="1143.2" width="89.8" height="90.2"/></clipPath>
<filter id="hm10" x="0" y="0" width="1" height="1" color-interpolation-filters="sRGB"><feTurbulence type="fractalNoise" baseFrequency="0.09 0.11" numOctaves="2" seed="123" result="d"/><feDisplacementMap in="SourceGraphic" in2="d" scale="11" xChannelSelector="R" yChannelSelector="G" result="sd"/><feGaussianBlur in="sd" stdDeviation="2.0" result="s"/><feTurbulence type="fractalNoise" baseFrequency="0.3 0.4" numOctaves="2" seed="73" result="t"/><feColorMatrix in="t" type="matrix" values="3 0 0 0 -1  3 0 0 0 -1  3 0 0 0 -1  0 0 0 0 1" result="n1"/><feColorMatrix in="t" type="matrix" values="0 4.5 0 0 -2.65  0 4.5 0 0 -2.65  0 4.5 0 0 -2.65  0 0 0 0 1" result="n2"/><feComposite in="s" in2="n1" operator="arithmetic" k1="0.6" k2="0.66" k3="0" k4="0" result="m"/><feComposite in="m" in2="n2" operator="arithmetic" k1="0" k2="1" k3="0.16" k4="0.0" result="i"/><feComponentTransfer in="i"><feFuncR type="table" tableValues="0.243 0.261 0.274 0.282 0.271 0.243 0.192 0.167 0.144 0.116 0.054 0.026 0.131 0.217 0.308 0.453 0.601 0.746 0.866 0.947 0.996"/><feFuncG type="table" tableValues="0.149 0.195 0.247 0.306 0.367 0.429 0.493 0.552 0.608 0.656 0.697 0.732 0.757 0.779 0.797 0.799 0.787 0.766 0.740 0.767 0.834"/><feFuncB type="table" tableValues="0.659 0.779 0.875 0.944 0.975 0.989 0.981 0.948 0.912 0.881 0.827 0.762 0.688 0.601 0.505 0.390 0.281 0.185 0.187 0.208 0.240"/><feFuncA type="linear" slope="0" intercept="1"/></feComponentTransfer></filter>
<clipPath id="hc10"><rect x="434.0" y="1143.2" width="89.8" height="90.2"/></clipPath>
<filter id="hm11" x="0" y="0" width="1" height="1" color-interpolation-filters="sRGB"><feTurbulence type="fractalNoise" baseFrequency="0.09 0.11" numOctaves="2" seed="130" result="d"/><feDisplacementMap in="SourceGraphic" in2="d" scale="11" xChannelSelector="R" yChannelSelector="G" result="sd"/><feGaussianBlur in="sd" stdDeviation="2.0" result="s"/><feTurbulence type="fractalNoise" baseFrequency="0.3 0.4" numOctaves="2" seed="80" result="t"/><feColorMatrix in="t" type="matrix" values="3 0 0 0 -1  3 0 0 0 -1  3 0 0 0 -1  0 0 0 0 1" result="n1"/><feColorMatrix in="t" type="matrix" values="0 4.5 0 0 -2.65  0 4.5 0 0 -2.65  0 4.5 0 0 -2.65  0 0 0 0 1" result="n2"/><feComposite in="s" in2="n1" operator="arithmetic" k1="0.6" k2="0.66" k3="0" k4="0" result="m"/><feComposite in="m" in2="n2" operator="arithmetic" k1="0" k2="1" k3="0.16" k4="0.0" result="i"/><feComponentTransfer in="i"><feFuncR type="table" tableValues="0.243 0.261 0.274 0.282 0.271 0.243 0.192 0.167 0.144 0.116 0.054 0.026 0.131 0.217 0.308 0.453 0.601 0.746 0.866 0.947 0.996"/><feFuncG type="table" tableValues="0.149 0.195 0.247 0.306 0.367 0.429 0.493 0.552 0.608 0.656 0.697 0.732 0.757 0.779 0.797 0.799 0.787 0.766 0.740 0.767 0.834"/><feFuncB type="table" tableValues="0.659 0.779 0.875 0.944 0.975 0.989 0.981 0.948 0.912 0.881 0.827 0.762 0.688 0.601 0.505 0.390 0.281 0.185 0.187 0.208 0.240"/><feFuncA type="linear" slope="0" intercept="1"/></feComponentTransfer></filter>
<clipPath id="hc11"><rect x="537.2" y="1143.2" width="89.8" height="90.2"/></clipPath>
<filter id="hm12" x="0" y="0" width="1" height="1" color-interpolation-filters="sRGB"><feTurbulence type="fractalNoise" baseFrequency="0.09 0.11" numOctaves="2" seed="137" result="d"/><feDisplacementMap in="SourceGraphic" in2="d" scale="11" xChannelSelector="R" yChannelSelector="G" result="sd"/><feGaussianBlur in="sd" stdDeviation="2.0" result="s"/><feTurbulence type="fractalNoise" baseFrequency="0.3 0.4" numOctaves="2" seed="87" result="t"/><feColorMatrix in="t" type="matrix" values="3 0 0 0 -1  3 0 0 0 -1  3 0 0 0 -1  0 0 0 0 1" result="n1"/><feColorMatrix in="t" type="matrix" values="0 4.5 0 0 -2.65  0 4.5 0 0 -2.65  0 4.5 0 0 -2.65  0 0 0 0 1" result="n2"/><feComposite in="s" in2="n1" operator="arithmetic" k1="0.6" k2="0.66" k3="0" k4="0" result="m"/><feComposite in="m" in2="n2" operator="arithmetic" k1="0" k2="1" k3="0.16" k4="0.0" result="i"/><feComponentTransfer in="i"><feFuncR type="table" tableValues="0.243 0.261 0.274 0.282 0.271 0.243 0.192 0.167 0.144 0.116 0.054 0.026 0.131 0.217 0.308 0.453 0.601 0.746 0.866 0.947 0.996"/><feFuncG type="table" tableValues="0.149 0.195 0.247 0.306 0.367 0.429 0.493 0.552 0.608 0.656 0.697 0.732 0.757 0.779 0.797 0.799 0.787 0.766 0.740 0.767 0.834"/><feFuncB type="table" tableValues="0.659 0.779 0.875 0.944 0.975 0.989 0.981 0.948 0.912 0.881 0.827 0.762 0.688 0.601 0.505 0.390 0.281 0.185 0.187 0.208 0.240"/><feFuncA type="linear" slope="0" intercept="1"/></feComponentTransfer></filter>
<clipPath id="hc12"><rect x="640.4" y="1143.2" width="89.8" height="90.2"/></clipPath>
<filter id="hm13" x="0" y="0" width="1" height="1" color-interpolation-filters="sRGB"><feTurbulence type="fractalNoise" baseFrequency="0.09 0.11" numOctaves="2" seed="144" result="d"/><feDisplacementMap in="SourceGraphic" in2="d" scale="11" xChannelSelector="R" yChannelSelector="G" result="sd"/><feGaussianBlur in="sd" stdDeviation="2.0" result="s"/><feTurbulence type="fractalNoise" baseFrequency="0.3 0.4" numOctaves="2" seed="94" result="t"/><feColorMatrix in="t" type="matrix" values="3 0 0 0 -1  3 0 0 0 -1  3 0 0 0 -1  0 0 0 0 1" result="n1"/><feColorMatrix in="t" type="matrix" values="0 4.5 0 0 -2.65  0 4.5 0 0 -2.65  0 4.5 0 0 -2.65  0 0 0 0 1" result="n2"/><feComposite in="s" in2="n1" operator="arithmetic" k1="0.6" k2="0.66" k3="0" k4="0" result="m"/><feComposite in="m" in2="n2" operator="arithmetic" k1="0" k2="1" k3="0.16" k4="0.0" result="i"/><feComponentTransfer in="i"><feFuncR type="table" tableValues="0.243 0.261 0.274 0.282 0.271 0.243 0.192 0.167 0.144 0.116 0.054 0.026 0.131 0.217 0.308 0.453 0.601 0.746 0.866 0.947 0.996"/><feFuncG type="table" tableValues="0.149 0.195 0.247 0.306 0.367 0.429 0.493 0.552 0.608 0.656 0.697 0.732 0.757 0.779 0.797 0.799 0.787 0.766 0.740 0.767 0.834"/><feFuncB type="table" tableValues="0.659 0.779 0.875 0.944 0.975 0.989 0.981 0.948 0.912 0.881 0.827 0.762 0.688 0.601 0.505 0.390 0.281 0.185 0.187 0.208 0.240"/><feFuncA type="linear" slope="0" intercept="1"/></feComponentTransfer></filter>
<clipPath id="hc13"><rect x="744.3" y="1143.2" width="89.8" height="90.2"/></clipPath>
</defs>
<g clip-path="url(#hc0)"><g filter="url(#hm0)"><rect x="117.0" y="1029.8" width="105.8" height="105.8" fill="#000"/>
<ellipse cx="171.0" cy="1069.8" rx="26" ry="11" fill="#333333"/>
<ellipse cx="181.0" cy="1070.8" rx="14" ry="9" fill="#474747"/>
<ellipse cx="153.0" cy="1071.8" rx="9" ry="7" fill="#474747"/>
<rect x="167.0" y="1050.8" width="2.2" height="45.0" fill="#666666"/>
</g></g>
<rect x="125.0" y="1037.8" width="89.8" height="90.2" fill="none" stroke="#15152e" stroke-width="0.9"/>
<g clip-path="url(#hc1)"><g filter="url(#hm1)"><rect x="219.2" y="1029.8" width="105.8" height="105.8" fill="#000"/>
<ellipse cx="274.2" cy="1069.8" rx="28" ry="10" fill="#333333"/>
<ellipse cx="279.2" cy="1067.8" rx="18" ry="6" fill="#4c4c4c"/>
<rect x="261.7" y="1053.8" width="2.2" height="54.0" fill="#616161"/>
</g></g>
<rect x="227.2" y="1037.8" width="89.8" height="90.2" fill="none" stroke="#15152e" stroke-width="0.9"/>
<g clip-path="url(#hc2)"><g filter="url(#hm2)"><rect x="323.0" y="1029.8" width="105.8" height="105.8" fill="#000"/>
<ellipse cx="376.0" cy="1069.8" rx="29" ry="12" fill="#2b2b2b"/>
<ellipse cx="371.0" cy="1067.8" rx="16" ry="6" fill="#404040"/>
<rect x="377.0" y="1051.8" width="2.2" height="56.0" fill="#5c5c5c"/>
</g></g>
<rect x="331.0" y="1037.8" width="89.8" height="90.2" fill="none" stroke="#15152e" stroke-width="0.9"/>
<g clip-path="url(#hc3)"><g filter="url(#hm3)"><rect x="426.0" y="1029.8" width="105.8" height="105.8" fill="#000"/>
<linearGradient id="hl3" x1="0.62" y1="0" x2="0.4" y2="1"><stop offset="0.06" stop-color="#858585"/><stop offset="0.38" stop-color="#5c5c5c"/><stop offset="0.7" stop-color="#3b3b3b"/><stop offset="1" stop-color="#1a1a1a"/></linearGradient>
<ellipse cx="480.0" cy="1082.8" rx="30" ry="32" fill="url(#hl3)"/>
<rect x="478.0" y="1053.8" width="2.2" height="64.0" fill="#5c5c5c"/>
</g></g>
<rect x="434.0" y="1037.8" width="89.8" height="90.2" fill="none" stroke="#15152e" stroke-width="0.9"/>
<g clip-path="url(#hc4)"><g filter="url(#hm4)"><rect x="529.2" y="1029.8" width="105.8" height="105.8" fill="#000"/>
<linearGradient id="hl4" x1="0.62" y1="0" x2="0.4" y2="1"><stop offset="0.06" stop-color="#d6d6d6"/><stop offset="0.38" stop-color="#6b6b6b"/><stop offset="0.7" stop-color="#474747"/><stop offset="1" stop-color="#242424"/></linearGradient>
<ellipse cx="583.2" cy="1082.8" rx="34" ry="36" fill="url(#hl4)"/>
</g></g>
<rect x="537.2" y="1037.8" width="89.8" height="90.2" fill="none" stroke="#15152e" stroke-width="0.9"/>
<g clip-path="url(#hc5)"><g filter="url(#hm5)"><rect x="632.4" y="1029.8" width="105.8" height="105.8" fill="#000"/>
<linearGradient id="hl5" x1="0.62" y1="0" x2="0.4" y2="1"><stop offset="0.06" stop-color="#d1d1d1"/><stop offset="0.38" stop-color="#707070"/><stop offset="0.7" stop-color="#4c4c4c"/><stop offset="1" stop-color="#292929"/></linearGradient>
<ellipse cx="685.4" cy="1082.8" rx="34" ry="37" fill="url(#hl5)"/>
</g></g>
<rect x="640.4" y="1037.8" width="89.8" height="90.2" fill="none" stroke="#15152e" stroke-width="0.9"/>
<g clip-path="url(#hc6)"><g filter="url(#hm6)"><rect x="736.3" y="1029.8" width="105.8" height="105.8" fill="#000"/>
<linearGradient id="hl6" x1="0.62" y1="0" x2="0.4" y2="1"><stop offset="0.06" stop-color="#d1d1d1"/><stop offset="0.38" stop-color="#707070"/><stop offset="0.7" stop-color="#4c4c4c"/><stop offset="1" stop-color="#292929"/></linearGradient>
<ellipse cx="791.3" cy="1084.8" rx="33" ry="37" fill="url(#hl6)"/>
</g></g>
<rect x="744.3" y="1037.8" width="89.8" height="90.2" fill="none" stroke="#15152e" stroke-width="0.9"/>
<g clip-path="url(#hc7)"><g filter="url(#hm7)"><rect x="117.0" y="1135.2" width="105.8" height="105.8" fill="#000"/>
<ellipse cx="170.0" cy="1172.2" rx="16" ry="10" fill="#121212"/>
<ellipse cx="172.0" cy="1169.2" rx="7" ry="5" fill="#1f1f1f"/>
</g></g>
<rect x="125.0" y="1143.2" width="89.8" height="90.2" fill="none" stroke="#15152e" stroke-width="0.9"/>
<g clip-path="url(#hc8)"><g filter="url(#hm8)"><rect x="219.2" y="1135.2" width="105.8" height="105.8" fill="#000"/>
<ellipse cx="272.2" cy="1174.2" rx="22" ry="12" fill="#141414"/>
<rect x="269.7" y="1155.2" width="2.2" height="38.0" fill="#333333"/>
</g></g>
<rect x="227.2" y="1143.2" width="89.8" height="90.2" fill="none" stroke="#15152e" stroke-width="0.9"/>
<g clip-path="url(#hc9)"><g filter="url(#hm9)"><rect x="323.0" y="1135.2" width="105.8" height="105.8" fill="#000"/>
<linearGradient id="hl9" x1="0.62" y1="0" x2="0.4" y2="1"><stop offset="0.06" stop-color="#9e9e9e"/><stop offset="0.38" stop-color="#707070"/><stop offset="0.7" stop-color="#525252"/><stop offset="1" stop-color="#333333"/></linearGradient>
<ellipse cx="378.0" cy="1186.2" rx="30" ry="31" fill="url(#hl9)"/>
<rect x="374.5" y="1153.2" width="2.2" height="62.0" fill="#808080"/>
</g></g>
<rect x="331.0" y="1143.2" width="89.8" height="90.2" fill="none" stroke="#15152e" stroke-width="0.9"/>
<g clip-path="url(#hc10)"><g filter="url(#hm10)"><rect x="426.0" y="1135.2" width="105.8" height="105.8" fill="#000"/>
<linearGradient id="hl10" x1="0.62" y1="0" x2="0.4" y2="1"><stop offset="0.06" stop-color="#e0e0e0"/><stop offset="0.38" stop-color="#8f8f8f"/><stop offset="0.7" stop-color="#6e6e6e"/><stop offset="1" stop-color="#4c4c4c"/></linearGradient>
<ellipse cx="479.0" cy="1189.2" rx="32" ry="34" fill="url(#hl10)"/>
</g></g>
<rect x="434.0" y="1143.2" width="89.8" height="90.2" fill="none" stroke="#15152e" stroke-width="0.9"/>
<g clip-path="url(#hc11)"><g filter="url(#hm11)"><rect x="529.2" y="1135.2" width="105.8" height="105.8" fill="#000"/>
<linearGradient id="hl11" x1="0.62" y1="0" x2="0.4" y2="1"><stop offset="0.06" stop-color="#e0e0e0"/><stop offset="0.38" stop-color="#8f8f8f"/><stop offset="0.7" stop-color="#707070"/><stop offset="1" stop-color="#525252"/></linearGradient>
<ellipse cx="582.2" cy="1189.2" rx="34" ry="35" fill="url(#hl11)"/>
<rect x="580.2" y="1153.2" width="2.2" height="70.0" fill="#999999"/>
</g></g>
<rect x="537.2" y="1143.2" width="89.8" height="90.2" fill="none" stroke="#15152e" stroke-width="0.9"/>
<g clip-path="url(#hc12)"><g filter="url(#hm12)"><rect x="632.4" y="1135.2" width="105.8" height="105.8" fill="#000"/>
<linearGradient id="hl12" x1="0.62" y1="0" x2="0.4" y2="1"><stop offset="0.06" stop-color="#e0e0e0"/><stop offset="0.38" stop-color="#8f8f8f"/><stop offset="0.7" stop-color="#707070"/><stop offset="1" stop-color="#525252"/></linearGradient>
<ellipse cx="687.4" cy="1188.2" rx="35" ry="34" fill="url(#hl12)"/>
</g></g>
<rect x="640.4" y="1143.2" width="89.8" height="90.2" fill="none" stroke="#15152e" stroke-width="0.9"/>
<g clip-path="url(#hc13)"><g filter="url(#hm13)"><rect x="736.3" y="1135.2" width="105.8" height="105.8" fill="#000"/>
<linearGradient id="hl13" x1="0.62" y1="0" x2="0.4" y2="1"><stop offset="0.06" stop-color="#ebebeb"/><stop offset="0.38" stop-color="#999999"/><stop offset="0.7" stop-color="#7a7a7a"/><stop offset="1" stop-color="#5c5c5c"/></linearGradient>
<ellipse cx="790.3" cy="1190.7" rx="34" ry="36.5" fill="url(#hl13)"/>
</g></g>
<rect x="744.3" y="1143.2" width="89.8" height="90.2" fill="none" stroke="#15152e" stroke-width="0.9"/>
</svg>
</body></html>
